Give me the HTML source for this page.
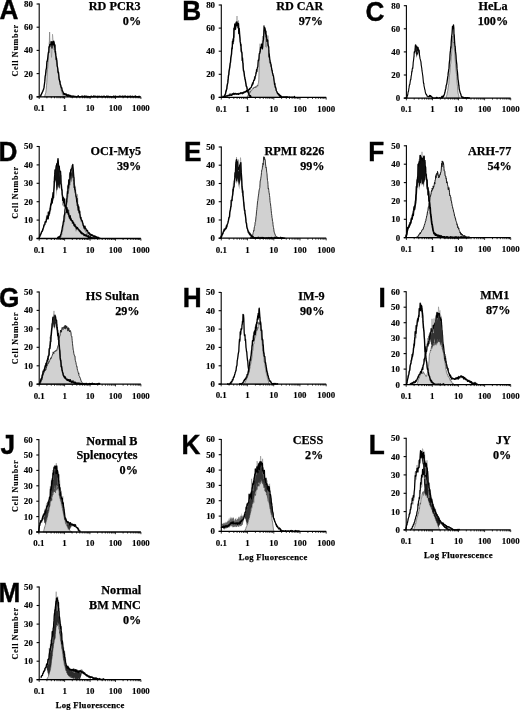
<!DOCTYPE html>
<html><head><meta charset="utf-8"><style>
html,body{margin:0;padding:0;background:#fff;width:520px;height:710px;overflow:hidden}
svg{display:block;will-change:transform;filter:blur(0.3px)}
.t{font-family:"Liberation Serif",serif;font-weight:bold;font-size:8.9px;fill:#000;stroke:#000;stroke-width:0.15px}
.h{font-family:"Liberation Serif",serif;font-weight:bold;font-size:12.2px;fill:#000;stroke:#000;stroke-width:0.25px}
.lf{font-family:"Liberation Serif",serif;font-weight:bold;font-size:8.6px;letter-spacing:0.3px;fill:#000;stroke:#000;stroke-width:0.25px}
.cn{font-family:"Liberation Serif",serif;font-weight:bold;font-size:8.1px;letter-spacing:0.7px;fill:#000;stroke:#000;stroke-width:0.12px}
.L{font-family:"Liberation Sans",sans-serif;font-weight:bold;font-size:27.3px;fill:#000;stroke:#000;stroke-width:0.4px}
</style></head><body>
<svg width="520" height="710" viewBox="0 0 520 710">
<rect width="520" height="710" fill="#fff"/>
<path d="M44 96.8 L44.2 96.3 L44.5 96.2 L44.8 96 L45 95.2 L45.2 94.1 L45.5 93.5 L45.8 92.5 L46 90.8 L46.2 89.6 L46.5 85.6 L46.8 82.5 L47 77.1 L47.2 72.8 L47.5 69.5 L47.8 66.7 L48 62 L48.2 59 L48.5 54.3 L48.8 52.2 L49 48.2 L49.2 46.8 L49.5 45.9 L49.8 44.5 L50 42.3 L50.2 44.6 L50.5 44 L50.8 45.2 L51 45.3 L51.2 43.4 L51.5 46.1 L51.8 43 L52 43.9 L52.2 44 L52.5 42 L52.8 44.4 L53 44.3 L53.2 43.1 L53.5 43.1 L53.8 42.8 L54 46.6 L54.2 49.9 L54.5 47.3 L54.8 52 L55 52.9 L55.2 53.7 L55.5 55.6 L55.8 57.9 L56 58.7 L56.2 60.1 L56.5 62.7 L56.8 64.1 L57 65 L57.2 66.7 L57.5 67.8 L57.8 69.9 L58 71.6 L58.2 73.3 L58.5 75.1 L58.8 76.5 L59 77.9 L59.2 79.8 L59.5 81.1 L59.8 82.2 L60 83.2 L60.2 85.1 L60.5 86.1 L60.8 86.9 L61 88.4 L61.2 89.9 L61.5 91 L61.8 91.9 L62 92.3 L62.2 93.1 L62.5 94.4 L62.8 94.4 L63 95.2 L63.2 95.8 L63.5 96 L63.8 96.2 L64 95.8 L64.2 96.5 L64.5 96.4 L64.8 96.8 L65 96.7 L65 96.8 L44 96.8 Z" fill="#d1d1d1" stroke="#444" stroke-width="0.6"/>
<path d="M40 96.5 L40.5 95.9 L41 94.9 L41.5 94.2 L42 93.3 L42.5 92.7 L43 91.2 L43.5 88.2 L44 87.3 L44.5 81.8 L45 78.4 L45.5 75.8 L46 71.7 L46.5 72.5 L47 60.8 L47.5 61 L48 61.7 L48.5 53.4 L49 45 L49.5 41.5 L50 44.7 L50.5 40.9 L51 48 L51.5 57.4 L52 51.9 L52.5 34.2 L53 39.1 L53.5 44.7 L54 42.9 L54.5 43.2 L55 47 L55.5 53 L56 53.6 L56.5 61.6 L57 60.4 L57.5 66.8 L58 71.4 L58.5 73.8 L59 76.9 L59.5 78.8 L60 82.1 L60.5 84.9 L61 85.9 L61.5 87.9 L62 89.4 L62.5 91.2 L63 91.7 L63.5 94.1 L64 94.2 L64.5 93.7 L65 94.6 L65.5 94.6 L66 94.8 L66.5 95 L67 94.8 L67.5 95.2 L68 95.3 L68.5 96 L69 95.9 L69.5 95.8 L70 96.1 L70.5 95.5 L71 96.3 L71.5 95.9 L72 96.8 L72.5 96.4 L73 96 L73.5 96.3 L74 95.9 L74.5 96.7 L75 96.4 L75.5 96.1 L76 96.8 L76.5 96.5 L77 96.8 L77.5 96.4 L78 96.6 L78.5 96.8 L79 96.5 L79.5 96.8 L80 96.4 L80.5 96.5 L81 96.4 L81.5 96.8 L82 96.8 L82.5 96.6 L83 96.8 L83.5 96.8 L84 96.4 L84.5 96.7 L85 96.8 L85.5 96.7 L86 96.5 L86.5 96.5 L87 95.8 L87.5 96.6 L88 96.8 L88.5 96.7 L89 96.2 L89.5 96.6 L90 96.8 L90.5 96.8 L91 96.8 L91.5 96.8 L92 96.6 L92.5 96.8 L93 96.8 L93.5 96.8 L94 96.7 L94.5 96.8 L95 96.3 L95.5 96.7 L96 96.4 L96.5 96.8 L97 96.8 L97.5 96.8 L98 96.8 L98.5 96.5 L99 96.7 L99.5 96.2 L100 96.8 L100.5 96.4 L101 96 L101.5 96.4 L102 96.6 L102.5 96.8 L103 96.5 L103.5 96.8 L104 96.7 L104.5 96.8 L105 96.2 L105.5 96.8 L106 96.8 L106.5 96.8 L107 96.8 L107.5 96.8 L108 96.8 L108.5 96 L109 96.8 L109.5 96.8 L110 96.7 L110.5 96.8 L111 96.7 L111.5 96.4 L112 96.8 L112.5 96.8 L113 96.8 L113.5 96 L114 96.8 L114.5 96.8 L115 96.8 L115.5 96.3 L116 96.8 L116.5 96.8 L117 96.8 L117.5 96.6 L118 96.8 L118.5 96.6 L119 96.7 L119.5 96.7 L120 96.6 L120.5 96.8 L121 96.8 L121.5 96.8 L122 96.8 L122.5 96.8 L123 96.8 L123.5 96.7 L124 96.8 L124.5 96.8 L125 96.8 L125.5 96.8 L126 96.8 L126.5 96.1 L127 96.8 L127.5 96.8 L128 96.8 L128.5 96.8 L129 96.8 L129.5 96.3 L130 96.8 L130.5 96.8 L131 96.6 L131.5 96.6 L132 96.8 L132.5 96.8 L133 96.7 L133.5 96.6 L134 96.8 L134.5 96.7 L135 96.8 L135.5 96.6 L136 96.4 L136.5 96.8 L137 96.8 L137.5 96.1 L138 96.8 L138.5 96.8 L139 96.8 L139.5 96.7 L140 96.8" fill="none" stroke="#8a8a8a" stroke-width="0.6" stroke-linejoin="round"/>
<path d="M40 96.8 L40.2 96.5 L40.5 95.6 L40.8 96.1 L41 94.7 L41.2 94.6 L41.5 94.1 L41.8 93.2 L42 93.1 L42.2 92.6 L42.5 91.6 L42.8 91.5 L43 90.4 L43.2 89.9 L43.5 89.8 L43.8 88.4 L44 87.7 L44.2 86 L44.5 83.8 L44.8 81.4 L45 78.7 L45.2 75.9 L45.5 75.4 L45.8 72 L46 69.6 L46.2 69.4 L46.5 67.7 L46.8 62.9 L47 61.1 L47.2 61.4 L47.5 59.6 L47.8 57.3 L48 55.3 L48.2 53.7 L48.5 51.9 L48.8 52.4 L49 46.9 L49.2 46.6 L49.5 47 L49.8 44.2 L50 46.1 L50.2 43.1 L50.5 43.1 L50.8 44 L51 44.2 L51.2 41.7 L51.5 43.8 L51.8 42.1 L52 48 L52.2 43.2 L52.5 42.7 L52.8 41.6 L53 44.6 L53.2 42.3 L53.5 44.8 L53.8 41.1 L54 42.5 L54.2 42.6 L54.5 47 L54.8 46.4 L55 44.9 L55.2 52 L55.5 51.4 L55.8 55.4 L56 56 L56.2 59.4 L56.5 58 L56.8 60.5 L57 62.4 L57.2 66 L57.5 66.9 L57.8 68.9 L58 71.8 L58.2 72.7 L58.5 72.1 L58.8 74.7 L59 78 L59.2 79.3 L59.5 80.3 L59.8 81.9 L60 81.2 L60.2 84.3 L60.5 84.5 L60.8 85.4 L61 86.8 L61.2 87.1 L61.5 88.1 L61.8 87.8 L62 89.3 L62.2 90.7 L62.5 90.9 L62.8 91.5 L63 92.3 L63.2 92.8 L63.5 93.9 L63.8 94.2 L64 93.4 L64.2 94.5 L64.5 93.9 L64.8 93.6 L65 94.5 L65.2 94.1 L65.5 94.1 L65.8 94.8 L66 93.9 L66.2 95.7 L66.5 94.7 L66.8 94.4 L67 95.1 L67.2 95 L67.5 95.6 L67.8 96.4 L68 95 L68.2 95.5 L68.5 94.9 L68.8 95.6 L69 96.1 L69.2 96.2 L69.5 95.7 L69.8 95.2 L70 96.4 L70.2 95.3 L70.5 96.6 L70.8 95.8 L71 96.8 L71.2 96.8 L71.5 96.8 L71.8 96.5 L72 95.8 L72.2 96 L72.5 96.6 L72.8 96.8 L73 96.5 L73.2 96.8 L73.5 96.8 L73.8 95.9 L74 96.8 L74.2 96.8 L74.5 96.8 L74.8 96.8 L75 96.3 L75.2 96.4 L75.5 96.8 L75.8 96.8 L76 96.6 L76.2 96.8 L76.5 96.8 L76.8 96.8 L77 96.5 L77.2 96.8 L77.5 96.7 L77.8 96.5 L78 96.6 L78.2 95.7 L78.5 96.5 L78.8 96.8 L79 96.8 L79.2 96.6 L79.5 96.8 L79.8 96.8 L80 96.8 L80.2 96.8 L80.5 96.6 L80.8 96.7 L81 96.7 L81.2 96.8 L81.5 96.6 L81.8 96.5 L82 95.9 L82.2 96.7 L82.5 96.3 L82.8 96.8 L83 96.8 L83.2 96.8 L83.5 96.6 L83.8 96.6 L84 96.8 L84.2 95.9 L84.5 96.5 L84.8 96.8 L85 96.8 L85.2 96.8 L85.5 96.1 L85.8 96.8 L86 96.5 L86.2 96.8 L86.5 96.3 L86.8 96.8 L87 96.5 L87.2 96.8 L87.5 96.5 L87.8 96.7 L88 96.8 L88.2 96.8 L88.5 96.4 L88.8 96.8 L89 96.8 L89.2 96.8 L89.5 96.6 L89.8 96.8 L90 96.8 L90.2 96.5 L90.5 96.8 L90.8 96.5 L91 96.4 L91.2 96.8 L91.5 96.1 L91.8 96.8 L92 96.8 L92.2 96.8 L92.5 96.8 L92.8 96.6 L93 96.5 L93.2 96.7 L93.5 96.3 L93.8 96.8 L94 96 L94.2 96.5 L94.5 96.8 L94.8 96.8 L95 96.4 L95.2 96.7 L95.5 96.5 L95.8 96.1 L96 96.8 L96.2 96.8 L96.5 96.8 L96.8 96.8 L97 96.8 L97.2 96.6 L97.5 96.5 L97.8 96.1 L98 96.8 L98.2 96.8 L98.5 96.8 L98.8 96.4 L99 96.8 L99.2 96.8 L99.5 96.3 L99.8 96.8 L100 96.7 L100.2 96.8 L100.5 96.8 L100.8 96.6 L101 96.7 L101.2 96.3 L101.5 96.8 L101.8 96.8 L102 96.8 L102.2 96.4 L102.5 96.7 L102.8 96.7 L103 96.8 L103.2 96.8 L103.5 96.8 L103.8 96.8 L104 96 L104.2 96.7 L104.5 96.8 L104.8 96.7 L105 96.8 L105.2 96.6 L105.5 96.8 L105.8 96.6 L106 96.8 L106.2 96.8 L106.5 96.2 L106.8 96.7 L107 96.1 L107.2 96.8 L107.5 96.8 L107.8 96.8 L108 96.1 L108.2 96.8 L108.5 96.4 L108.8 96.8 L109 96.8 L109.2 96.8 L109.5 96.6 L109.8 96.7 L110 96.4 L110.2 96.8 L110.5 96.8 L110.8 96.7 L111 96.8 L111.2 96.8 L111.5 96.8 L111.8 96.7 L112 96.8 L112.2 96.8 L112.5 96.8 L112.8 96.8 L113 96.8 L113.2 96.5 L113.5 96.1 L113.8 96.7 L114 96.8 L114.2 96.8 L114.5 96.7 L114.8 96.3 L115 96.8 L115.2 96.2 L115.5 96.8 L115.8 96.2 L116 96.8 L116.2 96.8 L116.5 96.8 L116.8 96.8 L117 96.8 L117.2 96.8 L117.5 96.4 L117.8 96.7 L118 96.6 L118.2 96.8 L118.5 96.5 L118.8 96.5 L119 96.8 L119.2 96.8 L119.5 96.3 L119.8 96.6 L120 95.9 L120.2 96.4 L120.5 96.6 L120.8 96.8 L121 96.5 L121.2 96.5 L121.5 96.6 L121.8 96.7 L122 96.5 L122.2 96.2 L122.5 96.2 L122.8 96.8 L123 96.4 L123.2 96.6 L123.5 96.8 L123.8 96.4 L124 96.2 L124.2 96.8 L124.5 96.8 L124.8 96.1 L125 96.5 L125.2 95.9 L125.5 96.8 L125.8 96.4 L126 96.8 L126.2 96.8 L126.5 96.8 L126.8 96.5 L127 96.8 L127.2 96.8 L127.5 96.3 L127.8 96.6 L128 96.7 L128.2 96.8 L128.5 96.8 L128.8 96.5 L129 96.2 L129.2 96.8 L129.5 96.8 L129.8 96.5 L130 96.8 L130.2 96.8 L130.5 96.1 L130.8 96.6 L131 96.8 L131.2 96.8 L131.5 96.8 L131.8 96.8 L132 96.5 L132.2 96.1 L132.5 96.8 L132.8 96.8 L133 96.8 L133.2 96.5 L133.5 96.8 L133.8 96.8 L134 96.8 L134.2 96.5 L134.5 96.5 L134.8 96.8 L135 96.8 L135.2 96.3 L135.5 95.9 L135.8 96.8 L136 96.3 L136.2 96.8 L136.5 96.6 L136.8 96.8 L137 96.7 L137.2 96.6 L137.5 96.8 L137.8 96.8 L138 96.8 L138.2 96.8 L138.5 96.8 L138.8 96.7 L139 96.1 L139.2 96.5 L139.5 96.8 L139.8 96.8 L140 96.6" fill="none" stroke="#000" stroke-width="1.3" stroke-linejoin="round"/>
<path d="M49.3 44 L49.6 32 L49.9 44" fill="none" stroke="#888" stroke-width="0.9"/>
<line x1="39.2" y1="3.5" x2="39.2" y2="96.8" stroke="#000" stroke-width="1.1"/>
<line x1="36.6" y1="96.8" x2="39.2" y2="96.8" stroke="#000" stroke-width="1.1"/>
<text x="32.9" y="99.7" class="t" text-anchor="end">0</text>
<line x1="36.6" y1="73.6" x2="39.2" y2="73.6" stroke="#000" stroke-width="1.1"/>
<text x="32.9" y="76.5" class="t" text-anchor="end">20</text>
<line x1="36.6" y1="50.4" x2="39.2" y2="50.4" stroke="#000" stroke-width="1.1"/>
<text x="32.9" y="53.3" class="t" text-anchor="end">40</text>
<line x1="36.6" y1="27.2" x2="39.2" y2="27.2" stroke="#000" stroke-width="1.1"/>
<text x="32.9" y="30.1" class="t" text-anchor="end">60</text>
<line x1="36.6" y1="4" x2="39.2" y2="4" stroke="#000" stroke-width="1.1"/>
<text x="32.9" y="6.9" class="t" text-anchor="end">80</text>
<line x1="36.6" y1="96.8" x2="140.9" y2="96.8" stroke="#000" stroke-width="1.3"/>
<path d="M39.2 96.8v2.2M46.9 96.8v1.5M51.3 96.8v1.5M54.5 96.8v1.5M57 96.8v1.5M59 96.8v1.5M60.7 96.8v1.5M62.2 96.8v1.5M63.5 96.8v1.5M64.6 96.8v2.2M72.3 96.8v1.5M76.8 96.8v1.5M79.9 96.8v1.5M82.4 96.8v1.5M84.4 96.8v1.5M86.1 96.8v1.5M87.6 96.8v1.5M88.9 96.8v1.5M90.1 96.8v2.2M97.7 96.8v1.5M102.2 96.8v1.5M105.4 96.8v1.5M107.8 96.8v1.5M109.8 96.8v1.5M111.5 96.8v1.5M113 96.8v1.5M114.3 96.8v1.5M115.5 96.8v2.2M123.1 96.8v1.5M127.6 96.8v1.5M130.8 96.8v1.5M133.2 96.8v1.5M135.3 96.8v1.5M137 96.8v1.5M138.4 96.8v1.5M139.7 96.8v1.5M140.9 96.8v2.2" stroke="#000" stroke-width="0.8"/>
<text x="39.2" y="111.1" class="t" text-anchor="middle">0.1</text>
<text x="64.6" y="111.1" class="t" text-anchor="middle">1</text>
<text x="90.1" y="111.1" class="t" text-anchor="middle">10</text>
<text x="115.5" y="111.1" class="t" text-anchor="middle">100</text>
<text x="140.9" y="111.1" class="t" text-anchor="middle">1000</text>
<text transform="translate(-0.5 18.6) scale(0.96 1)" class="L">A</text>
<text x="140.6" y="9.5" class="h" text-anchor="end">RD PCR3</text>
<text x="141.1" y="24.8" class="h" text-anchor="end">0%</text>
<text transform="translate(17.8 50.4) rotate(-90)" class="cn" text-anchor="middle">Cell Number</text>
<path d="M247 97.2 L247.2 96.8 L247.5 95.9 L247.8 96.3 L248 95.1 L248.2 94.7 L248.5 95 L248.8 93.3 L249 93.8 L249.2 92.7 L249.5 93.1 L249.8 91.5 L250 92.3 L250.2 91.2 L250.5 92.3 L250.8 91.1 L251 90.5 L251.2 90.9 L251.5 90.2 L251.8 89.9 L252 90.1 L252.2 89.3 L252.5 88.9 L252.8 88.8 L253 87.9 L253.2 89 L253.5 88.8 L253.8 87.6 L254 87.1 L254.2 88 L254.5 87 L254.8 86.9 L255 87.6 L255.2 87.4 L255.5 87.8 L255.8 86.3 L256 87.6 L256.2 86.6 L256.5 86.2 L256.8 85.8 L257 86.6 L257.2 85.2 L257.5 85.1 L257.8 86.1 L258 84.3 L258.2 83.5 L258.5 82.6 L258.8 79.9 L259 70.7 L259.2 61.1 L259.5 54.5 L259.8 54.4 L260 51.3 L260.2 49.5 L260.5 48.9 L260.8 47.8 L261 47 L261.2 47.3 L261.5 45.3 L261.8 45.4 L262 43.9 L262.2 43.4 L262.5 45 L262.8 42.3 L263 41.1 L263.2 39 L263.5 37.3 L263.8 34.7 L264 33 L264.2 30 L264.5 30.3 L264.8 32.5 L265 30 L265.2 29.7 L265.5 32 L265.8 37.3 L266 34.4 L266.2 36.7 L266.5 37.4 L266.8 37.3 L267 38.9 L267.2 40.9 L267.5 41.4 L267.8 43.6 L268 44.2 L268.2 44.1 L268.5 49.5 L268.8 50 L269 53.7 L269.2 55.4 L269.5 56.4 L269.8 59.2 L270 60.1 L270.2 61.7 L270.5 63 L270.8 63.6 L271 66.8 L271.2 64.9 L271.5 67.8 L271.8 68.1 L272 69.6 L272.2 69.6 L272.5 72.7 L272.8 72.9 L273 73.5 L273.2 75.6 L273.5 76.4 L273.8 78 L274 79.2 L274.2 80.2 L274.5 82 L274.8 83.8 L275 85.5 L275.2 86.5 L275.5 88 L275.8 87.8 L276 89.1 L276.2 89 L276.5 91.3 L276.8 91.6 L277 92.9 L277.2 93.2 L277.5 93.2 L277.8 93.4 L278 93.2 L278.2 93.4 L278.5 93.2 L278.8 94.1 L279 94.3 L279.2 95 L279.5 95.8 L279.8 95.2 L280 96.2 L280.2 96.3 L280.5 96.3 L280.8 96.9 L281 96.8 L281.2 96.3 L281.5 97 L281.8 97.4 L282 97.4 L282.2 96.5 L282.5 97.4 L282.8 96.7 L283 97.4 L283.2 97.4 L283.5 97 L283.8 97.2 L284 96.9 L284.2 96.7 L284.5 97.4 L284.8 97.4 L285 97.4 L285.2 97.4 L285.5 97.2 L285.8 96.9 L286 96.7 L286.2 97.2 L286.5 96.9 L286.8 97.1 L287 97.4 L287.2 96.9 L287.5 96.5 L287.8 97.4 L288 97.4 L288.2 97.4 L288.5 96.9 L288.8 97.2 L289 97.4 L289.2 97.4 L289.5 97.1 L289.8 97.4 L290 97.3 L290 97.4 L247 97.4 Z" fill="#d1d1d1" stroke="#444" stroke-width="0.6"/>
<path d="M224 97.1 L224.5 96.9 L225 96.4 L225.5 96.3 L226 95.8 L226.5 95.5 L227 95.5 L227.5 95.6 L228 95.2 L228.5 95.2 L229 95 L229.5 93.9 L230 94.4 L230.5 94.1 L231 93.9 L231.5 94.6 L232 94.9 L232.5 93.9 L233 94.4 L233.5 93.9 L234 95.1 L234.5 94.7 L235 93.9 L235.5 93.6 L236 94.2 L236.5 93.4 L237 94.2 L237.5 93.5 L238 93.4 L238.5 93 L239 93.7 L239.5 94.2 L240 93.1 L240.5 92.5 L241 93.3 L241.5 93.6 L242 93.1 L242.5 92.2 L243 92 L243.5 91.9 L244 91.5 L244.5 92.4 L245 91.9 L245.5 92 L246 91.4 L246.5 90.7 L247 90.9 L247.5 90.7 L248 89.7 L248.5 91.2 L249 88.9 L249.5 90.4 L250 89.5 L250.5 87.3 L251 88 L251.5 86.6 L252 83.9 L252.5 84.3 L253 83 L253.5 82.1 L254 79 L254.5 76.9 L255 77.4 L255.5 77.4 L256 73 L256.5 73.3 L257 71.1 L257.5 71.8 L258 64 L258.5 61.8 L259 56.6 L259.5 54.2 L260 43.7 L260.5 50.4 L261 48.5 L261.5 46.7 L262 47.3 L262.5 36.1 L263 47.6 L263.5 37.2 L264 30.6 L264.5 32.5 L265 31.3 L265.5 46.8 L266 36.9 L266.5 47.5 L267 39.2 L267.5 44.3 L268 35.6 L268.5 48.5 L269 56.8 L269.5 63.4 L270 61.2 L270.5 65.2 L271 64 L271.5 72.3 L272 72.7 L272.5 72.6 L273 75.5 L273.5 77.5 L274 80.4 L274.5 81 L275 83.4 L275.5 87.8 L276 90.8 L276.5 90.8 L277 92 L277.5 93.4 L278 93.2 L278.5 94.8 L279 94.1 L279.5 95 L280 95.6 L280.5 96.2 L281 96.8 L281.5 96.8 L282 97.1 L282.5 97.4 L283 97.4 L283.5 97.4 L284 96.8 L284.5 97.4 L285 97.4 L285.5 97.4 L286 97 L286.5 97.2 L287 97.1 L287.5 97.4 L288 97 L288.5 97.1 L289 96.9 L289.5 97.4 L290 97.4 L290.5 97.1 L291 96.9 L291.5 97.4 L292 97.4 L292.5 97.3 L293 97.1 L293.5 97.4 L294 97.4 L294.5 96.7 L295 97.4" fill="none" stroke="#8a8a8a" stroke-width="0.6" stroke-linejoin="round"/>
<path d="M224 97.4 L224.2 97 L224.5 97 L224.8 96.7 L225 96.3 L225.2 97 L225.5 96.1 L225.8 96.2 L226 95.8 L226.2 96.2 L226.5 96 L226.8 96.1 L227 96.3 L227.2 95.4 L227.5 95.9 L227.8 95.8 L228 95.8 L228.2 95.6 L228.5 95.6 L228.8 95.2 L229 95.1 L229.2 95.6 L229.5 95.6 L229.8 94.7 L230 93.9 L230.2 95.1 L230.5 95.1 L230.8 95.4 L231 95.3 L231.2 94.8 L231.5 95.5 L231.8 95.1 L232 94.3 L232.2 93.5 L232.5 94.9 L232.8 94.1 L233 94.4 L233.2 94.4 L233.5 94.3 L233.8 93 L234 93.8 L234.2 94.1 L234.5 94 L234.8 93.7 L235 94.4 L235.2 93.8 L235.5 93.3 L235.8 93.7 L236 93.9 L236.2 94 L236.5 93.8 L236.8 94.4 L237 93.7 L237.2 94 L237.5 94.1 L237.8 93.7 L238 94.2 L238.2 93.8 L238.5 94.5 L238.8 93.6 L239 93.3 L239.2 93.4 L239.5 93.8 L239.8 93.9 L240 93.7 L240.2 93.2 L240.5 93.6 L240.8 93 L241 92.5 L241.2 93 L241.5 93.1 L241.8 93.4 L242 93 L242.2 93.9 L242.5 92.6 L242.8 92.9 L243 93.2 L243.2 92.7 L243.5 92.2 L243.8 93.2 L244 92.3 L244.2 92.5 L244.5 92.3 L244.8 91.6 L245 92.1 L245.2 91.3 L245.5 92.1 L245.8 91.7 L246 91.7 L246.2 91.5 L246.5 90.5 L246.8 91.7 L247 90.5 L247.2 91.5 L247.5 91.7 L247.8 90.8 L248 91.1 L248.2 91.1 L248.5 89.6 L248.8 89.9 L249 89.3 L249.2 89.2 L249.5 88.7 L249.8 89.5 L250 88.4 L250.2 88.3 L250.5 87.8 L250.8 87.8 L251 87.6 L251.2 86.8 L251.5 87 L251.8 84.8 L252 85.5 L252.2 85.4 L252.5 82.8 L252.8 82.9 L253 84.1 L253.2 82.8 L253.5 81.4 L253.8 80 L254 80 L254.2 79.8 L254.5 80.2 L254.8 76.7 L255 78.6 L255.2 76.3 L255.5 76.1 L255.8 74.8 L256 72.3 L256.2 73.5 L256.5 69.7 L256.8 71.4 L257 70 L257.2 68.5 L257.5 67.2 L257.8 66.9 L258 63.4 L258.2 60.2 L258.5 60.9 L258.8 59.9 L259 58.1 L259.2 53.9 L259.5 53.4 L259.8 53.3 L260 51.4 L260.2 51.9 L260.5 47.4 L260.8 48.8 L261 48.1 L261.2 47.1 L261.5 44.1 L261.8 46.4 L262 45.8 L262.2 46.7 L262.5 48.8 L262.8 43.2 L263 42.2 L263.2 40.7 L263.5 39.9 L263.8 33.1 L264 25.8 L264.2 30.7 L264.5 28.4 L264.8 27.5 L265 30.4 L265.2 28.5 L265.5 34 L265.8 32.2 L266 31.2 L266.2 37.1 L266.5 35.1 L266.8 41.3 L267 40.7 L267.2 39.5 L267.5 40.3 L267.8 40.1 L268 45.4 L268.2 44.9 L268.5 46.8 L268.8 46.7 L269 57 L269.2 53.7 L269.5 56 L269.8 60 L270 60.1 L270.2 62.8 L270.5 62.2 L270.8 63.9 L271 64.7 L271.2 66.3 L271.5 67.4 L271.8 70.2 L272 70.5 L272.2 70.4 L272.5 73.2 L272.8 73.9 L273 75.1 L273.2 75.9 L273.5 75.7 L273.8 78.6 L274 80.3 L274.2 82 L274.5 84.3 L274.8 83.4 L275 85.4 L275.2 87.3 L275.5 86.7 L275.8 87.9 L276 88.9 L276.2 90.5 L276.5 91.1 L276.8 91.4 L277 91.9 L277.2 92.5 L277.5 93.6 L277.8 93.6 L278 93.4 L278.2 94.3 L278.5 93.8 L278.8 95.2 L279 94.2 L279.2 94.7 L279.5 96.1 L279.8 94.9 L280 95.7 L280.2 95.9 L280.5 97.1 L280.8 95.7 L281 96.1 L281.2 97.4 L281.5 96.3 L281.8 97.3 L282 97.4 L282.2 97.2 L282.5 97 L282.8 97.4 L283 97.4 L283.2 97.4 L283.5 97.4 L283.8 96.6 L284 97.4 L284.2 97.4 L284.5 97.4 L284.8 97.3 L285 96.8 L285.2 97.3 L285.5 97.4 L285.8 96.9 L286 96.7 L286.2 97.2 L286.5 97.4 L286.8 96.9 L287 97.2 L287.2 97.4 L287.5 97.2 L287.8 96.9 L288 97.3 L288.2 97.4 L288.5 97.4 L288.8 97.3 L289 97.4 L289.2 97 L289.5 97.3 L289.8 97.1 L290 97.4 L290.2 97.4 L290.5 97.4 L290.8 97.4 L291 97.4 L291.2 97.1 L291.5 97.4 L291.8 97.4 L292 97.4 L292.2 97.1 L292.5 97.4 L292.8 97.4 L293 97.4 L293.2 97.1 L293.5 97.4 L293.8 97.4 L294 97.4 L294.2 97.4 L294.5 96.4 L294.8 97.4 L295 97.3" fill="none" stroke="#000" stroke-width="1.2" stroke-linejoin="round"/>
<path d="M222.5 97.4 L223 97.4 L223.5 97.4 L224 97.4 L224.5 96.1 L225 94.9 L225.5 93.6 L226 91.7 L226.5 89.6 L227 86.3 L227.5 82.9 L228 78.6 L228.5 74.6 L229 71.1 L229.5 68.1 L230 67.9 L230.5 62.5 L231 57.2 L231.5 55.6 L232 48.2 L232.5 45.5 L233 38.2 L233.5 37.8 L234 28.2 L234.5 37.7 L235 25.3 L235.5 24.3 L236 26.3 L236.5 23.3 L237 16 L237.5 24.9 L238 24.6 L238.5 20.5 L239 31.4 L239.5 29.8 L240 35.6 L240.5 48.8 L241 51.7 L241.5 48.3 L242 53.9 L242.5 58.8 L243 65.4 L243.5 69.7 L244 73.4 L244.5 77.4 L245 79.6 L245.5 80.7 L246 85.8 L246.5 86 L247 89 L247.5 90.5 L248 91.4 L248.5 93.3 L249 95.4 L249.5 95.9 L250 95.8 L250.5 96.4 L251 97.1 L251.5 97.4 L252 97.4" fill="none" stroke="#8a8a8a" stroke-width="0.6" stroke-linejoin="round"/>
<path d="M222.5 97.4 L222.8 97.4 L223 96.2 L223.2 97.4 L223.5 97.4 L223.8 97.4 L224 96.8 L224.2 96.8 L224.5 95.9 L224.8 95.5 L225 94.8 L225.2 94.3 L225.5 93.8 L225.8 92 L226 90.8 L226.2 91.1 L226.5 89.4 L226.8 88.9 L227 86.5 L227.2 85.4 L227.5 83.9 L227.8 82.9 L228 80.4 L228.2 78.9 L228.5 75.3 L228.8 74.9 L229 71.9 L229.2 70.4 L229.5 68.8 L229.8 66.6 L230 64.9 L230.2 63 L230.5 62.5 L230.8 58.1 L231 56.9 L231.2 55.7 L231.5 54.1 L231.8 49 L232 47.7 L232.2 48.7 L232.5 41.2 L232.8 43.2 L233 43.7 L233.2 38.9 L233.5 41.3 L233.8 34.9 L234 28.3 L234.2 29.8 L234.5 27.7 L234.8 24.1 L235 23.9 L235.2 26.4 L235.5 29.2 L235.8 26.4 L236 24.2 L236.2 22.3 L236.5 25.7 L236.8 25.3 L237 21.9 L237.2 24.1 L237.5 24.5 L237.8 24.5 L238 27.8 L238.2 23.4 L238.5 23.7 L238.8 33.5 L239 29.3 L239.2 28.4 L239.5 33.9 L239.8 36.9 L240 38.7 L240.2 41.9 L240.5 42.9 L240.8 46 L241 44.5 L241.2 49.8 L241.5 52.2 L241.8 52.2 L242 54 L242.2 60.5 L242.5 57.9 L242.8 62.7 L243 63.3 L243.2 67.8 L243.5 70.9 L243.8 70.9 L244 72 L244.2 73.5 L244.5 76.4 L244.8 77.3 L245 79.2 L245.2 79.3 L245.5 81.3 L245.8 83.1 L246 84 L246.2 85.9 L246.5 86.6 L246.8 86.8 L247 87.9 L247.2 89.4 L247.5 90.6 L247.8 91 L248 91.7 L248.2 92.8 L248.5 92.8 L248.8 93.5 L249 94.5 L249.2 95.3 L249.5 95 L249.8 96.2 L250 96.2 L250.2 96.8 L250.5 95.7 L250.8 97.2 L251 97.2 L251.2 97.3 L251.5 97.4 L251.8 97.4 L252 97.4" fill="none" stroke="#000" stroke-width="1.4" stroke-linejoin="round"/>
<line x1="221.3" y1="4.5" x2="221.3" y2="97.4" stroke="#000" stroke-width="1.1"/>
<line x1="218.7" y1="97.4" x2="221.3" y2="97.4" stroke="#000" stroke-width="1.1"/>
<text x="215" y="100.3" class="t" text-anchor="end">0</text>
<line x1="218.7" y1="74.3" x2="221.3" y2="74.3" stroke="#000" stroke-width="1.1"/>
<text x="215" y="77.2" class="t" text-anchor="end">20</text>
<line x1="218.7" y1="51.2" x2="221.3" y2="51.2" stroke="#000" stroke-width="1.1"/>
<text x="215" y="54.1" class="t" text-anchor="end">40</text>
<line x1="218.7" y1="28.1" x2="221.3" y2="28.1" stroke="#000" stroke-width="1.1"/>
<text x="215" y="31" class="t" text-anchor="end">60</text>
<line x1="218.7" y1="5" x2="221.3" y2="5" stroke="#000" stroke-width="1.1"/>
<text x="215" y="7.9" class="t" text-anchor="end">80</text>
<line x1="218.7" y1="97.4" x2="326.2" y2="97.4" stroke="#000" stroke-width="1.3"/>
<path d="M221.3 97.4v2.2M229.2 97.4v1.5M233.8 97.4v1.5M237.1 97.4v1.5M239.6 97.4v1.5M241.7 97.4v1.5M243.5 97.4v1.5M245 97.4v1.5M246.3 97.4v1.5M247.5 97.4v2.2M255.4 97.4v1.5M260 97.4v1.5M263.3 97.4v1.5M265.9 97.4v1.5M267.9 97.4v1.5M269.7 97.4v1.5M271.2 97.4v1.5M272.6 97.4v1.5M273.8 97.4v2.2M281.6 97.4v1.5M286.3 97.4v1.5M289.5 97.4v1.5M292.1 97.4v1.5M294.2 97.4v1.5M295.9 97.4v1.5M297.4 97.4v1.5M298.8 97.4v1.5M300 97.4v2.2M307.9 97.4v1.5M312.5 97.4v1.5M315.8 97.4v1.5M318.3 97.4v1.5M320.4 97.4v1.5M322.1 97.4v1.5M323.7 97.4v1.5M325 97.4v1.5M326.2 97.4v2.2" stroke="#000" stroke-width="0.8"/>
<text x="221.3" y="111.7" class="t" text-anchor="middle">0.1</text>
<text x="247.5" y="111.7" class="t" text-anchor="middle">1</text>
<text x="273.8" y="111.7" class="t" text-anchor="middle">10</text>
<text x="300" y="111.7" class="t" text-anchor="middle">100</text>
<text x="326.2" y="111.7" class="t" text-anchor="middle">1000</text>
<text transform="translate(182.3 19.9) scale(0.96 1)" class="L">B</text>
<text x="323.2" y="10.1" class="h" text-anchor="end">RD CAR</text>
<text x="323" y="24.9" class="h" text-anchor="end">97%</text>
<path d="M405.5 98 L405.8 97.9 L406 98.1 L406.2 98 L406.5 97.7 L406.8 97.5 L407 97.7 L407.2 96.2 L407.5 95.6 L407.8 94.5 L408 92.9 L408.2 91.6 L408.5 91.5 L408.8 89 L409 87.9 L409.2 86.4 L409.5 84.6 L409.8 84.6 L410 83.1 L410.2 81.6 L410.5 79.6 L410.8 79.8 L411 77.6 L411.2 75.8 L411.5 74.9 L411.8 71.4 L412 71.8 L412.2 69.3 L412.5 67.9 L412.8 68.4 L413 65.7 L413.2 62.3 L413.5 60.7 L413.8 58.1 L414 56.3 L414.2 51.9 L414.5 52.5 L414.8 51.3 L415 51.2 L415.2 46.4 L415.5 44.7 L415.8 48.3 L416 46.3 L416.2 46.7 L416.5 46.6 L416.8 46.1 L417 48.3 L417.2 49.5 L417.5 50 L417.8 50.9 L418 47.2 L418.2 48.2 L418.5 49.6 L418.8 50.5 L419 53 L419.2 50 L419.5 54.7 L419.8 56.9 L420 58.4 L420.2 59 L420.5 60.4 L420.8 61 L421 62.4 L421.2 65.1 L421.5 66.7 L421.8 68.3 L422 70.7 L422.2 72 L422.5 74 L422.8 75.8 L423 77.7 L423.2 80.1 L423.5 83.2 L423.8 83.1 L424 85.8 L424.2 86.7 L424.5 88.1 L424.8 89.6 L425 89.9 L425.2 91.6 L425.5 92.8 L425.8 93.8 L426 93.9 L426.2 94.6 L426.5 94.4 L426.8 95.1 L427 96.1 L427.2 95.9 L427.5 96.1 L427.8 96.3 L428 96.7 L428.2 96.8 L428.5 96.7 L428.8 96.7 L429 96.4 L429.2 96.6 L429.5 95.4 L429.8 95.9 L430 96.7 L430.2 95.5 L430.5 96.4 L430.8 95.6 L431 96.3 L431.2 96.2 L431.5 96.7 L431.8 97 L432 97.3 L432.2 97.9 L432.5 97.2 L432.8 97.8 L433 98.1 L433.2 98 L433.5 98.1 L433.8 98.1 L434 98.1 L434.2 98.1 L434.5 98.1 L434.8 98.1 L435 98.1 L435.2 98.1 L435.5 98.1 L435.8 97.8 L436 97.9 L436.2 98.1 L436.5 97.2 L436.8 98.1 L437 97.3 L437.2 98 L437.5 98.1 L437.8 97.8 L438 98.1 L438.2 98 L438.5 98.1 L438.8 98.1 L439 98.1 L439.2 97.9 L439.5 97.7 L439.8 97.5 L440 97.5" fill="none" stroke="#000" stroke-width="1.1" stroke-linejoin="round"/>
<path d="M411 78.5 L411.2 76.5 L411.5 73.6 L411.8 73.1 L412 70.4 L412.2 70.1 L412.5 68.2 L412.8 67.2 L413 64 L413.2 62.4 L413.5 61.8 L413.8 58 L414 55.6 L414.2 56.2 L414.5 53.7 L414.8 48.8 L415 47.9 L415.2 47.4 L415.5 45.3 L415.8 48.1 L416 47 L416.2 45.6 L416.5 43.9 L416.8 50.7 L417 45.9 L417.2 46.8 L417.5 53 L417.8 51.2 L418 47.1 L418.2 53.8 L418.5 51.1 L418.8 47.5 L419 51 L419.2 51.6 L419.5 54.6 L419.8 57 L420 59.3 L420.2 60.1 L420.5 60.7 L420.8 60.3 L421 61.5 L421.2 65.1 L421.5 65.5 L421.8 68.6 L422 71.3 L422.2 73.1 L422.5 74.2 L422.8 76.7 L423 78.6 L423 79.1 L422.8 77.2 L422.5 74.7 L422.2 73.6 L422 71.8 L421.8 69.1 L421.5 67.6 L421.2 65.6 L421 64.1 L420.8 60.8 L420.5 61.2 L420.2 60.6 L420 59.8 L419.8 57.5 L419.5 56.5 L419.2 52.6 L419 51.5 L418.8 52.7 L418.5 51.8 L418.2 54.3 L418 56.8 L417.8 54 L417.5 54.6 L417.2 55 L417 56.1 L416.8 58.1 L416.5 56.3 L416.2 55 L416 53.8 L415.8 53.9 L415.5 51.4 L415.2 51.8 L415 51.2 L414.8 54 L414.5 54.2 L414.2 56.7 L414 56.8 L413.8 59.8 L413.5 62.3 L413.2 62.9 L413 66.4 L412.8 68.2 L412.5 68.7 L412.2 71.1 L412 73.2 L411.8 74.2 L411.5 75.1 L411.2 77 L411 79 Z" fill="#111" stroke="none"/>
<path d="M446 97.8 L446.2 96.9 L446.5 95.7 L446.8 95.5 L447 94.6 L447.2 93.2 L447.5 91.5 L447.8 90.4 L448 88.2 L448.2 87.2 L448.5 85.1 L448.8 83.7 L449 79.3 L449.2 77.6 L449.5 75.4 L449.8 72.8 L450 70.5 L450.2 67.5 L450.5 64.6 L450.8 63.1 L451 59 L451.2 56.8 L451.5 56 L451.8 50.3 L452 49 L452.2 42.6 L452.5 41.9 L452.8 39.1 L453 36 L453.2 42.7 L453.5 42 L453.8 42.7 L454 45 L454.2 47.4 L454.5 50.5 L454.8 51.8 L455 55.8 L455.2 59.7 L455.5 63.7 L455.8 67 L456 68.9 L456.2 71.7 L456.5 74.3 L456.8 76.6 L457 80.4 L457.2 83.7 L457.5 86.3 L457.8 90.8 L458 92.4 L458.2 93.7 L458.5 94.7 L458.8 95.7 L459 97.5 L459.2 98.1 L459.5 98.1 L459.5 98.1 L446 98.1 Z" fill="#d1d1d1" stroke="#444" stroke-width="0.6"/>
<path d="M440 98.1 L440.2 98.1 L440.5 98.1 L440.8 98.1 L441 97.7 L441.2 97.3 L441.5 97.7 L441.8 96.5 L442 97.8 L442.2 96.8 L442.5 97.8 L442.8 97.4 L443 96 L443.2 96.9 L443.5 96.3 L443.8 95.8 L444 95.4 L444.2 94.8 L444.5 94 L444.8 92.5 L445 92.2 L445.2 91.1 L445.5 89.4 L445.8 88.7 L446 87.1 L446.2 85.3 L446.5 84.9 L446.8 83.6 L447 82.5 L447.2 80.7 L447.5 79.1 L447.8 76.7 L448 75.9 L448.2 72.9 L448.5 71.6 L448.8 69 L449 68.4 L449.2 64.3 L449.5 61.4 L449.8 59.5 L450 55 L450.2 52.6 L450.5 50.4 L450.8 46.6 L451 48.1 L451.2 42.2 L451.5 38.5 L451.8 35.1 L452 34.2 L452.2 31.1 L452.5 26.3 L452.8 26.9 L453 26.8 L453.2 28.5 L453.5 24.8 L453.8 27.8 L454 36 L454.2 34.6 L454.5 40.2 L454.8 44.5 L455 46.3 L455.2 47 L455.5 51.4 L455.8 53.6 L456 55.6 L456.2 59.3 L456.5 62 L456.8 64.4 L457 68.4 L457.2 70.5 L457.5 72.7 L457.8 76.3 L458 79.5 L458.2 80 L458.5 82.6 L458.8 85.2 L459 86.6 L459.2 88.8 L459.5 90.2 L459.8 91.1 L460 92.2 L460.2 92.5 L460.5 93.6 L460.8 94.1 L461 94.9 L461.2 96.1 L461.5 96.4 L461.8 97.1 L462 97.5 L462.2 96.8 L462.5 97.7 L462.8 97.4 L463 97.2 L463.2 98.1 L463.5 97.8 L463.8 97.5 L464 97.8 L464.2 98 L464.5 98.1 L464.8 98.1 L465 98.1 L465.2 97.6 L465.5 97.9 L465.8 98.1 L466 97.7 L466.2 98 L466.5 98.1 L466.8 98.1 L467 98.1 L467.2 97.6 L467.5 98.1 L467.8 97.6 L468 98.1 L468.2 97.8 L468.5 98.1 L468.8 98.1 L469 98.1 L469.2 97.9 L469.5 98.1 L469.8 98.1 L470 98.1" fill="none" stroke="#000" stroke-width="1.3" stroke-linejoin="round"/>
<line x1="406.4" y1="5.2" x2="406.4" y2="98.1" stroke="#000" stroke-width="1.1"/>
<line x1="403.8" y1="98.1" x2="406.4" y2="98.1" stroke="#000" stroke-width="1.1"/>
<text x="400.1" y="101" class="t" text-anchor="end">0</text>
<line x1="403.8" y1="75" x2="406.4" y2="75" stroke="#000" stroke-width="1.1"/>
<text x="400.1" y="77.9" class="t" text-anchor="end">20</text>
<line x1="403.8" y1="51.9" x2="406.4" y2="51.9" stroke="#000" stroke-width="1.1"/>
<text x="400.1" y="54.8" class="t" text-anchor="end">40</text>
<line x1="403.8" y1="28.8" x2="406.4" y2="28.8" stroke="#000" stroke-width="1.1"/>
<text x="400.1" y="31.7" class="t" text-anchor="end">60</text>
<line x1="403.8" y1="5.7" x2="406.4" y2="5.7" stroke="#000" stroke-width="1.1"/>
<text x="400.1" y="8.6" class="t" text-anchor="end">80</text>
<line x1="403.8" y1="98.1" x2="510.7" y2="98.1" stroke="#000" stroke-width="1.3"/>
<path d="M406.4 98.1v2.2M414.2 98.1v1.5M418.8 98.1v1.5M422.1 98.1v1.5M424.6 98.1v1.5M426.7 98.1v1.5M428.4 98.1v1.5M429.9 98.1v1.5M431.3 98.1v1.5M432.5 98.1v2.2M440.3 98.1v1.5M444.9 98.1v1.5M448.2 98.1v1.5M450.7 98.1v1.5M452.8 98.1v1.5M454.5 98.1v1.5M456 98.1v1.5M457.4 98.1v1.5M458.5 98.1v2.2M466.4 98.1v1.5M471 98.1v1.5M474.2 98.1v1.5M476.8 98.1v1.5M478.8 98.1v1.5M480.6 98.1v1.5M482.1 98.1v1.5M483.4 98.1v1.5M484.6 98.1v2.2M492.5 98.1v1.5M497.1 98.1v1.5M500.3 98.1v1.5M502.9 98.1v1.5M504.9 98.1v1.5M506.7 98.1v1.5M508.2 98.1v1.5M509.5 98.1v1.5M510.7 98.1v2.2" stroke="#000" stroke-width="0.8"/>
<text x="406.4" y="112.4" class="t" text-anchor="middle">0.1</text>
<text x="432.5" y="112.4" class="t" text-anchor="middle">1</text>
<text x="458.5" y="112.4" class="t" text-anchor="middle">10</text>
<text x="484.6" y="112.4" class="t" text-anchor="middle">100</text>
<text x="510.7" y="112.4" class="t" text-anchor="middle">1000</text>
<text transform="translate(365.6 20.9) scale(0.96 1)" class="L">C</text>
<text x="507.6" y="10.2" class="h" text-anchor="end">HeLa</text>
<text x="508.1" y="25.2" class="h" text-anchor="end">100%</text>
<path d="M60 238.3 L60.2 238.2 L60.5 237.5 L60.8 236.8 L61 237 L61.2 235.1 L61.5 233.9 L61.8 234.5 L62 232.5 L62.2 232.3 L62.5 231 L62.8 229.8 L63 228.5 L63.2 227.6 L63.5 226 L63.8 224 L64 222.9 L64.2 222.2 L64.5 219.2 L64.8 219.3 L65 216.5 L65.2 215.2 L65.5 213.3 L65.8 209.4 L66 207.9 L66.2 206.8 L66.5 205.3 L66.8 204 L67 201.2 L67.2 201.8 L67.5 197.8 L67.8 197.2 L68 194.2 L68.2 193 L68.5 190.8 L68.8 190.8 L69 189.2 L69.2 188.6 L69.5 185.6 L69.8 184.9 L70 185.1 L70.2 183.7 L70.5 182.9 L70.8 180.8 L71 181.3 L71.2 179.2 L71.5 177.5 L71.8 177.5 L72 177.7 L72.2 176.5 L72.5 175 L72.8 174.7 L73 175.9 L73.2 180 L73.5 181.2 L73.8 179.6 L74 184.6 L74.2 183.2 L74.5 184.2 L74.8 185.2 L75 188.8 L75.2 191.1 L75.5 194.1 L75.8 196.4 L76 196.8 L76.2 196.2 L76.5 199.2 L76.8 201.2 L77 201.6 L77.2 205.8 L77.5 205.2 L77.8 207.6 L78 207.1 L78.2 209 L78.5 210.5 L78.8 210.7 L79 211.4 L79.2 212.5 L79.5 213.5 L79.8 214.8 L80 215.2 L80.2 217.4 L80.5 218.3 L80.8 218.9 L81 218.9 L81.2 219.8 L81.5 220.7 L81.8 221.7 L82 221.5 L82.2 222.6 L82.5 224 L82.8 225.3 L83 225.8 L83.2 226 L83.5 226.8 L83.8 227.4 L84 227.5 L84.2 228.3 L84.5 229.6 L84.8 229 L85 230.7 L85.2 230.8 L85.5 230.7 L85.8 231.9 L86 232.4 L86.2 232.5 L86.5 232.9 L86.8 233.3 L87 233 L87.2 234.1 L87.5 234.4 L87.8 234.9 L88 234.5 L88.2 234.9 L88.5 235.4 L88.8 236 L89 236.4 L89.2 236.6 L89.5 235.9 L89.8 237.8 L90 236.8 L90.2 236.8 L90.5 237.6 L90.8 237.9 L91 238.4 L91.2 238.5 L91.5 238.5 L91.8 238.5 L92 238.5 L92 238.5 L60 238.5 Z" fill="#d1d1d1" stroke="#444" stroke-width="0.6"/>
<path d="M57 238.5 L57.5 238.5 L58 238.5 L58.5 238 L59 237.2 L59.5 237.5 L60 236 L60.5 234.5 L61 234.4 L61.5 231.6 L62 229.6 L62.5 225.9 L63 223.9 L63.5 221.6 L64 215.7 L64.5 217.4 L65 207.2 L65.5 208.9 L66 207.2 L66.5 201.3 L67 202.6 L67.5 184.6 L68 190.7 L68.5 179.9 L69 182.6 L69.5 173.6 L70 180.4 L70.5 171.7 L71 168.9 L71.5 165.3 L72 170.3 L72.5 169 L73 176.3 L73.5 173.7 L74 177.6 L74.5 187.2 L75 193.2 L75.5 186.8 L76 193.8 L76.5 198.8 L77 200 L77.5 194.3 L78 204 L78.5 204.5 L79 212.3 L79.5 213.9 L80 210.8 L80.5 213.5 L81 221.8 L81.5 219.3 L82 220.8 L82.5 222.9 L83 223.9 L83.5 225.7 L84 227.6 L84.5 225.7 L85 227.2 L85.5 229.1 L86 230.4 L86.5 228.9 L87 232.3 L87.5 232.2 L88 233.4 L88.5 232.8 L89 233.8 L89.5 235.1 L90 233.7 L90.5 234 L91 234.5 L91.5 235.1 L92 236.1 L92.5 234.6 L93 235.2 L93.5 236.7 L94 235.6 L94.5 236.9 L95 237.8 L95.5 237 L96 237.1 L96.5 237.2 L97 237.9 L97.5 237.3 L98 237.4 L98.5 237.6 L99 238.5 L99.5 238.2 L100 237.8" fill="none" stroke="#8a8a8a" stroke-width="0.6" stroke-linejoin="round"/>
<path d="M57 238.3 L57.2 238.3 L57.5 238.3 L57.8 237.5 L58 237.7 L58.2 237 L58.5 237.6 L58.8 238.2 L59 238.5 L59.2 236.5 L59.5 236.7 L59.8 236.7 L60 237.1 L60.2 235.8 L60.5 235.8 L60.8 234.1 L61 234 L61.2 233.4 L61.5 231.7 L61.8 230.8 L62 229.8 L62.2 228.5 L62.5 226.4 L62.8 225.1 L63 224.9 L63.2 222.8 L63.5 220.8 L63.8 221.7 L64 218.4 L64.2 215.8 L64.5 214.5 L64.8 213.2 L65 209.6 L65.2 210.2 L65.5 206.9 L65.8 207.8 L66 204.7 L66.2 204.6 L66.5 202.4 L66.8 198.8 L67 197.4 L67.2 194.5 L67.5 191.3 L67.8 193.3 L68 186.2 L68.2 185.8 L68.5 188.1 L68.8 179.8 L69 184.9 L69.2 184.5 L69.5 179.6 L69.8 180.3 L70 172.6 L70.2 177.8 L70.5 172.6 L70.8 169.7 L71 170.6 L71.2 169.1 L71.5 170 L71.8 168.3 L72 167.8 L72.2 168.6 L72.5 166.1 L72.8 164.3 L73 167 L73.2 168.9 L73.5 172.9 L73.8 177.8 L74 177.5 L74.2 187.5 L74.5 186 L74.8 189.4 L75 189.7 L75.2 190.1 L75.5 192.8 L75.8 194.5 L76 195.7 L76.2 196.7 L76.5 198.9 L76.8 201.9 L77 198.3 L77.2 202.1 L77.5 205.8 L77.8 205.6 L78 204.8 L78.2 210.2 L78.5 209.1 L78.8 206.8 L79 211.3 L79.2 212.9 L79.5 210.8 L79.8 213.4 L80 214.7 L80.2 216.2 L80.5 218.1 L80.8 217.4 L81 217.4 L81.2 219.7 L81.5 220.1 L81.8 220.7 L82 220.4 L82.2 221 L82.5 222 L82.8 223.3 L83 223.9 L83.2 225.2 L83.5 225.5 L83.8 226.9 L84 226.5 L84.2 228.3 L84.5 227 L84.8 226.5 L85 226.3 L85.2 227.9 L85.5 228.4 L85.8 228.3 L86 229.4 L86.2 229.6 L86.5 230.6 L86.8 230.1 L87 231.2 L87.2 230.5 L87.5 230.5 L87.8 231.4 L88 232.1 L88.2 233 L88.5 232.7 L88.8 232.6 L89 232.7 L89.2 233.9 L89.5 233.2 L89.8 234.1 L90 235.2 L90.2 234.5 L90.5 234.2 L90.8 234.8 L91 235 L91.2 235.4 L91.5 235.5 L91.8 234.5 L92 235.5 L92.2 236 L92.5 235 L92.8 235.8 L93 235.4 L93.2 236.1 L93.5 235.9 L93.8 236.7 L94 237.1 L94.2 236.7 L94.5 235.8 L94.8 236.9 L95 236.7 L95.2 236.1 L95.5 236.8 L95.8 237.4 L96 237 L96.2 236.8 L96.5 237.2 L96.8 237.5 L97 237.1 L97.2 237.9 L97.5 237.8 L97.8 237.6 L98 237.2 L98.2 237.3 L98.5 238.2 L98.8 238.3 L99 238.5 L99.2 238 L99.5 238.1 L99.8 238.5 L100 237.6" fill="none" stroke="#000" stroke-width="1.3" stroke-linejoin="round"/>
<path d="M39 238.5 L39.5 237.3 L40 236.7 L40.5 234 L41 232.7 L41.5 232 L42 231.6 L42.5 229.6 L43 230.6 L43.5 227.6 L44 224.3 L44.5 224.1 L45 224.8 L45.5 223.9 L46 222.1 L46.5 215 L47 217.9 L47.5 211.8 L48 212.9 L48.5 213 L49 215.6 L49.5 207.8 L50 211.6 L50.5 210.6 L51 209.9 L51.5 201.6 L52 202.9 L52.5 202.2 L53 197 L53.5 200.4 L54 181 L54.5 183 L55 172.9 L55.5 173.4 L56 171.1 L56.5 167.1 L57 167.4 L57.5 160 L58 160 L58.5 164.2 L59 168.4 L59.5 172.8 L60 171.5 L60.5 177.5 L61 175.2 L61.5 182.5 L62 186.3 L62.5 205.3 L63 201.8 L63.5 206.4 L64 199.5 L64.5 198 L65 197.8 L65.5 211.9 L66 207.5 L66.5 209.4 L67 208.6 L67.5 210.2 L68 209.9 L68.5 211.7 L69 210 L69.5 214.4 L70 215.8 L70.5 217.8 L71 217.6 L71.5 220.8 L72 223.8 L72.5 220.3 L73 220.5 L73.5 223.9 L74 223.3 L74.5 224.3 L75 225.1 L75.5 224.7 L76 231.3 L76.5 226.8 L77 228.1 L77.5 229.1 L78 230.6 L78.5 230.7 L79 231.4 L79.5 230.6 L80 231.7 L80.5 232.8 L81 231.8 L81.5 232.4 L82 234.1 L82.5 233.9 L83 234.1 L83.5 234.4 L84 234.9 L84.5 233.7 L85 235 L85.5 234.2 L86 235.7 L86.5 235.4 L87 236.4 L87.5 236 L88 236.2 L88.5 237.7 L89 236.5 L89.5 237.6 L90 237.1 L90.5 238.5 L91 238.3 L91.5 238 L92 238.4 L92.5 237.7 L93 238.5 L93.5 238.3 L94 238.4 L94.5 238.4 L95 238.5" fill="none" stroke="#8a8a8a" stroke-width="0.6" stroke-linejoin="round"/>
<path d="M39 238.5 L39.2 238.1 L39.5 236.9 L39.8 236.3 L40 235.8 L40.2 234.5 L40.5 235 L40.8 234 L41 233.8 L41.2 233.4 L41.5 232.1 L41.8 231.5 L42 231.6 L42.2 231.4 L42.5 230.3 L42.8 229.6 L43 228.7 L43.2 228.2 L43.5 227.5 L43.8 226.5 L44 225 L44.2 225 L44.5 225 L44.8 224.2 L45 222.7 L45.2 221.8 L45.5 221.9 L45.8 221.7 L46 222 L46.2 220.9 L46.5 219.1 L46.8 218.9 L47 216.8 L47.2 216.7 L47.5 218.9 L47.8 215.8 L48 215.6 L48.2 218.8 L48.5 212.8 L48.8 215.8 L49 212 L49.2 211.6 L49.5 213.8 L49.8 210.7 L50 210.1 L50.2 209.9 L50.5 205.9 L50.8 204.8 L51 203.3 L51.2 204.7 L51.5 201 L51.8 198.6 L52 200.9 L52.2 203 L52.5 197.1 L52.8 195.6 L53 193.3 L53.2 192.4 L53.5 197.7 L53.8 190.7 L54 188.3 L54.2 185.2 L54.5 177.8 L54.8 174.4 L55 169.9 L55.2 173.5 L55.5 173.5 L55.8 171.6 L56 170.7 L56.2 165.6 L56.5 166.9 L56.8 163.8 L57 168.2 L57.2 163.4 L57.5 163.6 L57.8 161.2 L58 158.6 L58.2 161.1 L58.5 166.3 L58.8 166.9 L59 171.2 L59.2 166.1 L59.5 169.8 L59.8 171.5 L60 171.8 L60.2 172 L60.5 171.4 L60.8 176.7 L61 184.1 L61.2 184.2 L61.5 188.1 L61.8 190.1 L62 189.8 L62.2 194.8 L62.5 195.8 L62.8 200.5 L63 198.9 L63.2 197.3 L63.5 198.9 L63.8 202.7 L64 199.4 L64.2 201 L64.5 199.3 L64.8 205.7 L65 205.4 L65.2 205.1 L65.5 206.9 L65.8 205.6 L66 208.6 L66.2 208.5 L66.5 209.1 L66.8 212.6 L67 207.8 L67.2 211.6 L67.5 211 L67.8 210.2 L68 210.1 L68.2 214.2 L68.5 212.9 L68.8 214.4 L69 216.5 L69.2 216.3 L69.5 218.1 L69.8 217.6 L70 215.9 L70.2 215.8 L70.5 219.9 L70.8 218.3 L71 219.1 L71.2 219.2 L71.5 220.7 L71.8 220.6 L72 220.9 L72.2 220.9 L72.5 220.8 L72.8 222.9 L73 222.2 L73.2 223.4 L73.5 222.4 L73.8 224.2 L74 225.3 L74.2 225.7 L74.5 225.2 L74.8 224.4 L75 226.3 L75.2 226.7 L75.5 226.1 L75.8 226.4 L76 226.7 L76.2 227.3 L76.5 228.9 L76.8 228 L77 228.5 L77.2 228.2 L77.5 227.6 L77.8 228.6 L78 229 L78.2 229.1 L78.5 229.3 L78.8 230.1 L79 229.6 L79.2 230.6 L79.5 230.9 L79.8 231.2 L80 230.7 L80.2 231.3 L80.5 232.4 L80.8 231.6 L81 232.2 L81.2 233.4 L81.5 232.9 L81.8 232.6 L82 233.2 L82.2 234 L82.5 233.5 L82.8 233.6 L83 233.4 L83.2 233.7 L83.5 234.2 L83.8 234.3 L84 235.5 L84.2 234.5 L84.5 234.7 L84.8 235.3 L85 234.8 L85.2 235.5 L85.5 235.4 L85.8 235.9 L86 235.4 L86.2 234.8 L86.5 235.8 L86.8 236 L87 236.3 L87.2 236.7 L87.5 236.3 L87.8 236.3 L88 236.8 L88.2 235.6 L88.5 237.4 L88.8 236.9 L89 237.3 L89.2 237.4 L89.5 237.3 L89.8 236.9 L90 237.6 L90.2 237.1 L90.5 236.8 L90.8 237.9 L91 237.4 L91.2 238.2 L91.5 237.7 L91.8 238.4 L92 238.5 L92.2 238.1 L92.5 238 L92.8 237.8 L93 238 L93.2 238.1 L93.5 238 L93.8 238.2 L94 238.2 L94.2 237.9 L94.5 238.5 L94.8 238.5 L95 238.5" fill="none" stroke="#000" stroke-width="1.4" stroke-linejoin="round"/>
<path d="M51 202.5 L51.2 203.9 L51.5 206.2 L51.8 202 L52 197.6 L52.2 201.2 L52.5 198.8 L52.8 198.1 L53 194.4 L53.2 196.1 L53.5 196.2 L53.8 193.4 L54 185.7 L54.2 181.2 L54.5 175.6 L54.8 173.8 L55 172.8 L55.2 171.3 L55.5 166 L55.8 168 L56 172.3 L56.2 167.7 L56.5 165.8 L56.8 167.4 L57 163.2 L57.2 163.4 L57.5 165.4 L57.8 161.7 L58 163.1 L58.2 165.8 L58.5 167.3 L58.8 169.3 L59 171.2 L59.2 167.7 L59.5 170.4 L59.8 167.7 L60 177.8 L60.2 173.4 L60.5 171.8 L60.8 171.4 L61 179.6 L61.2 186.2 L61.5 190 L61.8 193.5 L62 192.1 L62.2 194.3 L62.5 193.3 L62.8 197.1 L63 197.8 L63.2 199.4 L63.5 199.2 L63.8 202.8 L64 201.1 L64.2 205.5 L64.5 204.5 L64.8 203.7 L65 204.8 L65 206.2 L64.8 204.2 L64.5 207 L64.2 207.1 L64 206.5 L63.8 203.3 L63.5 200.4 L63.2 199.9 L63 199.8 L62.8 198.3 L62.5 197.1 L62.2 199.5 L62 192.6 L61.8 194 L61.5 190.5 L61.2 189.2 L61 185.4 L60.8 183.5 L60.5 184.4 L60.2 184.5 L60 183.3 L59.8 188 L59.5 187.7 L59.2 189.8 L59 187.3 L58.8 184.4 L58.5 188.6 L58.2 186.7 L58 188 L57.8 189.4 L57.5 190.4 L57.2 186.9 L57 184.3 L56.8 196.5 L56.5 190.7 L56.2 190.1 L56 186.3 L55.8 179.6 L55.5 183.1 L55.2 180.3 L55 180.9 L54.8 175.3 L54.5 179.9 L54.2 186.6 L54 191.2 L53.8 194.8 L53.5 196.7 L53.2 198.1 L53 199.2 L52.8 198.6 L52.5 199.3 L52.2 201.7 L52 200.7 L51.8 202.5 L51.5 206.7 L51.2 204.4 L51 205.4 Z" fill="#111" stroke="none"/>
<path d="M66 204.7 L66.2 204.5 L66.5 200.2 L66.8 200.3 L67 196.2 L67.2 193.2 L67.5 196.7 L67.8 190.2 L68 188.8 L68.2 187.7 L68.5 187.7 L68.8 185.9 L69 179.3 L69.2 179.1 L69.5 182.3 L69.8 179.5 L70 177.8 L70.2 177.2 L70.5 178.2 L70.8 175 L71 171.8 L71.2 173.4 L71.5 167.9 L71.8 169.3 L72 169.2 L72.2 167.8 L72.5 167.4 L72.8 169.5 L73 171.2 L73.2 168 L73.5 177.4 L73.8 179.7 L74 181.9 L74.2 182.2 L74.5 184.2 L74.8 188 L75 189.8 L75.2 190.4 L75.5 191.3 L75.8 192.1 L76 196.3 L76.2 197.6 L76.5 197 L76.8 201.3 L77 205 L77.2 204.3 L77.5 203.6 L77.8 206.3 L78 204.2 L78 208.4 L77.8 206.8 L77.5 205.3 L77.2 204.8 L77 205.5 L76.8 201.8 L76.5 199.2 L76.2 199.4 L76 196.8 L75.8 196.2 L75.5 194.8 L75.2 195.9 L75 191.8 L74.8 188.5 L74.5 186.8 L74.2 187.1 L74 182.4 L73.8 180.2 L73.5 177.9 L73.2 178.8 L73 175.3 L72.8 176.4 L72.5 178.3 L72.2 178.5 L72 175.3 L71.8 177.7 L71.5 179.5 L71.2 182.3 L71 176.3 L70.8 179.1 L70.5 178.7 L70.2 180.9 L70 183.1 L69.8 181.8 L69.5 182.8 L69.2 179.6 L69 182.2 L68.8 186.4 L68.5 188.2 L68.2 188.2 L68 192.4 L67.8 190.7 L67.5 197.2 L67.2 197.4 L67 199.1 L66.8 201.3 L66.5 201.7 L66.2 205 L66 207.5 Z" fill="#222" stroke="none"/>
<line x1="39.2" y1="146" x2="39.2" y2="238.5" stroke="#000" stroke-width="1.1"/>
<line x1="36.6" y1="238.5" x2="39.2" y2="238.5" stroke="#000" stroke-width="1.1"/>
<text x="32.9" y="241.4" class="t" text-anchor="end">0</text>
<line x1="36.6" y1="220.1" x2="39.2" y2="220.1" stroke="#000" stroke-width="1.1"/>
<text x="32.9" y="223" class="t" text-anchor="end">10</text>
<line x1="36.6" y1="201.7" x2="39.2" y2="201.7" stroke="#000" stroke-width="1.1"/>
<text x="32.9" y="204.6" class="t" text-anchor="end">20</text>
<line x1="36.6" y1="183.3" x2="39.2" y2="183.3" stroke="#000" stroke-width="1.1"/>
<text x="32.9" y="186.2" class="t" text-anchor="end">30</text>
<line x1="36.6" y1="164.9" x2="39.2" y2="164.9" stroke="#000" stroke-width="1.1"/>
<text x="32.9" y="167.8" class="t" text-anchor="end">40</text>
<line x1="36.6" y1="146.5" x2="39.2" y2="146.5" stroke="#000" stroke-width="1.1"/>
<text x="32.9" y="149.4" class="t" text-anchor="end">50</text>
<line x1="36.6" y1="238.5" x2="140.9" y2="238.5" stroke="#000" stroke-width="1.3"/>
<path d="M39.2 238.5v2.2M46.9 238.5v1.5M51.3 238.5v1.5M54.5 238.5v1.5M57 238.5v1.5M59 238.5v1.5M60.7 238.5v1.5M62.2 238.5v1.5M63.5 238.5v1.5M64.6 238.5v2.2M72.3 238.5v1.5M76.8 238.5v1.5M79.9 238.5v1.5M82.4 238.5v1.5M84.4 238.5v1.5M86.1 238.5v1.5M87.6 238.5v1.5M88.9 238.5v1.5M90.1 238.5v2.2M97.7 238.5v1.5M102.2 238.5v1.5M105.4 238.5v1.5M107.8 238.5v1.5M109.8 238.5v1.5M111.5 238.5v1.5M113 238.5v1.5M114.3 238.5v1.5M115.5 238.5v2.2M123.1 238.5v1.5M127.6 238.5v1.5M130.8 238.5v1.5M133.2 238.5v1.5M135.3 238.5v1.5M137 238.5v1.5M138.4 238.5v1.5M139.7 238.5v1.5M140.9 238.5v2.2" stroke="#000" stroke-width="0.8"/>
<text x="39.2" y="252.8" class="t" text-anchor="middle">0.1</text>
<text x="64.6" y="252.8" class="t" text-anchor="middle">1</text>
<text x="90.1" y="252.8" class="t" text-anchor="middle">10</text>
<text x="115.5" y="252.8" class="t" text-anchor="middle">100</text>
<text x="140.9" y="252.8" class="t" text-anchor="middle">1000</text>
<text transform="translate(-1.6 160.8) scale(0.96 1)" class="L">D</text>
<text x="141.2" y="154.8" class="h" text-anchor="end">OCI-My5</text>
<text x="141.3" y="169.8" class="h" text-anchor="end">39%</text>
<text transform="translate(17.8 192.5) rotate(-90)" class="cn" text-anchor="middle">Cell Number</text>
<path d="M250 237.9 L250.2 237.8 L250.5 237.6 L250.8 238.2 L251 237.7 L251.2 238.1 L251.5 237.7 L251.8 237.1 L252 237 L252.2 235.3 L252.5 235 L252.8 234.8 L253 233.6 L253.2 232.3 L253.5 232 L253.8 230.1 L254 230.5 L254.2 228 L254.5 226.5 L254.8 226 L255 224.2 L255.2 222.2 L255.5 221.8 L255.8 219 L256 216.6 L256.2 215.9 L256.5 211.9 L256.8 209.6 L257 207.3 L257.2 205.8 L257.5 202 L257.8 200.5 L258 198.9 L258.2 197.1 L258.5 195.1 L258.8 193.1 L259 191 L259.2 189.9 L259.5 188.8 L259.8 187.6 L260 183.9 L260.2 180.5 L260.5 180.6 L260.8 178.2 L261 176.8 L261.2 175.8 L261.5 172.5 L261.8 169.9 L262 169.9 L262.2 169.4 L262.5 165.8 L262.8 166.3 L263 163.2 L263.2 164.7 L263.5 159.4 L263.8 156.7 L264 160.1 L264.2 158.5 L264.5 157.3 L264.8 159.6 L265 159.4 L265.2 159.6 L265.5 164 L265.8 166.1 L266 167.9 L266.2 167.4 L266.5 170 L266.8 172.8 L267 173.8 L267.2 177.1 L267.5 180.5 L267.8 181.8 L268 184.6 L268.2 188.8 L268.5 188.2 L268.8 190.4 L269 192.3 L269.2 193 L269.5 195.5 L269.8 197.6 L270 200.6 L270.2 202.5 L270.5 203.9 L270.8 206.7 L271 208.3 L271.2 210.4 L271.5 213.6 L271.8 215.5 L272 217.5 L272.2 218.2 L272.5 221.4 L272.8 221.7 L273 224.5 L273.2 226.1 L273.5 227.5 L273.8 229.2 L274 231 L274.2 232.5 L274.5 232.6 L274.8 233.8 L275 233.9 L275.2 235 L275.5 235.6 L275.8 236 L276 235.9 L276.2 237.4 L276.5 237 L276.8 236.5 L277 237.2 L277.2 237 L277.5 238 L277.8 238 L278 237.8 L278.2 238.1 L278.5 238 L278.8 238 L279 237.7 L279.2 238 L279.5 238.2 L279.8 238.2 L280 238.2 L280.2 238.2 L280.5 237.6 L280.8 238.2 L281 237.5 L281.2 237.9 L281.5 238.2 L281.8 237.9 L282 238.2 L282.2 237.5 L282.5 237.7 L282.8 238.2 L283 237.9 L283 238.2 L250 238.2 Z" fill="#d1d1d1" stroke="#222" stroke-width="0.9"/>
<path d="M220.5 238.2 L221 236.7 L221.5 235.5 L222 234.7 L222.5 234.5 L223 232.8 L223.5 231.4 L224 229.8 L224.5 230.6 L225 229.6 L225.5 226.9 L226 228.3 L226.5 225.2 L227 227.6 L227.5 223.6 L228 222.2 L228.5 219.7 L229 217.9 L229.5 218.1 L230 209.8 L230.5 208.2 L231 206.3 L231.5 204.4 L232 200.7 L232.5 198.4 L233 187.7 L233.5 181 L234 181.3 L234.5 178.4 L235 175.6 L235.5 173.6 L236 169.8 L236.5 157.1 L237 164.4 L237.5 161.9 L238 169.7 L238.5 159.6 L239 167.2 L239.5 172.1 L240 167.7 L240.5 157.6 L241 162.6 L241.5 174.3 L242 189.3 L242.5 187.7 L243 189.7 L243.5 203.4 L244 202.4 L244.5 206.3 L245 213 L245.5 217.6 L246 220.7 L246.5 223.8 L247 228.1 L247.5 228.9 L248 230.9 L248.5 231.3 L249 232.2 L249.5 233.7 L250 233.4 L250.5 234.4 L251 234.9 L251.5 235.8 L252 236.5 L252.5 236.4 L253 236.1 L253.5 237 L254 238.2 L254.5 238.2 L255 238.1 L255.5 238.2 L256 238.2 L256.5 238 L257 238.2 L257.5 238.1 L258 238 L258.5 238.2 L259 237.8 L259.5 238.2 L260 238.2 L260.5 237.9 L261 238 L261.5 237.8 L262 238 L262.5 238.2 L263 238.1 L263.5 238.2 L264 237.9 L264.5 238.2 L265 238.2 L265.5 238.1 L266 238.2 L266.5 237.9 L267 237.7 L267.5 238 L268 238.2 L268.5 238.2 L269 238 L269.5 237.8 L270 237.8 L270.5 238.2 L271 238.2 L271.5 238.2 L272 238.2 L272.5 238.2 L273 237.8 L273.5 237.9 L274 238.2 L274.5 237.8 L275 238.2 L275.5 238.2 L276 238.2 L276.5 237.6 L277 237.7 L277.5 238.2 L278 238 L278.5 238.2 L279 238.1 L279.5 237.9 L280 238.2 L280.5 237.8 L281 238.1 L281.5 237.8 L282 238.2 L282.5 238.1 L283 238.2 L283.5 237.9 L284 238.2 L284.5 238.2 L285 238.1" fill="none" stroke="#8a8a8a" stroke-width="0.6" stroke-linejoin="round"/>
<path d="M220.5 237.8 L220.8 237.9 L221 236.3 L221.2 237 L221.5 236.3 L221.8 236.1 L222 234.8 L222.2 234.2 L222.5 234.7 L222.8 233.1 L223 233.4 L223.2 231.8 L223.5 231.7 L223.8 230.6 L224 230.8 L224.2 229.2 L224.5 230.7 L224.8 229.3 L225 229.7 L225.2 228.7 L225.5 228.9 L225.8 228.1 L226 228.7 L226.2 228.2 L226.5 225.6 L226.8 226.7 L227 225.4 L227.2 224.5 L227.5 223.9 L227.8 223.2 L228 222.4 L228.2 221.4 L228.5 220.4 L228.8 218.3 L229 217.1 L229.2 217.1 L229.5 216.9 L229.8 212.4 L230 211.4 L230.2 210.6 L230.5 209.4 L230.8 206.5 L231 206.7 L231.2 200.5 L231.5 200.1 L231.8 200.5 L232 200.6 L232.2 197.2 L232.5 195.8 L232.8 193.7 L233 189.2 L233.2 191.2 L233.5 187.8 L233.8 186.8 L234 186.9 L234.2 183.7 L234.5 182.1 L234.8 177.9 L235 172.7 L235.2 176 L235.5 171.5 L235.8 164.9 L236 161.7 L236.2 161.2 L236.5 159.6 L236.8 162.9 L237 161.8 L237.2 164.7 L237.5 161.9 L237.8 166.9 L238 168.8 L238.2 169 L238.5 169.5 L238.8 168.4 L239 169 L239.2 167.9 L239.5 166.7 L239.8 165.3 L240 167 L240.2 164.5 L240.5 163.7 L240.8 162.6 L241 168.5 L241.2 172.4 L241.5 175.8 L241.8 181.1 L242 186.7 L242.2 188.4 L242.5 192.7 L242.8 190.9 L243 196.3 L243.2 196.4 L243.5 200.2 L243.8 203.1 L244 205.7 L244.2 207.7 L244.5 210.5 L244.8 210.2 L245 213.5 L245.2 213.9 L245.5 216.1 L245.8 218.5 L246 221.4 L246.2 222.9 L246.5 223.4 L246.8 226.6 L247 227.4 L247.2 228.4 L247.5 228.8 L247.8 230.4 L248 230.4 L248.2 232.1 L248.5 232 L248.8 231.9 L249 233.4 L249.2 233.5 L249.5 234.2 L249.8 233.2 L250 233.9 L250.2 235 L250.5 234.8 L250.8 234.5 L251 235.2 L251.2 236.3 L251.5 235.8 L251.8 236.7 L252 236 L252.2 237.1 L252.5 237.3 L252.8 236.7 L253 236.4 L253.2 237.6 L253.5 238.1 L253.8 238 L254 237.6 L254.2 238.1 L254.5 237.8 L254.8 238.2 L255 237.7 L255.2 237.6 L255.5 237.9 L255.8 238.2 L256 238.2 L256.2 237.6 L256.5 238.2 L256.8 238.2 L257 238.2 L257.2 238.2 L257.5 237.7 L257.8 238.2 L258 238 L258.2 237.2 L258.5 238.2 L258.8 238.2 L259 238.2 L259.2 238.2 L259.5 238.2 L259.8 238.2 L260 237.4 L260.2 238.1 L260.5 238.2 L260.8 238 L261 238.2 L261.2 238.2 L261.5 238.2 L261.8 237.4 L262 238.1 L262.2 238.2 L262.5 237.7 L262.8 237.5 L263 238.2 L263.2 238.1 L263.5 237.8 L263.8 238.2 L264 238.2 L264.2 238.2 L264.5 238.2 L264.8 238.2 L265 238 L265.2 237.9 L265.5 238.2 L265.8 238.2 L266 238.2 L266.2 238.1 L266.5 238.2 L266.8 237.8 L267 237.9 L267.2 238.2 L267.5 238.2 L267.8 238.1 L268 238 L268.2 238 L268.5 238.2 L268.8 238 L269 237.6 L269.2 238.2 L269.5 238.1 L269.8 237.9 L270 238.2 L270.2 238.2 L270.5 238 L270.8 238.2 L271 238.2 L271.2 237.5 L271.5 238.2 L271.8 237.7 L272 237.9 L272.2 238.2 L272.5 238.2 L272.8 237.9 L273 238.2 L273.2 238.2 L273.5 238.2 L273.8 238.2 L274 238 L274.2 238 L274.5 237.4 L274.8 237.5 L275 238 L275.2 238.2 L275.5 238.1 L275.8 237.8 L276 238 L276.2 238 L276.5 237.9 L276.8 237.8 L277 238.1 L277.2 237.8 L277.5 238.2 L277.8 238.2 L278 237.8 L278.2 237.8 L278.5 237.9 L278.8 238.2 L279 238.2 L279.2 238.2 L279.5 238.2 L279.8 238.1 L280 238.2 L280.2 238.2 L280.5 238.2 L280.8 237.3 L281 237.8 L281.2 237.9 L281.5 238.2 L281.8 237.9 L282 238.2 L282.2 238.2 L282.5 238.2 L282.8 237.8 L283 238.2 L283.2 238.2 L283.5 238.2 L283.8 238.2 L284 238.2 L284.2 238.2 L284.5 238.2 L284.8 238.2 L285 237.6" fill="none" stroke="#000" stroke-width="1.4" stroke-linejoin="round"/>
<path d="M231 205.6 L231.2 201.5 L231.5 203.1 L231.8 201.8 L232 200.8 L232.2 196.9 L232.5 196.2 L232.8 193.2 L233 190.5 L233.2 191.3 L233.5 185.9 L233.8 188.2 L234 187 L234.2 184.3 L234.5 182.7 L234.8 181.1 L235 176 L235.2 172.5 L235.5 169.4 L235.8 163.7 L236 164.9 L236.2 162.3 L236.5 164.7 L236.8 158.2 L237 160.1 L237.2 162.9 L237.5 158.8 L237.8 165.1 L238 169.3 L238.2 171.3 L238.5 168.1 L238.8 172 L239 168.7 L239.2 166.7 L239.5 167.7 L239.8 167.2 L240 163.9 L240.2 165.4 L240.5 164.5 L240.8 162.5 L241 166 L241.2 173.6 L241.5 177.4 L241.8 182.7 L242 188.1 L242.2 186.8 L242.5 189.8 L242.8 192.2 L243 194.2 L243.2 200.8 L243.5 200.2 L243.8 202.6 L244 203.7 L244.2 207 L244.5 210.7 L244.8 212.9 L245 213.8 L245.2 216.4 L245.2 216.9 L245 214.3 L244.8 213.4 L244.5 211.2 L244.2 208.3 L244 207 L243.8 205.9 L243.5 201.2 L243.2 201.3 L243 196.3 L242.8 195.6 L242.5 193.9 L242.2 190 L242 190.3 L241.8 184 L241.5 177.9 L241.2 176.4 L241 175.3 L240.8 178 L240.5 181.7 L240.2 179.6 L240 183.9 L239.8 185.1 L239.5 182 L239.2 188.6 L239 189 L238.8 182.4 L238.5 187.3 L238.2 180.4 L238 183.2 L237.8 180.8 L237.5 177.9 L237.2 182.6 L237 181.2 L236.8 180.8 L236.5 181.7 L236.2 184.2 L236 181 L235.8 177.6 L235.5 179 L235.2 177 L235 183.9 L234.8 184.8 L234.5 183.2 L234.2 185.4 L234 188.5 L233.8 188.7 L233.5 188.8 L233.2 191.8 L233 196.2 L232.8 196 L232.5 197.6 L232.2 197.4 L232 201.3 L231.8 203.1 L231.5 205.3 L231.2 205 L231 206.2 Z" fill="#111" stroke="none"/>
<line x1="221.3" y1="146.5" x2="221.3" y2="238.2" stroke="#000" stroke-width="1.1"/>
<line x1="218.7" y1="238.2" x2="221.3" y2="238.2" stroke="#000" stroke-width="1.1"/>
<text x="215" y="241.1" class="t" text-anchor="end">0</text>
<line x1="218.7" y1="220" x2="221.3" y2="220" stroke="#000" stroke-width="1.1"/>
<text x="215" y="222.9" class="t" text-anchor="end">10</text>
<line x1="218.7" y1="201.7" x2="221.3" y2="201.7" stroke="#000" stroke-width="1.1"/>
<text x="215" y="204.6" class="t" text-anchor="end">20</text>
<line x1="218.7" y1="183.5" x2="221.3" y2="183.5" stroke="#000" stroke-width="1.1"/>
<text x="215" y="186.4" class="t" text-anchor="end">30</text>
<line x1="218.7" y1="165.2" x2="221.3" y2="165.2" stroke="#000" stroke-width="1.1"/>
<text x="215" y="168.1" class="t" text-anchor="end">40</text>
<line x1="218.7" y1="147" x2="221.3" y2="147" stroke="#000" stroke-width="1.1"/>
<text x="215" y="149.9" class="t" text-anchor="end">50</text>
<line x1="218.7" y1="238.2" x2="326.2" y2="238.2" stroke="#000" stroke-width="1.3"/>
<path d="M221.3 238.2v2.2M229.2 238.2v1.5M233.8 238.2v1.5M237.1 238.2v1.5M239.6 238.2v1.5M241.7 238.2v1.5M243.5 238.2v1.5M245 238.2v1.5M246.3 238.2v1.5M247.5 238.2v2.2M255.4 238.2v1.5M260 238.2v1.5M263.3 238.2v1.5M265.9 238.2v1.5M267.9 238.2v1.5M269.7 238.2v1.5M271.2 238.2v1.5M272.6 238.2v1.5M273.8 238.2v2.2M281.6 238.2v1.5M286.3 238.2v1.5M289.5 238.2v1.5M292.1 238.2v1.5M294.2 238.2v1.5M295.9 238.2v1.5M297.4 238.2v1.5M298.8 238.2v1.5M300 238.2v2.2M307.9 238.2v1.5M312.5 238.2v1.5M315.8 238.2v1.5M318.3 238.2v1.5M320.4 238.2v1.5M322.1 238.2v1.5M323.7 238.2v1.5M325 238.2v1.5M326.2 238.2v2.2" stroke="#000" stroke-width="0.8"/>
<text x="221.3" y="252.5" class="t" text-anchor="middle">0.1</text>
<text x="247.5" y="252.5" class="t" text-anchor="middle">1</text>
<text x="273.8" y="252.5" class="t" text-anchor="middle">10</text>
<text x="300" y="252.5" class="t" text-anchor="middle">100</text>
<text x="326.2" y="252.5" class="t" text-anchor="middle">1000</text>
<text transform="translate(183.9 161) scale(0.96 1)" class="L">E</text>
<text x="324.4" y="154.5" class="h" text-anchor="end">RPMI 8226</text>
<text x="324.5" y="169.6" class="h" text-anchor="end">99%</text>
<path d="M416 237.5 L416.2 237.7 L416.5 237.7 L416.8 237.2 L417 237.2 L417.2 236.4 L417.5 236.4 L417.8 236.1 L418 236.2 L418.2 236 L418.5 236.3 L418.8 234.6 L419 234.8 L419.2 234.4 L419.5 234.4 L419.8 234.2 L420 232.8 L420.2 233.8 L420.5 232.5 L420.8 232.1 L421 232.3 L421.2 231.9 L421.5 231.8 L421.8 230.4 L422 230.5 L422.2 229.9 L422.5 229.4 L422.8 229.8 L423 229.4 L423.2 229 L423.5 227.2 L423.8 227.3 L424 226.6 L424.2 225.6 L424.5 225 L424.8 223.7 L425 223.5 L425.2 222.6 L425.5 221.1 L425.8 220.8 L426 219.1 L426.2 218.6 L426.5 217.2 L426.8 215.7 L427 215.3 L427.2 213.9 L427.5 211.5 L427.8 211 L428 210.2 L428.2 208 L428.5 206.4 L428.8 205.6 L429 204.2 L429.2 203 L429.5 202.4 L429.8 200.8 L430 196.9 L430.2 196.3 L430.5 196.5 L430.8 194.5 L431 194.5 L431.2 192.6 L431.5 190.5 L431.8 191.2 L432 191.2 L432.2 188.1 L432.5 189.5 L432.8 188.8 L433 189.1 L433.2 185.9 L433.5 187.6 L433.8 187.1 L434 185.7 L434.2 184.8 L434.5 182.3 L434.8 184.1 L435 181.3 L435.2 179.7 L435.5 179.6 L435.8 175.7 L436 177.8 L436.2 174.4 L436.5 174.8 L436.8 175.4 L437 173 L437.2 174.4 L437.5 171.4 L437.8 172.7 L438 173.6 L438.2 174.8 L438.5 176.4 L438.8 178 L439 176.7 L439.2 175.9 L439.5 176.7 L439.8 174.6 L440 175 L440.2 174.9 L440.5 172.5 L440.8 172.7 L441 171.6 L441.2 170.1 L441.5 165.4 L441.8 163.2 L442 166.8 L442.2 160.9 L442.5 162.6 L442.8 163.2 L443 161.7 L443.2 164.5 L443.5 163.2 L443.8 165.8 L444 168.5 L444.2 171.1 L444.5 171 L444.8 171.4 L445 174.1 L445.2 176 L445.5 176.3 L445.8 176.1 L446 178.3 L446.2 178 L446.5 181.3 L446.8 183 L447 181.6 L447.2 182.6 L447.5 184.7 L447.8 185.8 L448 186.4 L448.2 189.5 L448.5 189.9 L448.8 187.5 L449 188.7 L449.2 189.6 L449.5 192.8 L449.8 195.5 L450 195 L450.2 195.8 L450.5 196.8 L450.8 197 L451 200 L451.2 201.1 L451.5 201.2 L451.8 203.6 L452 204.2 L452.2 205.9 L452.5 206.6 L452.8 208.1 L453 209 L453.2 209.4 L453.5 211.1 L453.8 212.3 L454 212.4 L454.2 213.6 L454.5 216 L454.8 216.4 L455 217.1 L455.2 218.4 L455.5 218.2 L455.8 220.3 L456 221 L456.2 221.4 L456.5 222.3 L456.8 223 L457 224.8 L457.2 224.4 L457.5 226.5 L457.8 227.6 L458 226.6 L458.2 227.9 L458.5 228.7 L458.8 228 L459 229.9 L459.2 230.3 L459.5 230.7 L459.8 231.4 L460 232.6 L460.2 232 L460.5 233 L460.8 234.5 L461 233.5 L461.2 233.2 L461.5 234.7 L461.8 234.8 L462 234.1 L462.2 235.4 L462.5 234.6 L462.8 235.4 L463 235.1 L463.2 235.3 L463.5 235.5 L463.8 236.1 L464 236.8 L464.2 236.1 L464.5 235.5 L464.8 236.1 L465 235.8 L465.2 236.9 L465.5 236.6 L465.8 236.6 L466 236.9 L466.2 237.7 L466.5 236.7 L466.8 237.4 L467 237 L467.2 237.2 L467.5 237.2 L467.8 237 L468 237.1 L468.2 237 L468.5 237.6 L468.8 237.7 L469 236.8 L469.2 237.4 L469.2 237.7 L416 237.7 Z" fill="#d1d1d1" stroke="#111" stroke-width="1.0"/>
<path d="M405.5 237.7 L406 236.4 L406.5 235.5 L407 232.2 L407.5 230.6 L408 228.8 L408.5 225.8 L409 227.1 L409.5 227.5 L410 224.7 L410.5 223.3 L411 219.6 L411.5 220.5 L412 217.6 L412.5 217.7 L413 212.2 L413.5 209.6 L414 208.8 L414.5 204.9 L415 208.3 L415.5 201.1 L416 203.4 L416.5 195.1 L417 182.4 L417.5 179.2 L418 170 L418.5 163.8 L419 159.6 L419.5 160.2 L420 159.4 L420.5 161 L421 167 L421.5 158.2 L422 151.8 L422.5 160.5 L423 165.8 L423.5 163.7 L424 155.8 L424.5 167.3 L425 162.1 L425.5 171.3 L426 166.8 L426.5 170.6 L427 186 L427.5 191.3 L428 193.8 L428.5 195.7 L429 199.9 L429.5 201.2 L430 206.3 L430.5 210 L431 218.4 L431.5 220.6 L432 224.5 L432.5 228.8 L433 229.3 L433.5 231.4 L434 233.3 L434.5 234.5 L435 233.4 L435.5 235.1 L436 235.7 L436.5 235.6 L437 235.3 L437.5 235.9 L438 235.8 L438.5 235.6 L439 236 L439.5 236.3 L440 237 L440.5 236.9 L441 236 L441.5 236.5 L442 236.9 L442.5 236.9 L443 236.4 L443.5 236.4 L444 237.1 L444.5 236.4 L445 237.3 L445.5 237.4 L446 237.7 L446.5 236.7 L447 236.9 L447.5 237.7 L448 237.5 L448.5 237.5 L449 237.4 L449.5 237.7 L450 237.6 L450.5 237.7 L451 237.7 L451.5 237.7 L452 237.7 L452.5 237.7 L453 237.7 L453.5 237.7 L454 237.6 L454.5 237.6 L455 237.6 L455.5 237.4 L456 237.7 L456.5 237.7 L457 237 L457.5 237.7 L458 237.7 L458.5 237.3 L459 237.7 L459.5 237.7 L460 237.1 L460.5 237.2 L461 237.7 L461.5 237.7 L462 237.4 L462.5 237.7 L463 237.4 L463.5 237.7 L464 237.2 L464.5 237.7 L465 237.7 L465.5 237.4 L466 237.2 L466.5 237.7 L467 237.7 L467.5 237.5 L468 237.7 L468.5 237 L469 237.5 L469.5 237.4 L470 237.5" fill="none" stroke="#8a8a8a" stroke-width="0.6" stroke-linejoin="round"/>
<path d="M405.5 237.7 L405.8 237.4 L406 237.2 L406.2 235.1 L406.5 235.1 L406.8 234.3 L407 232.7 L407.2 231 L407.5 230.1 L407.8 227.7 L408 228.7 L408.2 227.4 L408.5 227.2 L408.8 227.1 L409 226.7 L409.2 225.1 L409.5 225.7 L409.8 224.2 L410 224.3 L410.2 222.6 L410.5 223.4 L410.8 222.8 L411 221.6 L411.2 220.1 L411.5 218.4 L411.8 218.3 L412 219.2 L412.2 218.1 L412.5 215.2 L412.8 215.7 L413 213.9 L413.2 215.5 L413.5 211.8 L413.8 210.4 L414 208.7 L414.2 206.9 L414.5 209.4 L414.8 206.8 L415 205.7 L415.2 205.1 L415.5 201.6 L415.8 199.8 L416 194.9 L416.2 193.8 L416.5 186.5 L416.8 187.3 L417 184.3 L417.2 179.9 L417.5 180.3 L417.8 176.8 L418 176.7 L418.2 164.4 L418.5 164.7 L418.8 165.8 L419 163.1 L419.2 165.8 L419.5 161.5 L419.8 163.6 L420 162.5 L420.2 155.6 L420.5 163.9 L420.8 156.9 L421 157.7 L421.2 158.8 L421.5 163.1 L421.8 161.5 L422 159.5 L422.2 158.8 L422.5 163.8 L422.8 162.3 L423 160.1 L423.2 159.5 L423.5 157.7 L423.8 160.8 L424 156.4 L424.2 165.8 L424.5 164.5 L424.8 160.5 L425 169.2 L425.2 166.2 L425.5 172.9 L425.8 173.8 L426 174.3 L426.2 177 L426.5 179.4 L426.8 180 L427 180.2 L427.2 186.2 L427.5 188.9 L427.8 187.6 L428 188.7 L428.2 194.9 L428.5 191.2 L428.8 194.2 L429 200.5 L429.2 201.6 L429.5 202.3 L429.8 205.2 L430 209 L430.2 207.5 L430.5 213.6 L430.8 214.5 L431 216.8 L431.2 217.7 L431.5 221.2 L431.8 223.3 L432 224.6 L432.2 224.5 L432.5 227 L432.8 228.3 L433 230.1 L433.2 230.6 L433.5 231.7 L433.8 232.5 L434 233.7 L434.2 233 L434.5 233.6 L434.8 233.8 L435 233.5 L435.2 235 L435.5 235.2 L435.8 235 L436 234.5 L436.2 235.1 L436.5 234.7 L436.8 235.3 L437 235.6 L437.2 235.9 L437.5 235.3 L437.8 235.2 L438 236.1 L438.2 236 L438.5 235.5 L438.8 235.7 L439 235.9 L439.2 236.2 L439.5 236.3 L439.8 235.6 L440 236.2 L440.2 236.8 L440.5 237 L440.8 236.6 L441 236.3 L441.2 236 L441.5 236.3 L441.8 236.8 L442 236.6 L442.2 236.6 L442.5 236.9 L442.8 236.8 L443 237.1 L443.2 236.9 L443.5 237.1 L443.8 237.3 L444 237 L444.2 237.7 L444.5 236.9 L444.8 237.7 L445 237.4 L445.2 237.7 L445.5 237.2 L445.8 237.6 L446 237.7 L446.2 237.4 L446.5 237 L446.8 237.3 L447 237.7 L447.2 237.3 L447.5 237.7 L447.8 237 L448 237.7 L448.2 237.7 L448.5 237.7 L448.8 237.5 L449 237.4 L449.2 237.7 L449.5 237.7 L449.8 237.7 L450 237.7 L450.2 237 L450.5 237.2 L450.8 236.9 L451 237.4 L451.2 237.5 L451.5 237.7 L451.8 237.4 L452 237.7 L452.2 237.6 L452.5 237.6 L452.8 237.1 L453 237.2 L453.2 237.7 L453.5 237.7 L453.8 237.5 L454 237.5 L454.2 237.7 L454.5 237.4 L454.8 237.7 L455 237.7 L455.2 237.1 L455.5 237.2 L455.8 237.6 L456 237.1 L456.2 237.7 L456.5 237.2 L456.8 237.7 L457 237.7 L457.2 237.7 L457.5 237.7 L457.8 237.4 L458 237.1 L458.2 237.7 L458.5 237.7 L458.8 237.2 L459 237.7 L459.2 237.7 L459.5 237.5 L459.8 237.7 L460 237.5 L460.2 237.7 L460.5 237.7 L460.8 237.7 L461 236.9 L461.2 237.4 L461.5 237.7 L461.8 237.5 L462 237.4 L462.2 237.1 L462.5 237.7 L462.8 237.3 L463 237.2 L463.2 237.7 L463.5 237.4 L463.8 237.7 L464 237.7 L464.2 237.5 L464.5 237.4 L464.8 237.5 L465 237.7 L465.2 237.7 L465.5 237.4 L465.8 237.7 L466 237.7 L466.2 237.7 L466.5 237.7 L466.8 237.5 L467 237.6 L467.2 237.7 L467.5 237.7 L467.8 237.7 L468 237.7 L468.2 237.7 L468.5 237.5 L468.8 237.4 L469 237.7 L469.2 237.7 L469.5 237.6 L469.8 237.5 L470 237.4" fill="none" stroke="#000" stroke-width="1.7" stroke-linejoin="round"/>
<path d="M413.5 212.6 L413.8 208.8 L414 209.8 L414.2 209.8 L414.5 207.7 L414.8 206.7 L415 205.2 L415.2 204.5 L415.5 201.1 L415.8 200.2 L416 198.8 L416.2 195.9 L416.5 189.1 L416.8 187.4 L417 182 L417.2 182.8 L417.5 182.5 L417.8 174.6 L418 171.6 L418.2 167.1 L418.5 165.9 L418.8 166.8 L419 163 L419.2 166.2 L419.5 162.7 L419.8 162.7 L420 159.6 L420.2 165.6 L420.5 158.8 L420.8 158.1 L421 154.8 L421.2 159.3 L421.5 159.7 L421.8 160 L422 160.8 L422.2 161.3 L422.5 159 L422.8 158.6 L423 162 L423.2 161.2 L423.5 156.9 L423.8 156.3 L424 159.3 L424.2 157.5 L424.5 157.9 L424.8 161.7 L425 165.6 L425.2 169.7 L425.5 172.9 L425.8 174.1 L426 177.5 L426.2 173.4 L426.5 176.9 L426.8 179.7 L427 181.6 L427.2 189.4 L427.5 185.5 L427.8 187.7 L428 191.9 L428.2 189.3 L428.5 189.4 L428.8 194.4 L429 200.2 L429 200.7 L428.8 194.9 L428.5 191.4 L428.2 189.8 L428 192.4 L427.8 189.2 L427.5 187.7 L427.2 189.9 L427 187.6 L426.8 180.2 L426.5 178.5 L426.2 177 L426 180.6 L425.8 176.5 L425.5 175.7 L425.2 176 L425 181 L424.8 180 L424.5 181.9 L424.2 182.3 L424 187.2 L423.8 187.1 L423.5 182.7 L423.2 186.4 L423 183.3 L422.8 185.1 L422.5 184.2 L422.2 183.4 L422 184.2 L421.8 178.7 L421.5 182.7 L421.2 185.9 L421 182.9 L420.8 183.4 L420.5 182.9 L420.2 183.6 L420 186.1 L419.8 187.3 L419.5 185.3 L419.2 190.8 L419 184.4 L418.8 189.7 L418.5 182.2 L418.2 183.4 L418 182.2 L417.8 181.7 L417.5 185.6 L417.2 188.1 L417 186.6 L416.8 189.3 L416.5 190 L416.2 196.4 L416 199.3 L415.8 200.7 L415.5 202.8 L415.2 205.7 L415 207.4 L414.8 208.6 L414.5 209.5 L414.2 210.3 L414 210.3 L413.8 212.7 L413.5 214 Z" fill="#111" stroke="none"/>
<line x1="406.4" y1="145.3" x2="406.4" y2="237.7" stroke="#000" stroke-width="1.1"/>
<line x1="403.8" y1="237.7" x2="406.4" y2="237.7" stroke="#000" stroke-width="1.1"/>
<text x="400.1" y="240.6" class="t" text-anchor="end">0</text>
<line x1="403.8" y1="219.3" x2="406.4" y2="219.3" stroke="#000" stroke-width="1.1"/>
<text x="400.1" y="222.2" class="t" text-anchor="end">10</text>
<line x1="403.8" y1="200.9" x2="406.4" y2="200.9" stroke="#000" stroke-width="1.1"/>
<text x="400.1" y="203.8" class="t" text-anchor="end">20</text>
<line x1="403.8" y1="182.6" x2="406.4" y2="182.6" stroke="#000" stroke-width="1.1"/>
<text x="400.1" y="185.5" class="t" text-anchor="end">30</text>
<line x1="403.8" y1="164.2" x2="406.4" y2="164.2" stroke="#000" stroke-width="1.1"/>
<text x="400.1" y="167.1" class="t" text-anchor="end">40</text>
<line x1="403.8" y1="145.8" x2="406.4" y2="145.8" stroke="#000" stroke-width="1.1"/>
<text x="400.1" y="148.7" class="t" text-anchor="end">50</text>
<line x1="403.8" y1="237.7" x2="510.7" y2="237.7" stroke="#000" stroke-width="1.3"/>
<path d="M406.4 237.7v2.2M414.2 237.7v1.5M418.8 237.7v1.5M422.1 237.7v1.5M424.6 237.7v1.5M426.7 237.7v1.5M428.4 237.7v1.5M429.9 237.7v1.5M431.3 237.7v1.5M432.5 237.7v2.2M440.3 237.7v1.5M444.9 237.7v1.5M448.2 237.7v1.5M450.7 237.7v1.5M452.8 237.7v1.5M454.5 237.7v1.5M456 237.7v1.5M457.4 237.7v1.5M458.5 237.7v2.2M466.4 237.7v1.5M471 237.7v1.5M474.2 237.7v1.5M476.8 237.7v1.5M478.8 237.7v1.5M480.6 237.7v1.5M482.1 237.7v1.5M483.4 237.7v1.5M484.6 237.7v2.2M492.5 237.7v1.5M497.1 237.7v1.5M500.3 237.7v1.5M502.9 237.7v1.5M504.9 237.7v1.5M506.7 237.7v1.5M508.2 237.7v1.5M509.5 237.7v1.5M510.7 237.7v2.2" stroke="#000" stroke-width="0.8"/>
<text x="406.4" y="252" class="t" text-anchor="middle">0.1</text>
<text x="432.5" y="252" class="t" text-anchor="middle">1</text>
<text x="458.5" y="252" class="t" text-anchor="middle">10</text>
<text x="484.6" y="252" class="t" text-anchor="middle">100</text>
<text x="510.7" y="252" class="t" text-anchor="middle">1000</text>
<text transform="translate(368.3 161) scale(0.96 1)" class="L">F</text>
<text x="511.3" y="154.8" class="h" text-anchor="end">ARH-77</text>
<text x="511.8" y="169.9" class="h" text-anchor="end">54%</text>
<path d="M40 384.2 L40.2 383.3 L40.5 383.1 L40.8 382.2 L41 380.6 L41.2 380.8 L41.5 380.7 L41.8 379.3 L42 379.7 L42.2 378.4 L42.5 376.5 L42.8 376.2 L43 375.3 L43.2 374.3 L43.5 373.1 L43.8 373.3 L44 372.9 L44.2 372.3 L44.5 371.5 L44.8 370.2 L45 370.5 L45.2 370.5 L45.5 369 L45.8 370 L46 367.3 L46.2 368.2 L46.5 366.4 L46.8 365.4 L47 366.2 L47.2 365.1 L47.5 364.3 L47.8 363.4 L48 364.1 L48.2 363.6 L48.5 362.6 L48.8 361.5 L49 362.3 L49.2 361.8 L49.5 360.8 L49.8 360.3 L50 359.6 L50.2 359.1 L50.5 359.1 L50.8 357.8 L51 358.5 L51.2 358.1 L51.5 356.9 L51.8 356.7 L52 356 L52.2 355.3 L52.5 355.1 L52.8 353.6 L53 353.3 L53.2 351.9 L53.5 353.1 L53.8 353.7 L54 351.9 L54.2 351.7 L54.5 351.3 L54.8 351.3 L55 351 L55.2 351.4 L55.5 350.7 L55.8 351.3 L56 350.8 L56.2 350 L56.5 350.1 L56.8 350.4 L57 349.4 L57.2 348.7 L57.5 347.7 L57.8 346.4 L58 346.3 L58.2 345.3 L58.5 344.5 L58.8 342.7 L59 341.1 L59.2 339.8 L59.5 337.1 L59.8 335.6 L60 335.7 L60.2 333.3 L60.5 330 L60.8 332.1 L61 332.4 L61.2 330.4 L61.5 331.9 L61.8 328.7 L62 327.9 L62.2 327.4 L62.5 328.3 L62.8 328.3 L63 329.7 L63.2 327 L63.5 326.9 L63.8 327.1 L64 328.1 L64.2 327.9 L64.5 326.5 L64.8 328.8 L65 325.4 L65.2 327.6 L65.5 325.6 L65.8 329.2 L66 327.3 L66.2 325.8 L66.5 328 L66.8 326.3 L67 327.5 L67.2 328.3 L67.5 328 L67.8 331.1 L68 330.8 L68.2 327.5 L68.5 330.3 L68.8 328.1 L69 328.9 L69.2 330.3 L69.5 332 L69.8 330.4 L70 331.2 L70.2 330.9 L70.5 330.7 L70.8 332.3 L71 332.3 L71.2 335.4 L71.5 336.2 L71.8 336.1 L72 338.3 L72.2 340.6 L72.5 343.7 L72.8 346.2 L73 347.8 L73.2 350 L73.5 350.7 L73.8 353.3 L74 354.1 L74.2 355.3 L74.5 355.3 L74.8 356.3 L75 356.2 L75.2 360.1 L75.5 360.8 L75.8 362.1 L76 362.7 L76.2 364.3 L76.5 365.3 L76.8 366.9 L77 366.7 L77.2 368.5 L77.5 370.2 L77.8 370.8 L78 371.7 L78.2 372.4 L78.5 373.6 L78.8 372.9 L79 375.7 L79.2 376 L79.5 376.4 L79.8 377.4 L80 377.3 L80.2 377.9 L80.5 378.7 L80.8 380.1 L81 380.6 L81.2 381.3 L81.5 381.3 L81.8 381.9 L82 382.1 L82.2 383.6 L82.5 383.3 L82.8 384.2 L83 384.2 L83.2 384.2 L83.5 384.1 L83.8 383.9 L84 384.2 L84.2 384.2 L84.5 384.2 L84.8 383.9 L85 384.2 L85.2 384.2 L85.5 384.1 L85.8 384.2 L86 384.2 L86 384.2 L40 384.2 Z" fill="#d1d1d1" stroke="#222" stroke-width="0.9"/>
<path d="M39 384.2 L39.5 383.3 L40 382.7 L40.5 381.4 L41 379.2 L41.5 378 L42 376.5 L42.5 375.1 L43 371.9 L43.5 372.3 L44 369.7 L44.5 366.9 L45 369.6 L45.5 366.8 L46 363.2 L46.5 362.7 L47 361 L47.5 359.8 L48 356.5 L48.5 354.1 L49 355 L49.5 350.1 L50 336.8 L50.5 339.3 L51 336.8 L51.5 330.8 L52 325.6 L52.5 322.3 L53 320.4 L53.5 316.9 L54 310.9 L54.5 326.1 L55 320.7 L55.5 324.1 L56 322 L56.5 329.5 L57 324.1 L57.5 333.1 L58 330.1 L58.5 340.1 L59 338.2 L59.5 347.8 L60 355.1 L60.5 362.9 L61 364 L61.5 367.2 L62 368.6 L62.5 372.5 L63 374 L63.5 375.2 L64 376.5 L64.5 377.4 L65 376 L65.5 378.2 L66 378.4 L66.5 379.8 L67 378.8 L67.5 379.8 L68 379.5 L68.5 380.5 L69 380.9 L69.5 380.1 L70 380.2 L70.5 380.8 L71 381.2 L71.5 381 L72 382.5 L72.5 382 L73 381.9 L73.5 382.5 L74 382.4 L74.5 382.7 L75 383.2 L75.5 382.7 L76 383.3 L76.5 382.8 L77 383.4 L77.5 383.4 L78 383.7 L78.5 383 L79 383.9 L79.5 383.4 L80 383.6 L80.5 383.3 L81 383.8 L81.5 384.2 L82 384.2 L82.5 384.1 L83 384.2 L83.5 384.2 L84 384.1 L84.5 384.2 L85 384.1 L85.5 383.8 L86 384.1 L86.5 384 L87 383.8 L87.5 384 L88 384.2 L88.5 384.2 L89 384.2 L89.5 383.9 L90 383.8 L90.5 383.8 L91 384.1 L91.5 384 L92 383.7 L92.5 383.8 L93 383.8 L93.5 384.2 L94 384.2 L94.5 383.8 L95 384.2 L95.5 383.6 L96 383.6 L96.5 384.2 L97 383.8 L97.5 383.5 L98 384 L98.5 383.9 L99 383.5 L99.5 384.2 L100 383.9" fill="none" stroke="#8a8a8a" stroke-width="0.6" stroke-linejoin="round"/>
<path d="M39 384.2 L39.2 384.1 L39.5 383.8 L39.8 382.8 L40 382.3 L40.2 381.6 L40.5 381.3 L40.8 379.8 L41 379.6 L41.2 378.8 L41.5 378.5 L41.8 377.9 L42 377.4 L42.2 375.2 L42.5 374.7 L42.8 374.1 L43 372.6 L43.2 371.1 L43.5 371.4 L43.8 370.7 L44 370.3 L44.2 369.6 L44.5 370.6 L44.8 367.7 L45 367.2 L45.2 365.8 L45.5 366.4 L45.8 365.8 L46 363.5 L46.2 365.4 L46.5 362.7 L46.8 362.7 L47 361.8 L47.2 360.4 L47.5 360.1 L47.8 358.2 L48 360 L48.2 356.4 L48.5 356.2 L48.8 355.6 L49 354.9 L49.2 349.4 L49.5 348.2 L49.8 348.7 L50 347.1 L50.2 345.2 L50.5 341.5 L50.8 341.4 L51 335.5 L51.2 335.5 L51.5 331.8 L51.8 328.4 L52 327.8 L52.2 323.8 L52.5 323.7 L52.8 318.8 L53 317.3 L53.2 320.8 L53.5 317.4 L53.8 317.8 L54 318.3 L54.2 319.4 L54.5 316.9 L54.8 320 L55 315.2 L55.2 317.8 L55.5 316.8 L55.8 319.8 L56 320.5 L56.2 320.3 L56.5 320.4 L56.8 326 L57 327.9 L57.2 327.5 L57.5 331.5 L57.8 335.7 L58 335.2 L58.2 333.3 L58.5 339.7 L58.8 340.2 L59 344.7 L59.2 345 L59.5 349 L59.8 350.8 L60 354.5 L60.2 357.9 L60.5 360 L60.8 360.5 L61 362.5 L61.2 366.7 L61.5 366.1 L61.8 367.8 L62 370.1 L62.2 370.3 L62.5 371.9 L62.8 373.2 L63 373.1 L63.2 375.3 L63.5 375.3 L63.8 375.9 L64 376.7 L64.2 376.9 L64.5 377.2 L64.8 376.7 L65 378.2 L65.2 377.2 L65.5 378 L65.8 378.1 L66 378.6 L66.2 379.1 L66.5 379.7 L66.8 379.5 L67 380 L67.2 380.1 L67.5 379.4 L67.8 380 L68 380.5 L68.2 380.4 L68.5 379.8 L68.8 379.8 L69 380.7 L69.2 380.1 L69.5 381.3 L69.8 381.2 L70 381.4 L70.2 379.7 L70.5 380.8 L70.8 381.6 L71 381.8 L71.2 381.2 L71.5 381.6 L71.8 382.4 L72 381.6 L72.2 382 L72.5 382.1 L72.8 381.9 L73 380.9 L73.2 382.3 L73.5 382.5 L73.8 382.8 L74 382.8 L74.2 383 L74.5 382.3 L74.8 382.6 L75 382.1 L75.2 383.6 L75.5 382.5 L75.8 383.5 L76 383.2 L76.2 383.2 L76.5 383.2 L76.8 383.2 L77 383.1 L77.2 383.2 L77.5 383.3 L77.8 383.3 L78 383.7 L78.2 383.1 L78.5 383.2 L78.8 383.2 L79 383.3 L79.2 383.8 L79.5 383.6 L79.8 383.4 L80 383.8 L80.2 383.9 L80.5 383.9 L80.8 383.6 L81 383.6 L81.2 383.7 L81.5 383.8 L81.8 384.2 L82 384.1 L82.2 384 L82.5 384.2 L82.8 383.9 L83 384.1 L83.2 384.2 L83.5 383.6 L83.8 384.2 L84 384.2 L84.2 384.2 L84.5 384.2 L84.8 384.2 L85 383.5 L85.2 384.1 L85.5 384.2 L85.8 384.2 L86 384.2 L86.2 384.2 L86.5 383.5 L86.8 383.8 L87 384.2 L87.2 384.2 L87.5 384.1 L87.8 384.2 L88 384.1 L88.2 384.2 L88.5 384.2 L88.8 383.9 L89 384.2 L89.2 384.2 L89.5 383.9 L89.8 383.5 L90 384 L90.2 384.2 L90.5 383.9 L90.8 383.7 L91 384.2 L91.2 383.8 L91.5 384.2 L91.8 383.9 L92 384.2 L92.2 383.3 L92.5 383.8 L92.8 384 L93 383.6 L93.2 384.2 L93.5 384.2 L93.8 384.1 L94 384.2 L94.2 384.2 L94.5 383.9 L94.8 384.2 L95 384.2 L95.2 384.2 L95.5 384.2 L95.8 384.2 L96 384.1 L96.2 384.2 L96.5 384.2 L96.8 384.2 L97 383.8 L97.2 384.1 L97.5 384.2 L97.8 384.2 L98 383.8 L98.2 383.6 L98.5 383.6 L98.8 383.9 L99 384.2 L99.2 384.2 L99.5 383.4 L99.8 384.1 L100 384.2" fill="none" stroke="#000" stroke-width="1.5" stroke-linejoin="round"/>
<path d="M48.5 354.2 L48.8 354.6 L49 354.7 L49.2 351.6 L49.5 346.2 L49.8 347.2 L50 347.6 L50.2 340.1 L50.5 340.6 L50.8 340.3 L51 340.4 L51.2 335.7 L51.5 332.1 L51.8 330.3 L52 325.3 L52.2 323.5 L52.5 320.1 L52.8 320.8 L53 319.5 L53.2 313.7 L53.5 317.8 L53.8 317.6 L54 316.6 L54.2 317.5 L54.5 316.4 L54.8 314.4 L55 316 L55.2 317.1 L55.5 322 L55.8 320.4 L56 318.6 L56.2 320.5 L56.5 321.6 L56.8 327.5 L57 330.2 L57.2 326.4 L57.5 329.7 L57.8 336.8 L58 334.4 L58.2 336.5 L58.5 341.5 L58.8 339.7 L59 344.1 L59.2 349 L59.5 346.2 L59.8 352 L60 354.1 L60.2 355.6 L60.5 361.2 L60.5 361.7 L60.2 357.7 L60 355.4 L59.8 353.8 L59.5 350.8 L59.2 349.5 L59 345 L58.8 340.5 L58.5 342 L58.2 341.3 L58 334.9 L57.8 337.3 L57.5 330.2 L57.2 328.7 L57 330.7 L56.8 329.5 L56.5 325.1 L56.2 325.5 L56 327.4 L55.8 323.5 L55.5 323.2 L55.2 326.1 L55 328.2 L54.8 327.4 L54.5 327.3 L54.2 330.1 L54 326.7 L53.8 327.6 L53.5 323.6 L53.2 328.6 L53 324.1 L52.8 326.4 L52.5 326.6 L52.2 324.7 L52 327.4 L51.8 330.8 L51.5 332.6 L51.2 336.2 L51 340.9 L50.8 340.8 L50.5 341.4 L50.2 343.4 L50 348.1 L49.8 347.7 L49.5 351.1 L49.2 352.3 L49 356.2 L48.8 355.4 L48.5 357.4 Z" fill="#222" stroke="none"/>
<line x1="39.2" y1="291.5" x2="39.2" y2="384.2" stroke="#000" stroke-width="1.1"/>
<line x1="36.6" y1="384.2" x2="39.2" y2="384.2" stroke="#000" stroke-width="1.1"/>
<text x="32.9" y="387.1" class="t" text-anchor="end">0</text>
<line x1="36.6" y1="365.8" x2="39.2" y2="365.8" stroke="#000" stroke-width="1.1"/>
<text x="32.9" y="368.7" class="t" text-anchor="end">10</text>
<line x1="36.6" y1="347.3" x2="39.2" y2="347.3" stroke="#000" stroke-width="1.1"/>
<text x="32.9" y="350.2" class="t" text-anchor="end">20</text>
<line x1="36.6" y1="328.9" x2="39.2" y2="328.9" stroke="#000" stroke-width="1.1"/>
<text x="32.9" y="331.8" class="t" text-anchor="end">30</text>
<line x1="36.6" y1="310.4" x2="39.2" y2="310.4" stroke="#000" stroke-width="1.1"/>
<text x="32.9" y="313.3" class="t" text-anchor="end">40</text>
<line x1="36.6" y1="292" x2="39.2" y2="292" stroke="#000" stroke-width="1.1"/>
<text x="32.9" y="294.9" class="t" text-anchor="end">50</text>
<line x1="36.6" y1="384.2" x2="140.9" y2="384.2" stroke="#000" stroke-width="1.3"/>
<path d="M39.2 384.2v2.2M46.9 384.2v1.5M51.3 384.2v1.5M54.5 384.2v1.5M57 384.2v1.5M59 384.2v1.5M60.7 384.2v1.5M62.2 384.2v1.5M63.5 384.2v1.5M64.6 384.2v2.2M72.3 384.2v1.5M76.8 384.2v1.5M79.9 384.2v1.5M82.4 384.2v1.5M84.4 384.2v1.5M86.1 384.2v1.5M87.6 384.2v1.5M88.9 384.2v1.5M90.1 384.2v2.2M97.7 384.2v1.5M102.2 384.2v1.5M105.4 384.2v1.5M107.8 384.2v1.5M109.8 384.2v1.5M111.5 384.2v1.5M113 384.2v1.5M114.3 384.2v1.5M115.5 384.2v2.2M123.1 384.2v1.5M127.6 384.2v1.5M130.8 384.2v1.5M133.2 384.2v1.5M135.3 384.2v1.5M137 384.2v1.5M138.4 384.2v1.5M139.7 384.2v1.5M140.9 384.2v2.2" stroke="#000" stroke-width="0.8"/>
<text x="39.2" y="398.5" class="t" text-anchor="middle">0.1</text>
<text x="64.6" y="398.5" class="t" text-anchor="middle">1</text>
<text x="90.1" y="398.5" class="t" text-anchor="middle">10</text>
<text x="115.5" y="398.5" class="t" text-anchor="middle">100</text>
<text x="140.9" y="398.5" class="t" text-anchor="middle">1000</text>
<text transform="translate(-0.9 306.9) scale(0.96 1)" class="L">G</text>
<text x="139" y="299.5" class="h" text-anchor="end">HS Sultan</text>
<text x="139.5" y="314.9" class="h" text-anchor="end">29%</text>
<text transform="translate(17.8 338.1) rotate(-90)" class="cn" text-anchor="middle">Cell Number</text>
<path d="M227 384.1 L227.2 384.1 L227.5 384.1 L227.8 383.7 L228 384.1 L228.2 384.1 L228.5 384.1 L228.8 384.1 L229 384.1 L229.2 384.1 L229.5 384 L229.8 383.7 L230 383.3 L230.2 383.2 L230.5 383.3 L230.8 382.2 L231 383.6 L231.2 382.2 L231.5 381.4 L231.8 381.4 L232 381.9 L232.2 380.3 L232.5 379.6 L232.8 380 L233 380 L233.2 378.6 L233.5 377.1 L233.8 377.5 L234 376.5 L234.2 376.5 L234.5 375.2 L234.8 374.3 L235 373.5 L235.2 372.6 L235.5 371.9 L235.8 370.6 L236 370.8 L236.2 368.9 L236.5 366.3 L236.8 366 L237 364.8 L237.2 360.8 L237.5 359.4 L237.8 357.5 L238 355.9 L238.2 354.2 L238.5 352.6 L238.8 351.3 L239 346.5 L239.2 343.4 L239.5 339.2 L239.8 341.2 L240 339.7 L240.2 332 L240.5 334.9 L240.8 333.4 L241 328.9 L241.2 330.4 L241.5 328.6 L241.8 329 L242 324.7 L242.2 324.8 L242.5 321.1 L242.8 321.6 L243 314.3 L243.2 315.7 L243.5 314.8 L243.8 318.9 L244 325.4 L244.2 332.7 L244.5 335.7 L244.8 334.6 L245 335 L245.2 340.5 L245.5 339.2 L245.8 343.8 L246 347.5 L246.2 348.7 L246.5 351.3 L246.8 352.3 L247 355.2 L247.2 357.5 L247.5 360.2 L247.8 361.2 L248 364.6 L248.2 367 L248.5 368.8 L248.8 369.2 L249 370.4 L249.2 372 L249.5 373.4 L249.8 374.8 L250 374.7 L250.2 375.8 L250.5 376.3 L250.8 377.2 L251 377.6 L251.2 377.8 L251.5 379.7 L251.8 379.9 L252 379.9 L252.2 380.1 L252.5 381 L252.8 380.7 L253 381.3 L253.2 382.5 L253.5 381.5 L253.8 382.7 L254 382.1 L254.2 382.2 L254.5 382.7 L254.8 383.3 L255 383.3 L255.2 383.3 L255.5 383.8 L255.8 383.8 L256 384 L256.2 384.1 L256.5 384.1 L256.8 384.1 L257 383.8 L257.2 384.1 L257.5 384.1 L257.8 384.1 L258 384.1 L258.2 384.1 L258.5 384.1 L258.8 384.1 L259 384.1 L259.2 383.7 L259.5 384.1 L259.8 384 L260 384.1 L260.2 383.8 L260.5 383.5 L260.8 384.1 L261 383.7 L261.2 384.1 L261.5 383.8 L261.8 383.6 L262 384.1" fill="none" stroke="#000" stroke-width="1.3" stroke-linejoin="round"/>
<path d="M244 383.9 L244.2 383.9 L244.5 383.2 L244.8 382.8 L245 382.2 L245.2 381.6 L245.5 381.8 L245.8 381.1 L246 379.4 L246.2 378.6 L246.5 379.1 L246.8 378.4 L247 378.3 L247.2 377.6 L247.5 376.9 L247.8 375.8 L248 374.9 L248.2 375.2 L248.5 373.5 L248.8 373.4 L249 371.7 L249.2 372.2 L249.5 369.9 L249.8 367.9 L250 368.1 L250.2 366.5 L250.5 364.8 L250.8 363.7 L251 362.8 L251.2 361.7 L251.5 359.9 L251.8 358.1 L252 356.8 L252.2 354.2 L252.5 351.5 L252.8 350.5 L253 348.8 L253.2 347.6 L253.5 343.8 L253.8 344 L254 343.7 L254.2 340.5 L254.5 339.2 L254.8 338.2 L255 338 L255.2 337.1 L255.5 336.6 L255.8 335.9 L256 332.9 L256.2 333 L256.5 332.2 L256.8 329.2 L257 328.5 L257.2 330.4 L257.5 328.4 L257.8 327.1 L258 328.5 L258.2 321.9 L258.5 324.3 L258.8 324.1 L259 323.4 L259.2 324.1 L259.5 322.6 L259.8 323.1 L260 323.3 L260.2 324.8 L260.5 326.9 L260.8 330.6 L261 331.4 L261.2 333 L261.5 337.2 L261.8 340.4 L262 341.5 L262.2 343.2 L262.5 347.8 L262.8 350.4 L263 349.8 L263.2 353.4 L263.5 356 L263.8 356 L264 359 L264.2 362.1 L264.5 361.9 L264.8 363.9 L265 364.9 L265.2 367.2 L265.5 368.5 L265.8 369.8 L266 371.8 L266.2 372.8 L266.5 374 L266.8 375 L267 375.8 L267.2 376.6 L267.5 378.7 L267.8 379.2 L268 380.4 L268.2 380.4 L268.5 381.2 L268.8 383.4 L269 383.1 L269.2 383.5 L269.5 383.9 L269.5 384.1 L244 384.1 Z" fill="#d1d1d1" stroke="#444" stroke-width="0.6"/>
<path d="M239 384.1 L239.2 384.1 L239.5 384 L239.8 383.8 L240 384.1 L240.2 383.8 L240.5 384.1 L240.8 384.1 L241 383.8 L241.2 384 L241.5 384.1 L241.8 383.6 L242 384.1 L242.2 383.3 L242.5 383.2 L242.8 382.7 L243 383 L243.2 382.2 L243.5 381.6 L243.8 380.8 L244 381 L244.2 380.8 L244.5 379.7 L244.8 379.5 L245 379.2 L245.2 379.4 L245.5 378.5 L245.8 378.9 L246 378.2 L246.2 377.2 L246.5 377.1 L246.8 377.1 L247 375.6 L247.2 374.4 L247.5 374.8 L247.8 373.8 L248 373.2 L248.2 371.8 L248.5 370.6 L248.8 369 L249 368.3 L249.2 366 L249.5 364.8 L249.8 362.2 L250 361 L250.2 359.2 L250.5 360.1 L250.8 356.7 L251 356.1 L251.2 354.3 L251.5 351 L251.8 349.6 L252 345.6 L252.2 346 L252.5 340.9 L252.8 340.4 L253 341.2 L253.2 340.6 L253.5 335.7 L253.8 340.2 L254 332.6 L254.2 332.9 L254.5 331.1 L254.8 333.5 L255 330.3 L255.2 334.7 L255.5 327 L255.8 330.8 L256 324.8 L256.2 328.4 L256.5 323.8 L256.8 322.1 L257 323.2 L257.2 319.5 L257.5 318.3 L257.8 315.8 L258 319.1 L258.2 313.5 L258.5 317.8 L258.8 314.8 L259 309.6 L259.2 308.3 L259.5 312.3 L259.8 316.5 L260 317.8 L260.2 324.3 L260.5 321.8 L260.8 323.7 L261 326.2 L261.2 330.5 L261.5 329.8 L261.8 330.9 L262 336.1 L262.2 339.7 L262.5 339.2 L262.8 340.4 L263 345.4 L263.2 344.7 L263.5 350.1 L263.8 353.4 L264 352.9 L264.2 355.9 L264.5 356.5 L264.8 356.5 L265 359.1 L265.2 362.1 L265.5 362.4 L265.8 364.3 L266 366 L266.2 366.9 L266.5 368.6 L266.8 371.3 L267 371.1 L267.2 372.7 L267.5 373.2 L267.8 375.5 L268 375.9 L268.2 375.8 L268.5 377.7 L268.8 378.4 L269 379 L269.2 379.7 L269.5 380.5 L269.8 381.1 L270 381.1 L270.2 381.6 L270.5 381.1 L270.8 381.8 L271 382.4 L271.2 382.6 L271.5 383 L271.8 383.5 L272 383.7 L272.2 384 L272.5 384.1 L272.8 383.8 L273 384.1 L273.2 384.1 L273.5 383.6 L273.8 384.1 L274 384.1 L274.2 383.9 L274.5 383.6 L274.8 383.9 L275 384 L275.2 384.1 L275.5 383.7 L275.8 383.5 L276 384.1 L276.2 384.1 L276.5 384.1 L276.8 384.1 L277 383.9 L277.2 384.1 L277.5 383.7 L277.8 384.1 L278 384" fill="none" stroke="#000" stroke-width="1.4" stroke-linejoin="round"/>
<line x1="221.2" y1="291.9" x2="221.2" y2="384.1" stroke="#000" stroke-width="1.1"/>
<line x1="218.6" y1="384.1" x2="221.2" y2="384.1" stroke="#000" stroke-width="1.1"/>
<text x="214.9" y="387" class="t" text-anchor="end">0</text>
<line x1="218.6" y1="365.8" x2="221.2" y2="365.8" stroke="#000" stroke-width="1.1"/>
<text x="214.9" y="368.7" class="t" text-anchor="end">10</text>
<line x1="218.6" y1="347.4" x2="221.2" y2="347.4" stroke="#000" stroke-width="1.1"/>
<text x="214.9" y="350.3" class="t" text-anchor="end">20</text>
<line x1="218.6" y1="329.1" x2="221.2" y2="329.1" stroke="#000" stroke-width="1.1"/>
<text x="214.9" y="332" class="t" text-anchor="end">30</text>
<line x1="218.6" y1="310.7" x2="221.2" y2="310.7" stroke="#000" stroke-width="1.1"/>
<text x="214.9" y="313.6" class="t" text-anchor="end">40</text>
<line x1="218.6" y1="292.4" x2="221.2" y2="292.4" stroke="#000" stroke-width="1.1"/>
<text x="214.9" y="295.3" class="t" text-anchor="end">50</text>
<line x1="218.6" y1="384.1" x2="326.2" y2="384.1" stroke="#000" stroke-width="1.3"/>
<path d="M221.2 384.1v2.2M229.1 384.1v1.5M233.7 384.1v1.5M237 384.1v1.5M239.5 384.1v1.5M241.6 384.1v1.5M243.4 384.1v1.5M244.9 384.1v1.5M246.2 384.1v1.5M247.4 384.1v2.2M255.4 384.1v1.5M260 384.1v1.5M263.3 384.1v1.5M265.8 384.1v1.5M267.9 384.1v1.5M269.6 384.1v1.5M271.2 384.1v1.5M272.5 384.1v1.5M273.7 384.1v2.2M281.6 384.1v1.5M286.2 384.1v1.5M289.5 384.1v1.5M292 384.1v1.5M294.1 384.1v1.5M295.9 384.1v1.5M297.4 384.1v1.5M298.7 384.1v1.5M299.9 384.1v2.2M307.9 384.1v1.5M312.5 384.1v1.5M315.8 384.1v1.5M318.3 384.1v1.5M320.4 384.1v1.5M322.1 384.1v1.5M323.7 384.1v1.5M325 384.1v1.5M326.2 384.1v2.2" stroke="#000" stroke-width="0.8"/>
<text x="221.2" y="398.4" class="t" text-anchor="middle">0.1</text>
<text x="247.4" y="398.4" class="t" text-anchor="middle">1</text>
<text x="273.7" y="398.4" class="t" text-anchor="middle">10</text>
<text x="299.9" y="398.4" class="t" text-anchor="middle">100</text>
<text x="326.2" y="398.4" class="t" text-anchor="middle">1000</text>
<text transform="translate(182.8 307.3) scale(0.96 1)" class="L">H</text>
<text x="324.6" y="299.5" class="h" text-anchor="end">IM-9</text>
<text x="324.4" y="314.6" class="h" text-anchor="end">90%</text>
<path d="M417 384.6 L417.2 383.4 L417.5 382.4 L417.8 382.2 L418 380.8 L418.2 380.3 L418.5 379.2 L418.8 379 L419 377.9 L419.2 377.1 L419.5 377.4 L419.8 375.8 L420 375.9 L420.2 374.6 L420.5 373.9 L420.8 373.6 L421 373.5 L421.2 373.7 L421.5 372.6 L421.8 373 L422 372.8 L422.2 373.4 L422.5 373.2 L422.8 373.8 L423 372.5 L423.2 371.6 L423.5 372.9 L423.8 373.1 L424 372.8 L424.2 373.2 L424.5 374.2 L424.8 374.2 L425 374.5 L425.2 375.1 L425.5 375.3 L425.8 376.1 L426 375.7 L426.2 376.5 L426.5 376 L426.8 375.3 L427 375 L427.2 373.4 L427.5 372.8 L427.8 371.4 L428 371.3 L428.2 368.8 L428.5 366.4 L428.8 363 L429 360.9 L429.2 356.4 L429.5 353.7 L429.8 353.1 L430 352.8 L430.2 351.7 L430.5 350 L430.8 350.8 L431 348.4 L431.2 348.1 L431.5 345.7 L431.8 348.6 L432 348 L432.2 346.2 L432.5 346.4 L432.8 344.7 L433 345.1 L433.2 344.1 L433.5 344.4 L433.8 345.6 L434 343.8 L434.2 343.4 L434.5 342.4 L434.8 342.9 L435 345 L435.2 341.3 L435.5 343.4 L435.8 343.6 L436 339.8 L436.2 343.4 L436.5 341.4 L436.8 342 L437 342.1 L437.2 341.2 L437.5 342.6 L437.8 339.6 L438 340.9 L438.2 341 L438.5 341.1 L438.8 341.5 L439 340.4 L439.2 342 L439.5 341 L439.8 340.6 L440 341.8 L440.2 340.2 L440.5 341.8 L440.8 342.6 L441 342.4 L441.2 344.4 L441.5 344 L441.8 346.6 L442 346.1 L442.2 348.6 L442.5 348 L442.8 350.2 L443 349.2 L443.2 351.7 L443.5 352.8 L443.8 353.9 L444 355.8 L444.2 357.9 L444.5 359.3 L444.8 360.4 L445 361.8 L445.2 364 L445.5 366.1 L445.8 369.4 L446 369.9 L446.2 370.2 L446.5 372.6 L446.8 372.9 L447 373.8 L447.2 374.4 L447.5 374.2 L447.8 375.5 L448 376.3 L448.2 376 L448.5 376.4 L448.8 377.2 L449 377.6 L449.2 378 L449.5 378 L449.8 379.5 L450 379.8 L450.2 380.4 L450.5 379.5 L450.8 380.7 L451 380.6 L451.2 381.7 L451.5 381.6 L451.8 381.6 L452 382.5 L452.2 383 L452.5 383.6 L452.8 383.1 L453 383.8 L453.2 383.4 L453.5 384.6 L453.8 384.3 L454 384.3 L454 384.6 L417 384.6 Z" fill="#d1d1d1" stroke="#444" stroke-width="0.6"/>
<path d="M410 384.6 L410.5 383.8 L411 383.3 L411.5 383.9 L412 382.6 L412.5 382.5 L413 382.8 L413.5 382.1 L414 382.2 L414.5 383.1 L415 382.2 L415.5 381.9 L416 381.6 L416.5 380.7 L417 380.1 L417.5 378.9 L418 376 L418.5 376.1 L419 376.7 L419.5 374.7 L420 372.8 L420.5 372.1 L421 373.2 L421.5 370.9 L422 370.7 L422.5 367.5 L423 365.6 L423.5 366.4 L424 358.8 L424.5 361.8 L425 352.2 L425.5 349.6 L426 352.2 L426.5 351.8 L427 346.4 L427.5 338.2 L428 342.2 L428.5 339.9 L429 334.5 L429.5 336.8 L430 332.6 L430.5 334.5 L431 335.4 L431.5 328 L432 318.8 L432.5 325.7 L433 326.8 L433.5 329.3 L434 318.5 L434.5 333.5 L435 323.7 L435.5 316.5 L436 315.9 L436.5 313.4 L437 321.1 L437.5 313.5 L438 321.7 L438.5 306.8 L439 311.2 L439.5 311.7 L440 310.5 L440.5 319.2 L441 315.8 L441.5 325.5 L442 325.2 L442.5 341.4 L443 342.1 L443.5 348.1 L444 350.1 L444.5 356.1 L445 357.2 L445.5 354.1 L446 361.3 L446.5 365.5 L447 366.8 L447.5 368.4 L448 369.6 L448.5 371.1 L449 373.9 L449.5 375.2 L450 376 L450.5 376.3 L451 376.4 L451.5 376.6 L452 379.1 L452.5 378.2 L453 377.9 L453.5 379.2 L454 378.5 L454.5 379.5 L455 378.3 L455.5 378.6 L456 378.2 L456.5 378.6 L457 377.8 L457.5 378.2 L458 377.5 L458.5 377.4 L459 377.3 L459.5 377.5 L460 377.8 L460.5 376 L461 375.1 L461.5 375.9 L462 375.6 L462.5 376.2 L463 377 L463.5 376.6 L464 377.6 L464.5 377.8 L465 378.4 L465.5 378.5 L466 379.1 L466.5 380.1 L467 379.5 L467.5 380.1 L468 380.4 L468.5 381.6 L469 381.1 L469.5 381.4 L470 382.3 L470.5 381.8 L471 381.4 L471.5 381.9 L472 382.8 L472.5 383.7 L473 383.2 L473.5 383.6 L474 383.4 L474.5 383.3 L475 383.7 L475.5 383.4 L476 384.6 L476.5 383.1 L477 384.3 L477.5 383.8" fill="none" stroke="#8a8a8a" stroke-width="0.6" stroke-linejoin="round"/>
<path d="M410 384.6 L410.2 384 L410.5 383.7 L410.8 383.5 L411 383.9 L411.2 384.1 L411.5 383.2 L411.8 383.3 L412 382.9 L412.2 383.4 L412.5 383 L412.8 383.2 L413 382.3 L413.2 383 L413.5 382.9 L413.8 382.8 L414 381.5 L414.2 381.8 L414.5 382.2 L414.8 382.7 L415 382 L415.2 382.5 L415.5 381.9 L415.8 380.4 L416 381.6 L416.2 381.1 L416.5 380.5 L416.8 379.9 L417 379.7 L417.2 378.8 L417.5 378.3 L417.8 377.8 L418 376.9 L418.2 377.3 L418.5 375.9 L418.8 375.3 L419 374.7 L419.2 374.8 L419.5 374.4 L419.8 374.3 L420 374 L420.2 373.1 L420.5 372 L420.8 371.4 L421 371.8 L421.2 371.3 L421.5 372.8 L421.8 369.2 L422 369.9 L422.2 369.1 L422.5 367.3 L422.8 369.4 L423 366.8 L423.2 364.9 L423.5 364.9 L423.8 363.6 L424 362.6 L424.2 359.3 L424.5 359 L424.8 357.8 L425 357.6 L425.2 354.5 L425.5 352.6 L425.8 353.9 L426 351.2 L426.2 350.2 L426.5 351.7 L426.8 349.7 L427 346.5 L427.2 345.9 L427.5 343.9 L427.8 345.7 L428 346 L428.2 342.1 L428.5 341.5 L428.8 343.8 L429 342.8 L429.2 336.3 L429.5 339.6 L429.8 335 L430 338.3 L430.2 332.8 L430.5 338.6 L430.8 331.8 L431 331.6 L431.2 328.6 L431.5 331.1 L431.8 330.3 L432 331.1 L432.2 331 L432.5 331.7 L432.8 331.3 L433 328.3 L433.2 325.5 L433.5 325.4 L433.8 327.5 L434 326.1 L434.2 328.3 L434.5 324 L434.8 328.3 L435 322.9 L435.2 323.1 L435.5 322.9 L435.8 321.5 L436 320.5 L436.2 318.5 L436.5 315.2 L436.8 314.4 L437 312.4 L437.2 313.8 L437.5 317.4 L437.8 316.1 L438 313.2 L438.2 316.1 L438.5 313.9 L438.8 314.1 L439 315.5 L439.2 313.2 L439.5 314.4 L439.8 320.2 L440 320.3 L440.2 320.3 L440.5 319.6 L440.8 317.8 L441 322.7 L441.2 319.4 L441.5 323 L441.8 330.1 L442 330.4 L442.2 333.1 L442.5 335 L442.8 340.8 L443 344.9 L443.2 344.2 L443.5 345.8 L443.8 348.9 L444 352.1 L444.2 351.9 L444.5 355.4 L444.8 358.9 L445 356.1 L445.2 360.6 L445.5 358.2 L445.8 362.5 L446 361.2 L446.2 363 L446.5 365.4 L446.8 364.9 L447 368.3 L447.2 366.9 L447.5 368.2 L447.8 369.8 L448 368.3 L448.2 370.8 L448.5 372.7 L448.8 372.8 L449 373.3 L449.2 373.4 L449.5 375.3 L449.8 374.9 L450 375 L450.2 376.8 L450.5 375.2 L450.8 377.7 L451 376.6 L451.2 377.5 L451.5 378.2 L451.8 379.2 L452 378.1 L452.2 377.9 L452.5 378.5 L452.8 378.7 L453 378.8 L453.2 378.6 L453.5 378.7 L453.8 378.5 L454 378.9 L454.2 379 L454.5 379.3 L454.8 379.1 L455 378.7 L455.2 379.4 L455.5 378.2 L455.8 378.8 L456 377.9 L456.2 378.9 L456.5 378.3 L456.8 378.8 L457 377.7 L457.2 378.7 L457.5 377.5 L457.8 378.9 L458 378.2 L458.2 378.3 L458.5 379 L458.8 376.4 L459 377.5 L459.2 377.3 L459.5 377.7 L459.8 377.9 L460 376.9 L460.2 376.8 L460.5 376.8 L460.8 376.1 L461 375.9 L461.2 376.1 L461.5 376.2 L461.8 377.1 L462 377.5 L462.2 376.8 L462.5 376.5 L462.8 376.7 L463 376.6 L463.2 376.6 L463.5 378.8 L463.8 377.6 L464 378.8 L464.2 377.4 L464.5 378.7 L464.8 377.7 L465 378.8 L465.2 378.4 L465.5 379.6 L465.8 379.1 L466 379.6 L466.2 379 L466.5 379.7 L466.8 379.5 L467 380.4 L467.2 379.8 L467.5 381.4 L467.8 380.3 L468 380.3 L468.2 380.3 L468.5 381 L468.8 381.3 L469 380.5 L469.2 380.9 L469.5 381.2 L469.8 382.1 L470 381.1 L470.2 382.6 L470.5 381.5 L470.8 381.9 L471 381.9 L471.2 381.6 L471.5 383.2 L471.8 382.2 L472 383.3 L472.2 383.2 L472.5 383.1 L472.8 383 L473 383.6 L473.2 383 L473.5 383.7 L473.8 383.5 L474 383.7 L474.2 383.2 L474.5 384 L474.8 384.2 L475 382.5 L475.2 383.9 L475.5 384.1 L475.8 383.5 L476 383.2 L476.2 384.1 L476.5 384 L476.8 384.1 L477 384.1 L477.2 384.6 L477.5 384.3 L477.8 384.6" fill="none" stroke="#000" stroke-width="1.3" stroke-linejoin="round"/>
<path d="M406.5 384.6 L407 381.5 L407.5 379.3 L408 377 L408.5 374.7 L409 372.4 L409.5 370.7 L410 367.9 L410.5 364.9 L411 362 L411.5 360.8 L412 360.5 L412.5 355.7 L413 354.8 L413.5 352 L414 340.4 L414.5 339.4 L415 337.8 L415.5 325.3 L416 338.3 L416.5 328.7 L417 329 L417.5 318 L418 319.6 L418.5 317.1 L419 312 L419.5 310.1 L420 309.6 L420.5 307.9 L421 303.7 L421.5 308.1 L422 317.8 L422.5 308.2 L423 328.1 L423.5 326.8 L424 332.6 L424.5 340.9 L425 349.1 L425.5 351.9 L426 359.9 L426.5 363.9 L427 366.5 L427.5 367.9 L428 371.5 L428.5 373.1 L429 375.2 L429.5 377.1 L430 378.1 L430.5 378.7 L431 380.3 L431.5 381 L432 382.1 L432.5 383.4 L433 382.6 L433.5 383.2 L434 383.7 L434.5 383.7 L435 384.5 L435.5 384.6 L436 384.3 L436.5 384.5 L437 384.2 L437.5 384.6 L438 384.5 L438.5 384.1 L439 384.6 L439.5 384.6 L440 384.6 L440.5 384.6 L441 384.2 L441.5 384.6 L442 384.5 L442.5 384.3 L443 384.6 L443.5 384.6 L444 384.6 L444.5 384.6 L445 384.6" fill="none" stroke="#8a8a8a" stroke-width="0.6" stroke-linejoin="round"/>
<path d="M406.5 384.6 L406.8 382.9 L407 382.9 L407.2 381 L407.5 379.6 L407.8 378.4 L408 377.5 L408.2 376.4 L408.5 375.3 L408.8 374.4 L409 373.2 L409.2 371.5 L409.5 370.7 L409.8 370 L410 367.1 L410.2 365.4 L410.5 364.6 L410.8 363.8 L411 362.9 L411.2 360.5 L411.5 360.1 L411.8 357.6 L412 357.9 L412.2 354.5 L412.5 356.4 L412.8 354.5 L413 352.9 L413.2 352.3 L413.5 348.1 L413.8 347.6 L414 344 L414.2 345.8 L414.5 343.3 L414.8 337.9 L415 336.9 L415.2 331.7 L415.5 333.4 L415.8 333.2 L416 333.3 L416.2 329.5 L416.5 325.4 L416.8 326.1 L417 324.6 L417.2 322.4 L417.5 319.8 L417.8 321.7 L418 318.3 L418.2 320.2 L418.5 317.2 L418.8 315.1 L419 316.6 L419.2 308.6 L419.5 309.8 L419.8 310.5 L420 307.3 L420.2 303.1 L420.5 310.5 L420.8 306 L421 307.7 L421.2 305.5 L421.5 305.6 L421.8 306.6 L422 311.6 L422.2 310.2 L422.5 313.7 L422.8 316.1 L423 321.9 L423.2 323.8 L423.5 327.4 L423.8 330.7 L424 331.8 L424.2 336.3 L424.5 339.4 L424.8 347.5 L425 351.9 L425.2 346.6 L425.5 353.7 L425.8 355.9 L426 358.7 L426.2 360.3 L426.5 361.3 L426.8 362.8 L427 365.1 L427.2 367.6 L427.5 369.5 L427.8 368.7 L428 370 L428.2 371.9 L428.5 373 L428.8 375.1 L429 375.5 L429.2 375.8 L429.5 376.2 L429.8 377.8 L430 378.1 L430.2 379.7 L430.5 380.6 L430.8 379.9 L431 380.3 L431.2 381.8 L431.5 380.7 L431.8 381.3 L432 382.6 L432.2 382.6 L432.5 382.7 L432.8 382.4 L433 383.1 L433.2 383.1 L433.5 384.1 L433.8 383.5 L434 383.5 L434.2 384.3 L434.5 384.1 L434.8 384.2 L435 384.6 L435.2 384.2 L435.5 384.1 L435.8 384.5 L436 384.6 L436.2 384.6 L436.5 384.2 L436.8 384.6 L437 384.6 L437.2 384.6 L437.5 384.5 L437.8 384.3 L438 384.1 L438.2 384.6 L438.5 384.5 L438.8 384.6 L439 384.6 L439.2 384.2 L439.5 384.6 L439.8 384.6 L440 384.6 L440.2 384.4 L440.5 384.1 L440.8 384.6 L441 384.5 L441.2 384.6 L441.5 384.6 L441.8 384.6 L442 384.6 L442.2 384.6 L442.5 384.6 L442.8 384.6 L443 384.5 L443.2 383.7 L443.5 384.6 L443.8 384.6 L444 384.6 L444.2 384.6 L444.5 384.5 L444.8 384.6 L445 384.6" fill="none" stroke="#000" stroke-width="1.4" stroke-linejoin="round"/>
<path d="M426.5 347.7 L426.8 349.5 L427 345.5 L427.2 346.4 L427.5 343.7 L427.8 347.1 L428 345.7 L428.2 341.7 L428.5 342.6 L428.8 340.8 L429 338 L429.2 341.2 L429.5 341.4 L429.8 337.8 L430 335.6 L430.2 339.3 L430.5 335.4 L430.8 334.7 L431 331.7 L431.2 332.6 L431.5 335 L431.8 327.6 L432 329.1 L432.2 329.1 L432.5 328.3 L432.8 330.9 L433 333.3 L433.2 332.2 L433.5 333.6 L433.8 329 L434 325.3 L434.2 326.5 L434.5 325.7 L434.8 323.6 L435 322.7 L435.2 317.3 L435.5 320.4 L435.8 321.1 L436 318 L436.2 316.4 L436.5 319.2 L436.8 322 L437 317.8 L437.2 318.1 L437.5 317.6 L437.8 320.7 L438 317.9 L438.2 314 L438.5 316.4 L438.8 315 L439 313.5 L439.2 314.9 L439.5 318.3 L439.8 318.3 L440 319 L440.2 320.2 L440.5 321.9 L440.8 322.6 L441 317.6 L441.2 323.6 L441.5 329.1 L441.8 324.9 L442 332.3 L442.2 332.6 L442.5 332.6 L442.8 337.1 L443 344.3 L443.2 350.1 L443.5 348.1 L443.8 348.7 L444 354.3 L444.2 354.4 L444.5 352.2 L444.8 355.1 L445 355.8 L445.2 358.4 L445.5 359.3 L445.8 362.6 L446 361 L446.2 362.4 L446.5 365.2 L446.8 365.3 L447 367.6 L447.2 367.3 L447.5 367.2 L447.8 369.3 L448 370.1 L448.2 371 L448.5 371.5 L448.8 373.3 L449 372.1 L449.2 374.9 L449.2 375.4 L449 372.6 L448.8 373.8 L448.5 372 L448.2 371.5 L448 370.6 L447.8 369.8 L447.5 369.2 L447.2 367.8 L447 368.6 L446.8 365.8 L446.5 365.7 L446.2 365.1 L446 361.5 L445.8 363.1 L445.5 360.8 L445.2 361.3 L445 359.5 L444.8 357.7 L444.5 358.3 L444.2 357.4 L444 355.1 L443.8 351.3 L443.5 351.7 L443.2 351.8 L443 353.3 L442.8 351.1 L442.5 345.4 L442.2 349.5 L442 347.9 L441.8 341.9 L441.5 344.3 L441.2 343.6 L441 346.6 L440.8 343.7 L440.5 346.2 L440.2 341.8 L440 346.7 L439.8 340 L439.5 342.9 L439.2 339 L439 343.5 L438.8 340.3 L438.5 342.1 L438.2 341.4 L438 340.6 L437.8 342.4 L437.5 344.7 L437.2 338.5 L437 340.2 L436.8 341.4 L436.5 344.9 L436.2 345.7 L436 341.8 L435.8 346 L435.5 342.7 L435.2 343.6 L435 342.5 L434.8 338.3 L434.5 341.2 L434.2 343.2 L434 347.8 L433.8 342.9 L433.5 344.8 L433.2 343.2 L433 346.6 L432.8 347 L432.5 345.3 L432.2 347.9 L432 344.5 L431.8 349.4 L431.5 344.1 L431.2 345 L431 344.7 L430.8 341.8 L430.5 341.9 L430.2 339.8 L430 336.7 L429.8 338.3 L429.5 341.9 L429.2 341.7 L429 339 L428.8 341.3 L428.5 343.1 L428.2 342.2 L428 346.2 L427.8 347.6 L427.5 347.1 L427.2 346.9 L427 346 L426.8 350 L426.5 348.2 Z" fill="#333" stroke="none"/>
<line x1="406.2" y1="291.2" x2="406.2" y2="384.6" stroke="#000" stroke-width="1.1"/>
<line x1="403.6" y1="384.6" x2="406.2" y2="384.6" stroke="#000" stroke-width="1.1"/>
<text x="399.9" y="387.5" class="t" text-anchor="end">0</text>
<line x1="403.6" y1="369.1" x2="406.2" y2="369.1" stroke="#000" stroke-width="1.1"/>
<text x="399.9" y="372" class="t" text-anchor="end">10</text>
<line x1="403.6" y1="353.6" x2="406.2" y2="353.6" stroke="#000" stroke-width="1.1"/>
<text x="399.9" y="356.5" class="t" text-anchor="end">20</text>
<line x1="403.6" y1="338.1" x2="406.2" y2="338.1" stroke="#000" stroke-width="1.1"/>
<text x="399.9" y="341" class="t" text-anchor="end">30</text>
<line x1="403.6" y1="322.7" x2="406.2" y2="322.7" stroke="#000" stroke-width="1.1"/>
<text x="399.9" y="325.6" class="t" text-anchor="end">40</text>
<line x1="403.6" y1="307.2" x2="406.2" y2="307.2" stroke="#000" stroke-width="1.1"/>
<text x="399.9" y="310.1" class="t" text-anchor="end">50</text>
<line x1="403.6" y1="291.7" x2="406.2" y2="291.7" stroke="#000" stroke-width="1.1"/>
<text x="399.9" y="294.6" class="t" text-anchor="end">60</text>
<line x1="403.6" y1="384.6" x2="510.7" y2="384.6" stroke="#000" stroke-width="1.3"/>
<path d="M406.2 384.6v2.2M414.1 384.6v1.5M418.7 384.6v1.5M421.9 384.6v1.5M424.5 384.6v1.5M426.5 384.6v1.5M428.3 384.6v1.5M429.8 384.6v1.5M431.1 384.6v1.5M432.3 384.6v2.2M440.2 384.6v1.5M444.8 384.6v1.5M448.1 384.6v1.5M450.6 384.6v1.5M452.7 384.6v1.5M454.4 384.6v1.5M455.9 384.6v1.5M457.3 384.6v1.5M458.4 384.6v2.2M466.3 384.6v1.5M470.9 384.6v1.5M474.2 384.6v1.5M476.7 384.6v1.5M478.8 384.6v1.5M480.5 384.6v1.5M482 384.6v1.5M483.4 384.6v1.5M484.6 384.6v2.2M492.4 384.6v1.5M497 384.6v1.5M500.3 384.6v1.5M502.8 384.6v1.5M504.9 384.6v1.5M506.7 384.6v1.5M508.2 384.6v1.5M509.5 384.6v1.5M510.7 384.6v2.2" stroke="#000" stroke-width="0.8"/>
<text x="406.2" y="398.9" class="t" text-anchor="middle">0.1</text>
<text x="432.3" y="398.9" class="t" text-anchor="middle">1</text>
<text x="458.4" y="398.9" class="t" text-anchor="middle">10</text>
<text x="484.6" y="398.9" class="t" text-anchor="middle">100</text>
<text x="510.7" y="398.9" class="t" text-anchor="middle">1000</text>
<text transform="translate(378.5 307) scale(0.96 1)" class="L">I</text>
<text x="509.3" y="299.1" class="h" text-anchor="end">MM1</text>
<text x="510.4" y="313.8" class="h" text-anchor="end">87%</text>
<path d="M43 532 L43.2 531.7 L43.5 531.2 L43.8 530.5 L44 529.2 L44.2 529.1 L44.5 527.2 L44.8 527.3 L45 525.9 L45.2 525.2 L45.5 525 L45.8 522.7 L46 522.3 L46.2 521.5 L46.5 520.3 L46.8 519.8 L47 517.5 L47.2 517.6 L47.5 516.3 L47.8 515.5 L48 514 L48.2 513.7 L48.5 512.7 L48.8 511.5 L49 509.4 L49.2 508.1 L49.5 506.8 L49.8 506.3 L50 505.3 L50.2 503.4 L50.5 502.2 L50.8 499.7 L51 501.2 L51.2 498.3 L51.5 498.3 L51.8 500.4 L52 495.3 L52.2 496.5 L52.5 494 L52.8 495.1 L53 494.9 L53.2 491.7 L53.5 488.3 L53.8 488.3 L54 491.9 L54.2 489.1 L54.5 491.8 L54.8 489.1 L55 485.3 L55.2 487.9 L55.5 492.8 L55.8 485.6 L56 487.5 L56.2 488.5 L56.5 488.7 L56.8 490.2 L57 490.3 L57.2 487.6 L57.5 489 L57.8 488.3 L58 487 L58.2 488.2 L58.5 486.3 L58.8 489.8 L59 492 L59.2 495.3 L59.5 493.5 L59.8 496.1 L60 497.7 L60.2 498.5 L60.5 497.7 L60.8 499.9 L61 500.9 L61.2 502.1 L61.5 506 L61.8 506.4 L62 506.7 L62.2 508.3 L62.5 508.6 L62.8 510.2 L63 510.9 L63.2 512.4 L63.5 514.1 L63.8 516 L64 517.1 L64.2 517.4 L64.5 519.1 L64.8 520 L65 520.7 L65.2 520.6 L65.5 523.6 L65.8 523.6 L66 523.6 L66.2 524.2 L66.5 524.6 L66.8 525.7 L67 526.3 L67.2 526.3 L67.5 527.4 L67.8 526.8 L68 527.6 L68.2 529.2 L68.5 528.3 L68.8 528.7 L69 529.1 L69.2 530.1 L69.5 530 L69.8 530.3 L70 530.6 L70.2 530.8 L70.5 531 L70.8 531.7 L71 531.4 L71.2 531.5 L71.5 531.8 L71.8 531.6 L72 531.9 L72 532 L43 532 Z" fill="#d1d1d1" stroke="#444" stroke-width="0.6"/>
<path d="M40 524.1 L40.2 523.2 L40.5 523.3 L40.8 522 L41 521.8 L41.2 522.2 L41.5 520.4 L41.8 520 L42 519.6 L42.2 519.4 L42.5 517.7 L42.8 517.6 L43 516.6 L43.2 517.4 L43.5 517.9 L43.8 514.9 L44 514.5 L44.2 515.9 L44.5 514.5 L44.8 513.4 L45 512.3 L45.2 511.5 L45.5 510.1 L45.8 512.5 L46 509.7 L46.2 508 L46.5 508.4 L46.8 506.2 L47 507.9 L47.2 505 L47.5 505.6 L47.8 502.3 L48 503.5 L48.2 503 L48.5 500.7 L48.8 497.9 L49 501.4 L49.2 497.1 L49.5 502 L49.8 498.5 L50 495.4 L50.2 491.4 L50.5 496.7 L50.8 488.6 L51 487.5 L51.2 490.4 L51.5 483.6 L51.8 481.8 L52 480.2 L52.2 480.5 L52.5 477.2 L52.8 475.9 L53 472.2 L53.2 473 L53.5 467 L53.8 470.2 L54 467.7 L54.2 469.9 L54.5 470.9 L54.8 467.5 L55 468.7 L55.2 471.7 L55.5 470.2 L55.8 466 L56 470.7 L56.2 468.5 L56.5 469.9 L56.8 469.1 L57 474.3 L57.2 475.6 L57.5 472.2 L57.8 469.9 L58 475.4 L58.2 473.4 L58.5 477.6 L58.8 480.2 L59 484.6 L59.2 482 L59.5 485.3 L59.8 484 L60 491.6 L60.2 492.7 L60.5 495.1 L60.8 495.5 L61 498.2 L61.2 496.7 L61.5 495.7 L61.8 496.6 L62 500.7 L62.2 500.6 L62.5 502.6 L62.8 501.7 L63 503.9 L63.2 502.4 L63.5 504.2 L63.8 508.3 L64 510.1 L64.2 511.6 L64.5 514.3 L64.8 514.8 L65 517.3 L65.2 518.6 L65.5 519.2 L65.8 519.7 L66 520.7 L66.2 520.9 L66.5 520.9 L66.8 522.4 L67 523.1 L67.2 521.6 L67.5 522.1 L67.8 522 L68 523 L68.2 522.5 L68.5 524.1 L68.8 524.4 L69 523.4 L69.2 522.6 L69.5 522.4 L69.8 523 L70 522.9 L70.2 523.6 L70.5 523.8 L70.8 524.3 L71 523.8 L71.2 524.5 L71.5 524 L71.8 523.7 L72 525 L72.2 523.9 L72.5 524.4 L72.8 526.4 L73 524.2 L73.2 524.9 L73.5 524.5 L73.8 524.9 L74 525.5 L74.2 524.9 L74.5 526.2 L74.8 526.6 L75 524.9 L75 526.9 L74.8 527.1 L74.5 526.7 L74.2 526.1 L74 526 L73.8 526.3 L73.5 525.2 L73.2 525.4 L73 526.2 L72.8 526.9 L72.5 525.1 L72.2 524.4 L72 525.5 L71.8 525.1 L71.5 526.4 L71.2 527.1 L71 527.8 L70.8 526.9 L70.5 528 L70.2 528.8 L70 529 L69.8 530 L69.5 530.1 L69.2 529.8 L69 528.2 L68.8 529.4 L68.5 529.4 L68.2 528 L68 528.5 L67.8 526.5 L67.5 527 L67.2 526.4 L67 526.1 L66.8 525.6 L66.5 525.3 L66.2 524.5 L66 524.2 L65.8 523.3 L65.5 522.6 L65.2 522.2 L65 519.9 L64.8 519.5 L64.5 520.1 L64.2 519.1 L64 516.3 L63.8 515.5 L63.5 514.2 L63.2 513.2 L63 510.7 L62.8 511.5 L62.5 508 L62.2 507.4 L62 504.4 L61.8 505.3 L61.5 503.5 L61.2 503.3 L61 501.6 L60.8 502 L60.5 500 L60.2 496.3 L60 502.2 L59.8 495.5 L59.5 499 L59.2 492 L59 488.3 L58.8 491.9 L58.5 487.5 L58.2 485.5 L58 488.2 L57.8 488.1 L57.5 486.1 L57.2 486.5 L57 491.2 L56.8 489.2 L56.5 486.9 L56.2 485.1 L56 485.6 L55.8 491.5 L55.5 488.3 L55.2 485.6 L55 486.2 L54.8 485.2 L54.5 491.8 L54.2 487.9 L54 488.2 L53.8 489.6 L53.5 492.6 L53.2 494.2 L53 490.7 L52.8 493.7 L52.5 493.8 L52.2 495.3 L52 495.4 L51.8 495.9 L51.5 500.4 L51.2 500.3 L51 501.1 L50.8 501.4 L50.5 500.7 L50.2 502.4 L50 506.7 L49.8 507.1 L49.5 506.8 L49.2 508.7 L49 510.9 L48.8 510.4 L48.5 513.1 L48.2 512.6 L48 513.7 L47.8 515.5 L47.5 517.7 L47.2 516.8 L47 517.9 L46.8 519.1 L46.5 520.2 L46.2 521.8 L46 521.9 L45.8 523 L45.5 524.5 L45.2 524 L45 522.8 L44.8 523 L44.5 523.3 L44.2 522.1 L44 519.6 L43.8 520.2 L43.5 518.4 L43.2 518.7 L43 517.1 L42.8 519 L42.5 519.5 L42.2 519.9 L42 520.1 L41.8 520.5 L41.5 522.1 L41.2 522.7 L41 523.4 L40.8 523.8 L40.5 523.8 L40.2 524.3 L40 524.7 Z" fill="#333" stroke="none"/>
<path d="M38.8 532 L39.3 527.3 L39.8 523 L40.3 524.2 L40.8 522.2 L41.3 521.9 L41.8 522.7 L42.3 521.7 L42.8 517.6 L43.3 515.7 L43.8 512.9 L44.3 516.9 L44.8 509.1 L45.3 509.3 L45.8 512.6 L46.3 504.7 L46.8 503.2 L47.3 508.3 L47.8 509.7 L48.3 500.9 L48.8 500.8 L49.3 499.8 L49.8 493.4 L50.3 486.3 L50.8 485.4 L51.3 480.7 L51.8 481.2 L52.3 480.2 L52.8 470 L53.3 479.7 L53.8 468.8 L54.3 468.7 L54.8 471.6 L55.3 467.7 L55.8 467.3 L56.3 463.2 L56.8 468.4 L57.3 472 L57.8 481.9 L58.3 486.9 L58.8 481.5 L59.3 474.4 L59.8 483.3 L60.3 491.3 L60.8 497.8 L61.3 490.8 L61.8 499.3 L62.3 502.9 L62.8 496.2 L63.3 505.7 L63.8 507.1 L64.3 512.2 L64.8 517.9 L65.3 519.6 L65.8 522.4 L66.3 525.1 L66.8 521.8 L67.3 523.2 L67.8 524.3 L68.3 524.2 L68.8 523.7 L69.3 524.4 L69.8 523.1 L70.3 524 L70.8 522.4 L71.3 524.2 L71.8 523.1 L72.3 525.5 L72.8 524.9 L73.3 525.5 L73.8 524.9 L74.3 525.3 L74.8 526.2 L75.3 525 L75.8 526.3 L76.3 526.7 L76.8 527.2 L77.3 528.7 L77.8 528.6 L78.3 529.2 L78.8 529.7 L79.3 531.7 L79.8 531.3 L80.3 532" fill="none" stroke="#8a8a8a" stroke-width="0.6" stroke-linejoin="round"/>
<path d="M38.8 532 L39 529.1 L39.3 527.3 L39.5 525.4 L39.8 525.4 L40 522.9 L40.3 522.8 L40.5 522.7 L40.8 520.7 L41 521.8 L41.3 520.4 L41.5 521.2 L41.8 519.8 L42 520.3 L42.3 517.8 L42.5 519.1 L42.8 516.4 L43 516.3 L43.3 514.9 L43.5 516.2 L43.8 515.2 L44 515.3 L44.3 513.7 L44.5 513.2 L44.8 514.2 L45 511.1 L45.3 510.9 L45.5 510.9 L45.8 512.6 L46 508.8 L46.3 509.1 L46.5 508.4 L46.8 506.4 L47 505.8 L47.3 506.4 L47.5 505.6 L47.8 505.4 L48 502.2 L48.3 504.4 L48.5 502.4 L48.8 502.4 L49 500 L49.3 499.5 L49.5 497.1 L49.8 498.7 L50 498.2 L50.3 495.5 L50.5 489.1 L50.8 490.5 L51 486.7 L51.3 489.5 L51.5 487.2 L51.8 480.7 L52 484.2 L52.3 478.7 L52.5 480.7 L52.8 477.8 L53 473.2 L53.3 474.6 L53.5 472.5 L53.8 471.5 L54 467.2 L54.3 467.4 L54.5 467.3 L54.8 466.5 L55 465.8 L55.3 468.3 L55.5 468 L55.8 466.6 L56 473.6 L56.3 468.6 L56.5 471.4 L56.8 466 L57 470.4 L57.3 473.6 L57.5 470.5 L57.8 472.1 L58 477.2 L58.3 474.1 L58.5 481.2 L58.8 480.8 L59 486.4 L59.3 484.3 L59.5 488.8 L59.8 490.2 L60 487.6 L60.3 495.3 L60.5 492.4 L60.8 494.4 L61 497.2 L61.3 497 L61.5 498.8 L61.8 498.4 L62 499.2 L62.3 498.1 L62.5 503.4 L62.8 502.2 L63 502.5 L63.3 503.4 L63.5 506.3 L63.8 508.2 L64 508.7 L64.3 511.8 L64.5 512.8 L64.8 515.7 L65 517.5 L65.3 519 L65.5 518.2 L65.8 518.7 L66 520.6 L66.3 519.9 L66.5 521.6 L66.8 521.7 L67 521.4 L67.3 522.5 L67.5 522.2 L67.8 522.4 L68 521.6 L68.3 522.8 L68.5 522.7 L68.8 522.4 L69 523 L69.3 523.7 L69.5 524.8 L69.8 523.6 L70 524 L70.3 522.7 L70.5 523.3 L70.8 523.9 L71 524 L71.3 524.8 L71.5 524.1 L71.8 524.3 L72 524 L72.3 524.2 L72.5 525.1 L72.8 525.1 L73 524.4 L73.3 524.8 L73.5 525.6 L73.8 525.2 L74 525.1 L74.3 524.5 L74.5 526.3 L74.8 525.4 L75 526 L75.3 525.2 L75.5 524.8 L75.8 526.2 L76 526.7 L76.3 527.4 L76.5 527.1 L76.8 527.5 L77 527.6 L77.3 528 L77.5 528.4 L77.8 527.8 L78 528.9 L78.3 530.2 L78.5 528.9 L78.8 530.2 L79 530.7 L79.3 530.6 L79.5 531 L79.8 531.2 L80 531 L80.3 531.7" fill="none" stroke="#000" stroke-width="1.3" stroke-linejoin="round"/>
<line x1="38.9" y1="439.1" x2="38.9" y2="532" stroke="#000" stroke-width="1.1"/>
<line x1="36.3" y1="532" x2="38.9" y2="532" stroke="#000" stroke-width="1.1"/>
<text x="32.6" y="534.9" class="t" text-anchor="end">0</text>
<line x1="36.3" y1="516.6" x2="38.9" y2="516.6" stroke="#000" stroke-width="1.1"/>
<text x="32.6" y="519.5" class="t" text-anchor="end">10</text>
<line x1="36.3" y1="501.2" x2="38.9" y2="501.2" stroke="#000" stroke-width="1.1"/>
<text x="32.6" y="504.1" class="t" text-anchor="end">20</text>
<line x1="36.3" y1="485.8" x2="38.9" y2="485.8" stroke="#000" stroke-width="1.1"/>
<text x="32.6" y="488.7" class="t" text-anchor="end">30</text>
<line x1="36.3" y1="470.4" x2="38.9" y2="470.4" stroke="#000" stroke-width="1.1"/>
<text x="32.6" y="473.3" class="t" text-anchor="end">40</text>
<line x1="36.3" y1="455" x2="38.9" y2="455" stroke="#000" stroke-width="1.1"/>
<text x="32.6" y="457.9" class="t" text-anchor="end">50</text>
<line x1="36.3" y1="439.6" x2="38.9" y2="439.6" stroke="#000" stroke-width="1.1"/>
<text x="32.6" y="442.5" class="t" text-anchor="end">60</text>
<line x1="36.3" y1="532" x2="140.9" y2="532" stroke="#000" stroke-width="1.3"/>
<path d="M38.9 532v2.2M46.6 532v1.5M51.1 532v1.5M54.3 532v1.5M56.7 532v1.5M58.7 532v1.5M60.5 532v1.5M61.9 532v1.5M63.2 532v1.5M64.4 532v2.2M72.1 532v1.5M76.6 532v1.5M79.8 532v1.5M82.2 532v1.5M84.2 532v1.5M86 532v1.5M87.4 532v1.5M88.7 532v1.5M89.9 532v2.2M97.6 532v1.5M102.1 532v1.5M105.3 532v1.5M107.7 532v1.5M109.7 532v1.5M111.5 532v1.5M112.9 532v1.5M114.2 532v1.5M115.4 532v2.2M123.1 532v1.5M127.6 532v1.5M130.8 532v1.5M133.2 532v1.5M135.2 532v1.5M137 532v1.5M138.4 532v1.5M139.7 532v1.5M140.9 532v2.2" stroke="#000" stroke-width="0.8"/>
<text x="38.9" y="546.3" class="t" text-anchor="middle">0.1</text>
<text x="64.4" y="546.3" class="t" text-anchor="middle">1</text>
<text x="89.9" y="546.3" class="t" text-anchor="middle">10</text>
<text x="115.4" y="546.3" class="t" text-anchor="middle">100</text>
<text x="140.9" y="546.3" class="t" text-anchor="middle">1000</text>
<text transform="translate(0.4 454) scale(0.96 1)" class="L">J</text>
<text x="137.4" y="444.5" class="h" text-anchor="end">Normal B</text>
<text x="137.4" y="458.9" class="h" text-anchor="end">Splenocytes</text>
<text x="137.9" y="473.7" class="h" text-anchor="end">0%</text>
<text transform="translate(17.8 485.8) rotate(-90)" class="cn" text-anchor="middle">Cell Number</text>
<path d="M244.5 531.4 L244.8 530.8 L245 530.1 L245.2 529.6 L245.5 529.6 L245.8 528.6 L246 527.8 L246.2 526.8 L246.5 526.7 L246.8 526.5 L247 525.5 L247.2 524.6 L247.5 524.5 L247.8 523.9 L248 522.3 L248.2 522.2 L248.5 520.2 L248.8 520 L249 519.3 L249.2 518.1 L249.5 517.4 L249.8 515.1 L250 515.2 L250.2 514.8 L250.5 513.1 L250.8 510.7 L251 511.1 L251.2 509.8 L251.5 508.7 L251.8 508.2 L252 507.2 L252.2 503.8 L252.5 502.8 L252.8 503.7 L253 499.4 L253.2 500.4 L253.5 501.2 L253.8 502.5 L254 497.3 L254.2 495.5 L254.5 495 L254.8 492.3 L255 495.2 L255.2 494.4 L255.5 495.5 L255.8 493 L256 489.4 L256.2 489.6 L256.5 487.9 L256.8 486.9 L257 489.4 L257.2 489.5 L257.5 484.4 L257.8 486.3 L258 484.9 L258.2 483.9 L258.5 485.8 L258.8 483.8 L259 486.3 L259.2 479.5 L259.5 481.6 L259.8 482.9 L260 481.1 L260.2 484.2 L260.5 480.3 L260.8 481.7 L261 481 L261.2 479.3 L261.5 480 L261.8 480.7 L262 482.8 L262.2 483 L262.5 483.5 L262.8 481.9 L263 481.4 L263.2 482.6 L263.5 485 L263.8 485.3 L264 487.9 L264.2 485.8 L264.5 487.1 L264.8 484.6 L265 491.1 L265.2 488.9 L265.5 491.4 L265.8 487.7 L266 492.1 L266.2 491.2 L266.5 495 L266.8 494.8 L267 494.2 L267.2 496.4 L267.5 496.6 L267.8 496.7 L268 497.6 L268.2 501.1 L268.5 500.8 L268.8 501.3 L269 502.7 L269.2 503.3 L269.5 504.9 L269.8 505.4 L270 508.2 L270.2 508 L270.5 510.9 L270.8 512.4 L271 512.9 L271.2 514.2 L271.5 515.4 L271.8 517.5 L272 518.3 L272.2 521.3 L272.5 521.2 L272.8 524.1 L273 526 L273.2 527 L273.5 530 L273.8 530.8 L273.8 531.4 L244.5 531.4 Z" fill="#d1d1d1" stroke="#444" stroke-width="0.6"/>
<path d="M221.3 523.4 L221.6 523.7 L221.8 524.2 L222.1 523.7 L222.3 523.5 L222.6 524 L222.8 523.6 L223.1 523.9 L223.3 522.5 L223.6 523.2 L223.8 523.5 L224.1 522 L224.3 523 L224.6 523.6 L224.8 523 L225.1 523.9 L225.3 522.3 L225.6 522.9 L225.8 521.8 L226.1 521.7 L226.3 523 L226.6 522.5 L226.8 522.2 L227.1 521.2 L227.3 519.9 L227.6 521.9 L227.8 521.8 L228.1 520.8 L228.3 521.2 L228.6 520.2 L228.8 518.9 L229.1 517.5 L229.3 521 L229.6 517.4 L229.8 521.1 L230.1 518.5 L230.3 519.2 L230.6 516.3 L230.8 517.9 L231.1 517.2 L231.3 517.7 L231.6 519.8 L231.8 516.9 L232.1 518.7 L232.3 516.7 L232.6 518.6 L232.8 518.8 L233.1 517 L233.3 518.1 L233.6 517.5 L233.8 517.6 L234.1 519.9 L234.3 520.6 L234.6 521 L234.8 518.7 L235.1 519.4 L235.3 517.9 L235.6 518.9 L235.8 518.2 L236.1 520 L236.3 520.1 L236.6 520.5 L236.8 517.5 L237.1 518.9 L237.3 519.3 L237.6 519 L237.8 518.3 L238.1 519 L238.3 517.6 L238.6 517.3 L238.8 516.2 L239.1 517.8 L239.3 516.1 L239.6 519.8 L239.8 516.9 L240.1 516.2 L240.3 515.6 L240.6 518.8 L240.8 515.1 L241.1 516.5 L241.3 516 L241.6 515.6 L241.8 512.7 L242.1 515.6 L242.3 516.7 L242.6 516.7 L242.8 515.1 L243.1 516.9 L243.3 518.5 L243.6 515.8 L243.8 515.3 L244.1 511.9 L244.3 516.4 L244.6 512.9 L244.8 513 L244.8 513.5 L244.6 514.4 L244.3 516.9 L244.1 516.6 L243.8 518.6 L243.6 521.3 L243.3 521.5 L243.1 522.9 L242.8 523.9 L242.6 525 L242.3 525.1 L242.1 524.9 L241.8 526 L241.6 525.1 L241.3 526 L241.1 526.6 L240.8 526.3 L240.6 525.7 L240.3 526.4 L240.1 525.7 L239.8 525.3 L239.6 526 L239.3 526.5 L239.1 527.2 L238.8 526.6 L238.6 527.1 L238.3 526.4 L238.1 526.9 L237.8 526.5 L237.6 525.7 L237.3 526.4 L237.1 526.6 L236.8 527.2 L236.6 527 L236.3 526.9 L236.1 526.7 L235.8 526.7 L235.6 526 L235.3 527.6 L235.1 526.8 L234.8 527.3 L234.6 527.1 L234.3 526.3 L234.1 526.9 L233.8 526.9 L233.6 526.9 L233.3 527.5 L233.1 527 L232.8 526.4 L232.6 527 L232.3 527.7 L232.1 526.1 L231.8 526.6 L231.6 525.9 L231.3 526.5 L231.1 526.2 L230.8 526.2 L230.6 527.1 L230.3 525.8 L230.1 526.1 L229.8 526.5 L229.6 526.2 L229.3 527.9 L229.1 527.4 L228.8 527.5 L228.6 526.3 L228.3 526.8 L228.1 527.6 L227.8 527.4 L227.6 527.9 L227.3 527.6 L227.1 528.2 L226.8 528.1 L226.6 528.3 L226.3 528.6 L226.1 528.6 L225.8 527.9 L225.6 529 L225.3 528 L225.1 529.1 L224.8 529.1 L224.6 528.9 L224.3 529.9 L224.1 529.2 L223.8 529.2 L223.6 528.5 L223.3 528.3 L223.1 527.8 L222.8 526.6 L222.6 527 L222.3 526.3 L222.1 526.4 L221.8 525.1 L221.6 524.7 L221.3 524.1 Z" fill="#666" stroke="none"/>
<path d="M241.5 521.9 L241.8 521.6 L242 519.5 L242.2 521 L242.5 518.6 L242.8 519.8 L243 519.4 L243.2 518.8 L243.5 519 L243.8 517.6 L244 518.1 L244.2 516.2 L244.5 515.7 L244.8 514.9 L245 514.5 L245.2 514.1 L245.5 512.5 L245.8 512.1 L246 510.4 L246.2 510.1 L246.5 508.4 L246.8 508.1 L247 506.6 L247.2 505.7 L247.5 506.7 L247.8 505.3 L248 503.8 L248.2 502.7 L248.5 500.4 L248.8 499.7 L249 504.5 L249.2 499.4 L249.5 498.4 L249.8 497.4 L250 497.2 L250.2 495 L250.5 493.2 L250.8 490.4 L251 495.1 L251.2 496.3 L251.5 492.1 L251.8 489.9 L252 491.2 L252.2 489.9 L252.5 485.1 L252.8 488.7 L253 485.1 L253.2 480.7 L253.5 483.8 L253.8 480 L254 476.2 L254.2 479.5 L254.5 475.4 L254.8 477 L255 477 L255.2 472.6 L255.5 475.8 L255.8 470.9 L256 472.1 L256.2 472.5 L256.5 475.1 L256.8 468.5 L257 468.8 L257.2 470.1 L257.5 465.4 L257.8 466.7 L258 469.3 L258.2 463.2 L258.5 469.9 L258.8 469.8 L259 464.2 L259.2 462.5 L259.5 465.9 L259.8 463.7 L260 466.5 L260.2 462.9 L260.5 463.6 L260.8 465.3 L261 464.2 L261.2 463.1 L261.5 463.3 L261.8 465.1 L262 463.5 L262.2 466.2 L262.5 468 L262.8 468.1 L263 469.2 L263.2 469.9 L263.5 475 L263.8 472 L264 477.4 L264.2 475.9 L264.5 474.4 L264.8 474.9 L265 480.6 L265.2 481.8 L265.5 480.7 L265.8 480.1 L266 484.9 L266.2 483.9 L266.5 482.7 L266.8 481.3 L267 484 L267.2 485.1 L267.5 484.7 L267.8 483 L268 489.3 L268.2 487.1 L268.5 488.5 L268.8 486.4 L269 490.8 L269.2 492 L269.5 494 L269.8 493.3 L270 493.2 L270.2 494.4 L270.5 495.7 L270.8 496.1 L271 497.5 L271.2 498.5 L271.5 504.9 L271.8 505.8 L272 507.2 L272.2 507.9 L272.5 512 L272.8 511.8 L273 512.9 L273.2 514.1 L273.5 517.4 L273.8 518.5 L274 518.8 L274.2 519.9 L274.5 519.7 L274.8 521.2 L275 521.2 L275.2 522.5 L275.5 521.7 L275.8 524.4 L276 523.6 L276.2 524.4 L276.5 525.4 L276.8 526.1 L276.8 526.6 L276.5 526.2 L276.2 524.9 L276 524.3 L275.8 525.2 L275.5 523.3 L275.2 523 L275 523.1 L274.8 521.8 L274.5 520.8 L274.2 520.8 L274 519.3 L273.8 519.1 L273.5 517.9 L273.2 518.6 L273 517.9 L272.8 516.4 L272.5 516.8 L272.2 517 L272 515.6 L271.8 515 L271.5 515.3 L271.2 513.8 L271 513 L270.8 512.8 L270.5 510.1 L270.2 508.8 L270 509.4 L269.8 507.5 L269.5 505.9 L269.2 504.1 L269 503.1 L268.8 502.1 L268.5 500.9 L268.2 500.4 L268 499.2 L267.8 499.6 L267.5 497.6 L267.2 498.1 L267 495.6 L266.8 493.1 L266.5 491.9 L266.2 495.6 L266 491.4 L265.8 491.6 L265.5 491.6 L265.2 488.4 L265 486.4 L264.8 488.2 L264.5 488.7 L264.2 485.4 L264 485.7 L263.8 486.4 L263.5 485.8 L263.2 482.1 L263 486 L262.8 480.7 L262.5 484.8 L262.2 481.6 L262 484.5 L261.8 479.8 L261.5 480.8 L261.2 481.3 L261 478.3 L260.8 481.4 L260.5 482.1 L260.2 481 L260 483.1 L259.8 481.2 L259.5 483.7 L259.2 480.3 L259 485 L258.8 483.8 L258.5 483.1 L258.2 482.1 L258 485.4 L257.8 485.7 L257.5 487 L257.2 486.5 L257 482.2 L256.8 486.4 L256.5 490.5 L256.2 490.2 L256 491 L255.8 491.3 L255.5 492.6 L255.2 491.4 L255 493.7 L254.8 492.8 L254.5 495.4 L254.2 496.8 L254 498.2 L253.8 500.3 L253.5 500.9 L253.2 497.9 L253 501.9 L252.8 502.8 L252.5 503.6 L252.2 504.2 L252 506.4 L251.8 507.9 L251.5 507.3 L251.2 509.8 L251 507.7 L250.8 510.8 L250.5 513 L250.2 513.2 L250 514.9 L249.8 515.5 L249.5 518.4 L249.2 517.4 L249 518.5 L248.8 519.4 L248.5 520 L248.2 521.2 L248 522.6 L247.8 523 L247.5 523.5 L247.2 524.6 L247 525.4 L246.8 525 L246.5 523.4 L246.2 521.2 L246 522.1 L245.8 520.3 L245.5 519 L245.2 518.2 L245 519.1 L244.8 517.2 L244.5 516.2 L244.2 517.4 L244 518.6 L243.8 518.5 L243.5 519.5 L243.2 519.8 L243 520.6 L242.8 520.3 L242.5 521 L242.2 521.5 L242 521.1 L241.8 522.1 L241.5 522.4 Z" fill="#333" stroke="none"/>
<path d="M221.1 527.3 L221.6 526.3 L222.1 525.6 L222.6 525.5 L223.1 526.6 L223.6 527.7 L224.1 525.6 L224.6 526.6 L225.1 526.4 L225.6 526.8 L226.1 526.1 L226.6 526.8 L227.1 526.3 L227.6 526 L228.1 527.6 L228.6 525.5 L229.1 525.2 L229.6 524.8 L230.1 525.9 L230.6 523.6 L231.1 525.9 L231.6 522.6 L232.1 521.6 L232.6 523.9 L233.1 521.1 L233.6 522.5 L234.1 523.6 L234.6 523.6 L235.1 524.3 L235.6 523.4 L236.1 522.4 L236.6 524.2 L237.1 524.1 L237.6 523.6 L238.1 522.6 L238.6 523.8 L239.1 523.5 L239.6 523.8 L240.1 523.2 L240.6 521.9 L241.1 522.4 L241.6 520.7 L242.1 520.8 L242.6 520.9 L243.1 518 L243.6 518.1 L244.1 518.5 L244.6 516.5 L245.1 511.6 L245.6 512.2 L246.1 511.3 L246.6 510.3 L247.1 507.1 L247.6 506.7 L248.1 502.9 L248.6 503.2 L249.1 499.6 L249.6 500.1 L250.1 499.3 L250.6 493 L251.1 499.1 L251.6 478.8 L252.1 488.7 L252.6 488.9 L253.1 490.7 L253.6 478.2 L254.1 478.3 L254.6 480.7 L255.1 475.7 L255.6 474.4 L256.1 475.1 L256.6 471.7 L257.1 461.1 L257.6 464.1 L258.1 465 L258.6 470.7 L259.1 464.4 L259.6 468.5 L260.1 465.6 L260.6 456.1 L261.1 462.1 L261.6 463.8 L262.1 467.4 L262.6 458.8 L263.1 474.3 L263.6 469.8 L264.1 478.9 L264.6 474.8 L265.1 478.9 L265.6 483.8 L266.1 477.5 L266.6 483.2 L267.1 480.5 L267.6 489.6 L268.1 501.5 L268.6 484.8 L269.1 484.9 L269.6 483.8 L270.1 496.2 L270.6 494.5 L271.1 500.4 L271.6 503 L272.1 507 L272.6 517.2 L273.1 512.5 L273.6 519.9 L274.1 518.3 L274.6 521.6 L275.1 520.7 L275.6 524 L276.1 523.6 L276.6 525.8 L277.1 526.3 L277.6 526.9 L278.1 526.3 L278.6 527.7 L279.1 528.8 L279.6 528.9 L280.1 529.7 L280.6 530.1 L281.1 530.5 L281.6 530.4 L282.1 531 L282.6 531.4 L283.1 531.3 L283.6 531.4 L284.1 531.4 L284.6 531.4 L285.1 531 L285.6 531.2 L286.1 531.1 L286.6 531.4 L287.1 531.4 L287.6 530.6 L288.1 530.6 L288.6 530.8 L289.1 531.2 L289.6 530.7 L290.1 531.4 L290.6 531 L291.1 531.1 L291.6 531.4 L292.1 531.4 L292.6 531.4 L293.1 531.2 L293.6 531.4 L294.1 531.3 L294.6 531.4 L295.1 531.4 L295.6 531.4 L296.1 531.4 L296.6 531.4 L297.1 531.1 L297.6 531.4 L298.1 530.7 L298.6 531.4 L299.1 531.3 L299.6 531.4" fill="none" stroke="#8a8a8a" stroke-width="0.6" stroke-linejoin="round"/>
<path d="M221.1 527.1 L221.3 527.3 L221.6 527.4 L221.8 527.1 L222.1 527.4 L222.3 526.5 L222.6 527.4 L222.8 526.9 L223.1 527.1 L223.3 527.2 L223.6 527.7 L223.8 526 L224.1 527.2 L224.3 527.4 L224.6 527.4 L224.8 526.2 L225.1 526.5 L225.3 525.8 L225.6 526.9 L225.8 526.8 L226.1 525.6 L226.3 526.5 L226.6 526.1 L226.8 526 L227.1 526.8 L227.3 525.9 L227.6 526.4 L227.8 526.5 L228.1 525.4 L228.3 525.5 L228.6 524.9 L228.8 526.1 L229.1 525 L229.3 524.8 L229.6 525.1 L229.8 524.1 L230.1 524.5 L230.3 523.1 L230.6 522.9 L230.8 523.4 L231.1 523.8 L231.3 523.8 L231.6 523 L231.8 522.2 L232.1 522.7 L232.3 522.8 L232.6 523.7 L232.8 523.1 L233.1 521.7 L233.3 523.4 L233.6 522.8 L233.8 523.9 L234.1 523.5 L234.3 523.3 L234.6 523.1 L234.8 523.5 L235.1 523.4 L235.3 523.8 L235.6 523.3 L235.8 522.9 L236.1 523.6 L236.3 523.9 L236.6 523.5 L236.8 523.3 L237.1 522.6 L237.3 523.5 L237.6 524.3 L237.8 523.5 L238.1 523.3 L238.3 523.1 L238.6 522.9 L238.8 523.1 L239.1 524.2 L239.3 523.5 L239.6 523.3 L239.8 522 L240.1 523 L240.3 523.3 L240.6 521.3 L240.8 521.6 L241.1 521.5 L241.3 520.5 L241.6 521.7 L241.8 520.9 L242.1 520 L242.3 520.2 L242.6 519.9 L242.8 519.6 L243.1 519.7 L243.3 518.5 L243.6 518.1 L243.8 518.2 L244.1 515.9 L244.3 516.6 L244.6 514.3 L244.8 514.9 L245.1 512.3 L245.3 512.4 L245.6 511.7 L245.8 510.9 L246.1 507.2 L246.3 507.8 L246.6 508.8 L246.8 506 L247.1 503.8 L247.3 505 L247.6 505.2 L247.8 503.2 L248.1 503.2 L248.3 502.7 L248.6 502.1 L248.8 502.9 L249.1 494.2 L249.3 499.2 L249.6 497.9 L249.8 497 L250.1 495.2 L250.3 494.8 L250.6 496.6 L250.8 495.2 L251.1 492.9 L251.3 498.9 L251.6 492.6 L251.8 490.9 L252.1 487.7 L252.3 488.4 L252.6 485.2 L252.8 483.7 L253.1 482.9 L253.3 484.5 L253.6 480.9 L253.8 483.2 L254.1 480.2 L254.3 477.8 L254.6 475.8 L254.8 473.9 L255.1 475.1 L255.3 468.9 L255.6 473.4 L255.8 470.1 L256.1 471.3 L256.4 472 L256.6 471.8 L256.9 466.9 L257.1 471.4 L257.4 471.1 L257.6 470 L257.9 472.5 L258.1 465.6 L258.4 464.6 L258.6 468.1 L258.9 463.5 L259.1 467.4 L259.4 469.6 L259.6 464.9 L259.9 461.8 L260.1 466.8 L260.4 463.5 L260.6 463.5 L260.9 461.6 L261.1 462 L261.4 464.2 L261.6 462.7 L261.9 465.1 L262.1 465.9 L262.4 463.4 L262.6 470.4 L262.9 467.7 L263.1 471.6 L263.4 471.1 L263.6 473.6 L263.9 473.5 L264.1 471 L264.4 470.4 L264.6 477.4 L264.9 479.6 L265.1 479 L265.4 481.1 L265.6 482.7 L265.9 478.6 L266.1 484.3 L266.4 483.3 L266.6 483.4 L266.9 483.8 L267.1 484.8 L267.4 487.5 L267.6 489.1 L267.9 486.3 L268.1 488.2 L268.4 490.8 L268.6 489.7 L268.9 488.1 L269.1 486.5 L269.4 488.2 L269.6 491.7 L269.9 490.8 L270.1 495.1 L270.4 494.3 L270.6 495.3 L270.9 497.6 L271.1 499.1 L271.4 503.6 L271.6 502.9 L271.9 505.9 L272.1 506.7 L272.4 510.3 L272.6 511.6 L272.9 512.6 L273.1 513.8 L273.4 517.2 L273.6 517.9 L273.9 518.8 L274.1 518.7 L274.4 520.1 L274.6 521.2 L274.9 521.8 L275.1 521.8 L275.4 522.8 L275.6 523.2 L275.9 523.9 L276.1 524.8 L276.4 524.5 L276.6 526.2 L276.9 526 L277.1 526.7 L277.4 526 L277.6 527.2 L277.9 527.7 L278.1 528 L278.4 528.2 L278.6 528.1 L278.9 529 L279.1 527.8 L279.4 528.1 L279.6 528.4 L279.9 528.3 L280.1 528.7 L280.4 530.4 L280.6 529.9 L280.9 529.5 L281.1 530.6 L281.4 530.5 L281.6 530.9 L281.9 530.8 L282.1 531 L282.4 530.7 L282.6 531 L282.9 531.4 L283.1 531.4 L283.4 530.8 L283.6 531.4 L283.9 531.4 L284.1 531.4 L284.4 531.4 L284.6 531 L284.9 531 L285.1 531.4 L285.4 530.6 L285.6 531.2 L285.9 531.4 L286.1 531.4 L286.4 531.4 L286.6 531 L286.9 531.4 L287.1 531.3 L287.4 531.4 L287.6 531.4 L287.9 531 L288.1 531.4 L288.4 531.4 L288.6 531.1 L288.9 531.4 L289.1 531.1 L289.4 531.4 L289.6 531.4 L289.9 531.4 L290.1 531.4 L290.4 530.8 L290.6 531.4 L290.9 531.3 L291.1 530.4 L291.4 531.4 L291.6 531.4 L291.9 531.4 L292.1 531.3 L292.4 530.7 L292.6 531.3 L292.9 531.4 L293.1 531.4 L293.4 531.4 L293.6 531.4 L293.9 531.2 L294.1 531.2 L294.4 531.2 L294.6 531.4 L294.9 531.4 L295.1 531.4 L295.4 530.5 L295.6 531.4 L295.9 531.1 L296.1 531.4 L296.4 531 L296.6 531 L296.9 531.3 L297.1 531.1 L297.4 531.4 L297.6 531.4 L297.9 531.1 L298.1 530.8 L298.4 531.4 L298.6 531.3 L298.9 531.4 L299.1 531.4 L299.4 531.2 L299.6 531.3 L299.9 531.4" fill="none" stroke="#000" stroke-width="1.3" stroke-linejoin="round"/>
<line x1="221.3" y1="438.9" x2="221.3" y2="531.4" stroke="#000" stroke-width="1.1"/>
<line x1="218.7" y1="531.4" x2="221.3" y2="531.4" stroke="#000" stroke-width="1.1"/>
<text x="215" y="534.3" class="t" text-anchor="end">0</text>
<line x1="218.7" y1="516.1" x2="221.3" y2="516.1" stroke="#000" stroke-width="1.1"/>
<text x="215" y="519" class="t" text-anchor="end">10</text>
<line x1="218.7" y1="500.7" x2="221.3" y2="500.7" stroke="#000" stroke-width="1.1"/>
<text x="215" y="503.6" class="t" text-anchor="end">20</text>
<line x1="218.7" y1="485.4" x2="221.3" y2="485.4" stroke="#000" stroke-width="1.1"/>
<text x="215" y="488.3" class="t" text-anchor="end">30</text>
<line x1="218.7" y1="470.1" x2="221.3" y2="470.1" stroke="#000" stroke-width="1.1"/>
<text x="215" y="473" class="t" text-anchor="end">40</text>
<line x1="218.7" y1="454.7" x2="221.3" y2="454.7" stroke="#000" stroke-width="1.1"/>
<text x="215" y="457.6" class="t" text-anchor="end">50</text>
<line x1="218.7" y1="439.4" x2="221.3" y2="439.4" stroke="#000" stroke-width="1.1"/>
<text x="215" y="442.3" class="t" text-anchor="end">60</text>
<line x1="218.7" y1="531.4" x2="326.2" y2="531.4" stroke="#000" stroke-width="1.3"/>
<path d="M221.3 531.4v2.2M229.2 531.4v1.5M233.8 531.4v1.5M237.1 531.4v1.5M239.6 531.4v1.5M241.7 531.4v1.5M243.5 531.4v1.5M245 531.4v1.5M246.3 531.4v1.5M247.5 531.4v2.2M255.4 531.4v1.5M260 531.4v1.5M263.3 531.4v1.5M265.9 531.4v1.5M267.9 531.4v1.5M269.7 531.4v1.5M271.2 531.4v1.5M272.6 531.4v1.5M273.8 531.4v2.2M281.6 531.4v1.5M286.3 531.4v1.5M289.5 531.4v1.5M292.1 531.4v1.5M294.2 531.4v1.5M295.9 531.4v1.5M297.4 531.4v1.5M298.8 531.4v1.5M300 531.4v2.2M307.9 531.4v1.5M312.5 531.4v1.5M315.8 531.4v1.5M318.3 531.4v1.5M320.4 531.4v1.5M322.1 531.4v1.5M323.7 531.4v1.5M325 531.4v1.5M326.2 531.4v2.2" stroke="#000" stroke-width="0.8"/>
<text x="221.3" y="545.7" class="t" text-anchor="middle">0.1</text>
<text x="247.5" y="545.7" class="t" text-anchor="middle">1</text>
<text x="273.8" y="545.7" class="t" text-anchor="middle">10</text>
<text x="300" y="545.7" class="t" text-anchor="middle">100</text>
<text x="326.2" y="545.7" class="t" text-anchor="middle">1000</text>
<text transform="translate(181.5 454) scale(0.96 1)" class="L">K</text>
<text x="323.2" y="444.1" class="h" text-anchor="end">CESS</text>
<text x="323.2" y="458.8" class="h" text-anchor="end">2%</text>
<text x="238.7" y="559.7" class="lf">Log Fluorescence</text>
<path d="M413.5 529.7 L413.8 529.3 L414 528.5 L414.2 527.9 L414.5 527.2 L414.8 526.4 L415 526.2 L415.2 524.6 L415.5 523.6 L415.8 523.8 L416 522.4 L416.2 521.6 L416.5 520.4 L416.8 518.3 L417 518.2 L417.2 515.9 L417.5 516.1 L417.8 515.9 L418 513.5 L418.2 512.7 L418.5 513.4 L418.8 511.2 L419 511.1 L419.2 507.7 L419.5 508.6 L419.8 505.2 L420 504.5 L420.2 502.9 L420.5 504.2 L420.8 501.4 L421 499 L421.2 498 L421.5 497.9 L421.8 497.3 L422 494.4 L422.2 493.5 L422.5 493.7 L422.8 491.9 L423 491.8 L423.2 495 L423.5 495.4 L423.8 495 L424 491.1 L424.2 493.5 L424.5 489.6 L424.8 491.5 L425 492.4 L425.2 491.5 L425.5 492.6 L425.8 494.3 L426 493.4 L426.2 494.5 L426.5 493.4 L426.8 494.8 L427 496.3 L427.2 497.9 L427.5 497.4 L427.8 497.4 L428 497.9 L428.2 499.1 L428.5 500.9 L428.8 499.4 L429 502.4 L429.2 502.9 L429.5 504.5 L429.8 504.7 L430 504 L430.2 505.8 L430.5 506.9 L430.8 506.9 L431 507.4 L431.2 507.7 L431.5 509.4 L431.8 509 L432 509.2 L432.2 509.9 L432.5 511.7 L432.8 510.4 L433 512 L433.2 514 L433.5 513 L433.8 514.6 L434 515.8 L434.2 516.1 L434.5 516 L434.8 515.5 L435 517.3 L435.2 518.8 L435.5 518.3 L435.8 520.4 L436 520.1 L436.2 520 L436.5 522.1 L436.8 521.6 L437 522.9 L437.2 523.3 L437.5 524.3 L437.8 524.6 L438 526.1 L438.2 526.6 L438.5 526.3 L438.8 527 L439 528.3 L439.2 528.6 L439.5 529 L439.8 529.4 L440 529.9 L440 529.9 L413.5 529.9 Z" fill="#d1d1d1" stroke="#444" stroke-width="0.6"/>
<path d="M418.5 469.2 L418.8 466.2 L419 463 L419.2 464.9 L419.5 461.6 L419.8 459.9 L420 464.1 L420.2 458.4 L420.5 456.8 L420.8 449.7 L421 453.5 L421.2 454.5 L421.5 454.8 L421.8 456.4 L422 451.4 L422.2 453.3 L422.5 453.2 L422.8 453.3 L423 458.3 L423.2 454.4 L423.5 457.2 L423.8 454.2 L424 457.9 L424.2 461.6 L424.5 461.2 L424.8 463.4 L425 465.4 L425.2 465.4 L425.5 468.8 L425.8 463.2 L426 464 L426.2 469.6 L426.5 465.4 L426.8 465.3 L427 466.5 L427.2 470 L427.5 475.1 L427.8 476.4 L428 482.1 L428.2 481.7 L428.5 484.4 L428.8 483.6 L429 485.5 L429.2 490.9 L429.5 492.2 L429.8 492.4 L430 494 L430.2 492.6 L430.5 494.8 L430.8 499.7 L431 499.2 L431.2 500.7 L431.5 505.4 L431.8 505 L432 502.6 L432.2 503.5 L432.5 503.9 L432.8 507 L433 506 L433.2 506.9 L433.5 509.1 L433.8 507.8 L434 507.7 L434.2 509.5 L434.5 510.2 L434.8 511.4 L435 510.8 L435.2 510.8 L435.5 512.3 L435.8 513.5 L436 513.3 L436.2 513.6 L436.5 513 L436.8 515.9 L437 514.5 L437.2 515.7 L437.5 515.9 L437.8 515.3 L438 518.1 L438.2 517.5 L438.5 518.3 L438.8 518.2 L439 518 L439.2 518.6 L439.5 518.8 L439.8 520.7 L440 520.3 L440.2 520 L440.5 521.2 L440.8 521.7 L441 522.7 L441.2 523.8 L441.5 522.7 L441.8 522.9 L442 522.6 L442.2 523.5 L442.5 523.5 L442.8 523.8 L443 523.2 L443.2 524.5 L443.5 524.4 L443.8 523.7 L444 524.7 L444 525.2 L443.8 525.8 L443.5 524.9 L443.2 525 L443 525.1 L442.8 524.3 L442.5 524.5 L442.2 524 L442 523.1 L441.8 524.5 L441.5 523.2 L441.2 524.3 L441 523.2 L440.8 523.1 L440.5 523.8 L440.2 523.8 L440 523.8 L439.8 524.8 L439.5 525.2 L439.2 525.8 L439 526.2 L438.8 527.1 L438.5 527 L438.2 525.6 L438 525.8 L437.8 525.2 L437.5 524 L437.2 523.2 L437 522.8 L436.8 523.1 L436.5 520.9 L436.2 520.7 L436 520.7 L435.8 520 L435.5 518.7 L435.2 518.3 L435 517.8 L434.8 517 L434.5 516.7 L434.2 516 L434 516.4 L433.8 513.4 L433.5 513.6 L433.2 513.9 L433 512.9 L432.8 512.3 L432.5 512.9 L432.2 511.3 L432 509.2 L431.8 508.7 L431.5 509.2 L431.2 507.2 L431 506.3 L430.8 507.4 L430.5 506.6 L430.2 505.3 L430 506.6 L429.8 503.4 L429.5 503.4 L429.2 502.8 L429 502 L428.8 502 L428.5 499.7 L428.2 500.2 L428 497.5 L427.8 498 L427.5 497.6 L427.2 497.4 L427 494.9 L426.8 495.7 L426.5 494.3 L426.2 497.1 L426 492.6 L425.8 496.1 L425.5 496.3 L425.2 493.7 L425 493.7 L424.8 490.9 L424.5 489.8 L424.2 485.7 L424 483.7 L423.8 475 L423.5 474.8 L423.2 469.6 L423 464.8 L422.8 463.3 L422.5 465.1 L422.2 460.3 L422 462.4 L421.8 456.9 L421.5 455.3 L421.2 455 L421 455.1 L420.8 457.4 L420.5 457.3 L420.2 458.9 L420 464.6 L419.8 463 L419.5 463.2 L419.2 465.4 L419 465.7 L418.8 466.7 L418.5 469.7 Z" fill="#1a1a1a" stroke="none"/>
<path d="M410 529.1 L410.5 529.6 L411 529.4 L411.5 528.2 L412 529 L412.5 527.2 L413 526.2 L413.5 524.7 L414 522.8 L414.5 523.5 L415 521.7 L415.5 517.5 L416 517.4 L416.5 514.5 L417 510.7 L417.5 510.7 L418 504 L418.5 503.4 L419 505.4 L419.5 490.2 L420 493.9 L420.5 491.4 L421 478.2 L421.5 487.5 L422 486.2 L422.5 469.4 L423 474.7 L423.5 475 L424 477.7 L424.5 478 L425 479 L425.5 476.6 L426 483.8 L426.5 477.1 L427 480.4 L427.5 483.9 L428 471 L428.5 497.9 L429 482.2 L429.5 484.2 L430 495.3 L430.5 491.5 L431 497.3 L431.5 500.7 L432 501.9 L432.5 504.3 L433 506 L433.5 507 L434 510.4 L434.5 509.5 L435 512.6 L435.5 514.6 L436 515.7 L436.5 514 L437 517.4 L437.5 518 L438 515.6 L438.5 519.5 L439 517.6 L439.5 520.3 L440 519.6 L440.5 522 L441 522.6 L441.5 522 L442 524.4 L442.5 524.4 L443 524.5 L443.5 526.3 L444 526.3 L444.5 527.7 L445 527.3 L445.5 527.5 L446 527.4 L446.5 528 L447 529.2 L447.5 528.4 L448 528.9 L448.5 529.4 L449 529.6 L449.5 529.3 L450 529.9" fill="none" stroke="#8a8a8a" stroke-width="0.6" stroke-linejoin="round"/>
<path d="M410 529.8 L410.2 529.9 L410.5 529.9 L410.8 529.6 L411 529.5 L411.2 528.6 L411.5 528.7 L411.8 528.2 L412 528.4 L412.2 527.6 L412.5 526.2 L412.8 526.5 L413 526 L413.2 525 L413.5 524.2 L413.8 524.8 L414 523 L414.2 522.8 L414.5 521.9 L414.8 521.3 L415 519.9 L415.2 519 L415.5 518.9 L415.8 516.7 L416 516.2 L416.2 515.6 L416.5 515.6 L416.8 513.6 L417 511.8 L417.2 511.5 L417.5 510.4 L417.8 508.3 L418 503.9 L418.2 505.7 L418.5 501 L418.8 500.4 L419 499.4 L419.2 497.4 L419.5 498.6 L419.8 497.3 L420 490.2 L420.2 491.2 L420.5 483.1 L420.8 482.3 L421 484.4 L421.2 483.3 L421.5 475 L421.8 475.7 L422 476.7 L422.2 477.1 L422.5 469.2 L422.8 474.4 L423 473 L423.2 471.7 L423.5 473.9 L423.8 474.6 L424 468.5 L424.2 468.9 L424.5 472.7 L424.8 472.4 L425 469.6 L425.2 470.9 L425.5 469.7 L425.8 474.2 L426 476.6 L426.2 473.3 L426.5 473.9 L426.8 479.2 L427 477.2 L427.2 479.9 L427.5 481.5 L427.8 482.5 L428 484.3 L428.2 486.3 L428.5 487.2 L428.8 487.4 L429 489 L429.2 490.2 L429.5 493.6 L429.8 490.3 L430 495.9 L430.2 496.5 L430.5 499 L430.8 497.2 L431 499.9 L431.2 499.5 L431.5 499.4 L431.8 500.3 L432 502 L432.2 502.6 L432.5 502.4 L432.8 504.5 L433 505.5 L433.2 507.1 L433.5 506.9 L433.8 506.7 L434 507.3 L434.2 508 L434.5 511 L434.8 509.1 L435 511.5 L435.2 511.1 L435.5 511.3 L435.8 513.8 L436 512.8 L436.2 513.2 L436.5 514.6 L436.8 515.1 L437 515.1 L437.2 515 L437.5 515.9 L437.8 516.9 L438 517.6 L438.2 517.9 L438.5 517 L438.8 518.7 L439 520 L439.2 520.6 L439.5 520.1 L439.8 520.9 L440 521.8 L440.2 522.2 L440.5 521.7 L440.8 521.4 L441 523.2 L441.2 522.5 L441.5 523.6 L441.8 523.6 L442 523.7 L442.2 524.4 L442.5 525 L442.8 524.3 L443 524.7 L443.2 525.3 L443.5 526 L443.8 526.1 L444 526.5 L444.2 526.3 L444.5 527.3 L444.8 526.5 L445 527.4 L445.2 527.2 L445.5 528 L445.8 527.4 L446 528.1 L446.2 527.7 L446.5 527.5 L446.8 528.6 L447 529.4 L447.2 528.9 L447.5 528.7 L447.8 529.3 L448 529.1 L448.2 529.2 L448.5 529.1 L448.8 529.9 L449 529.4 L449.2 529.7 L449.5 529.8 L449.8 529.9 L450 529.9" fill="none" stroke="#000" stroke-width="1.1" stroke-linejoin="round"/>
<path d="M405.5 529.9 L406 528 L406.5 526.3 L407 522.4 L407.5 521.1 L408 518.9 L408.5 518 L409 516.7 L409.5 515.7 L410 513.6 L410.5 506.6 L411 507.9 L411.5 506 L412 504.5 L412.5 502.3 L413 504.4 L413.5 500.8 L414 499.4 L414.5 494.7 L415 472.7 L415.5 471.2 L416 479.6 L416.5 475.6 L417 465 L417.5 469.6 L418 467.7 L418.5 460.2 L419 467.3 L419.5 467.2 L420 458.7 L420.5 452.6 L421 456.5 L421.5 452.7 L422 455 L422.5 448.6 L423 450 L423.5 462.6 L424 455.2 L424.5 451.7 L425 462.9 L425.5 475 L426 468 L426.5 466.6 L427 460.3 L427.5 471.5 L428 481 L428.5 490 L429 485.2 L429.5 491.4 L430 497.9 L430.5 494.8 L431 495.9 L431.5 501.2 L432 503.6 L432.5 506.4 L433 507 L433.5 508 L434 509.2 L434.5 508.1 L435 512.7 L435.5 508.8 L436 512.5 L436.5 513.6 L437 514.1 L437.5 515.9 L438 516.6 L438.5 518.4 L439 517.5 L439.5 520.8 L440 520.9 L440.5 521.1 L441 524.3 L441.5 522.5 L442 522.1 L442.5 524.5 L443 524.3 L443.5 524.4 L444 525 L444.5 524.1 L445 524.8 L445.5 525.8 L446 526.7 L446.5 525.5 L447 526.7 L447.5 526.9 L448 527 L448.5 527 L449 527.1 L449.5 528 L450 528.2 L450.5 528.2 L451 528.7 L451.5 528.3 L452 528.8 L452.5 529.6 L453 529.5 L453.5 529.1 L454 529.5 L454.5 529.5 L455 529.8 L455.5 529.5 L456 529.6 L456.5 529.9 L457 529.5 L457.5 529.9 L458 529.9 L458.5 529.7 L459 529.7 L459.5 529.6 L460 529.6" fill="none" stroke="#8a8a8a" stroke-width="0.6" stroke-linejoin="round"/>
<path d="M405.5 529.9 L405.8 529.2 L406 527.5 L406.2 527.5 L406.5 524.9 L406.8 524.6 L407 524.9 L407.2 523 L407.5 522.6 L407.8 521.1 L408 520.2 L408.2 518.9 L408.5 517.9 L408.8 516.8 L409 516.4 L409.2 514.1 L409.5 514.2 L409.8 512.7 L410 513.1 L410.2 509.6 L410.5 509.8 L410.8 509 L411 507.7 L411.2 503.8 L411.5 503.4 L411.8 503.8 L412 501.4 L412.2 498.2 L412.5 498.8 L412.8 498.1 L413 500.3 L413.2 495.5 L413.5 496.6 L413.8 497.2 L414 493.6 L414.2 491.4 L414.5 489.3 L414.8 483.1 L415 480.4 L415.2 475.6 L415.5 476.5 L415.8 476.2 L416 475.5 L416.2 471.4 L416.5 471.7 L416.8 472.3 L417 468.3 L417.2 471 L417.5 468.8 L417.8 470.8 L418 472 L418.2 467.3 L418.5 468.4 L418.8 467.4 L419 467.6 L419.2 464.2 L419.5 459.6 L419.8 462.9 L420 458.6 L420.2 454.7 L420.5 450.5 L420.8 456 L421 452.4 L421.2 458 L421.5 456.5 L421.8 451.4 L422 455.7 L422.2 454 L422.5 456.2 L422.8 457.8 L423 453 L423.2 457.4 L423.5 452.4 L423.8 457.8 L424 458.1 L424.2 455.1 L424.5 464 L424.8 460.9 L425 464.6 L425.2 466.5 L425.5 464.5 L425.8 463.1 L426 463.1 L426.2 466.2 L426.5 463.7 L426.8 468.2 L427 467.9 L427.2 467.8 L427.5 471.7 L427.8 475.5 L428 477.9 L428.2 483.8 L428.5 484.8 L428.8 483.3 L429 487.6 L429.2 487.8 L429.5 490.8 L429.8 489.3 L430 494.4 L430.2 493.4 L430.5 494.8 L430.8 498.1 L431 500.5 L431.2 502 L431.5 500 L431.8 499.1 L432 502.4 L432.2 505 L432.5 505.4 L432.8 506.6 L433 504.4 L433.2 506.6 L433.5 508.8 L433.8 510.1 L434 511 L434.2 508.7 L434.5 510.2 L434.8 510.4 L435 509.8 L435.2 511.3 L435.5 511.5 L435.8 513.4 L436 513 L436.2 515.2 L436.5 514 L436.8 514.3 L437 514.6 L437.2 515.9 L437.5 516.2 L437.8 516.3 L438 516.8 L438.2 517.8 L438.5 518 L438.8 519.7 L439 518.3 L439.2 519.3 L439.5 520.3 L439.8 520.9 L440 520.8 L440.2 520.7 L440.5 520.9 L440.8 521.9 L441 522.1 L441.2 522.8 L441.5 522.8 L441.8 523.4 L442 523.5 L442.2 522.6 L442.5 523.4 L442.8 524.3 L443 523.8 L443.2 524.8 L443.5 523.1 L443.8 525.2 L444 524 L444.2 525.2 L444.5 524.7 L444.8 524.6 L445 524.6 L445.2 525.6 L445.5 525.1 L445.8 525.5 L446 526.3 L446.2 526.3 L446.5 525.7 L446.8 526.1 L447 526.7 L447.2 527 L447.5 527.1 L447.8 526.6 L448 527.2 L448.2 526.8 L448.5 526.8 L448.8 527.1 L449 526.5 L449.2 527.5 L449.5 527.5 L449.8 528.1 L450 527.9 L450.2 528 L450.5 528 L450.8 527.6 L451 528.5 L451.2 528.4 L451.5 529.3 L451.8 528.8 L452 528.6 L452.2 529.3 L452.5 529 L452.8 529.9 L453 529.5 L453.2 529.5 L453.5 529.6 L453.8 529.5 L454 529.8 L454.2 529.8 L454.5 529.9 L454.8 529.9 L455 529.9 L455.2 529.9 L455.5 529.9 L455.8 529.9 L456 529.9 L456.2 529.9 L456.5 529.9 L456.8 529.9 L457 529.6 L457.2 529.6 L457.5 529.9 L457.8 529.4 L458 529.9 L458.2 529.9 L458.5 529.4 L458.8 529.9 L459 529.8 L459.2 529.3 L459.5 529.7 L459.8 529.7 L460 529.6" fill="none" stroke="#000" stroke-width="1.2" stroke-linejoin="round"/>
<line x1="406.2" y1="437.8" x2="406.2" y2="529.9" stroke="#000" stroke-width="1.1"/>
<line x1="403.6" y1="529.9" x2="406.2" y2="529.9" stroke="#000" stroke-width="1.1"/>
<text x="399.9" y="532.8" class="t" text-anchor="end">0</text>
<line x1="403.6" y1="511.6" x2="406.2" y2="511.6" stroke="#000" stroke-width="1.1"/>
<text x="399.9" y="514.5" class="t" text-anchor="end">10</text>
<line x1="403.6" y1="493.3" x2="406.2" y2="493.3" stroke="#000" stroke-width="1.1"/>
<text x="399.9" y="496.2" class="t" text-anchor="end">20</text>
<line x1="403.6" y1="474.9" x2="406.2" y2="474.9" stroke="#000" stroke-width="1.1"/>
<text x="399.9" y="477.8" class="t" text-anchor="end">30</text>
<line x1="403.6" y1="456.6" x2="406.2" y2="456.6" stroke="#000" stroke-width="1.1"/>
<text x="399.9" y="459.5" class="t" text-anchor="end">40</text>
<line x1="403.6" y1="438.3" x2="406.2" y2="438.3" stroke="#000" stroke-width="1.1"/>
<text x="399.9" y="441.2" class="t" text-anchor="end">50</text>
<line x1="403.6" y1="529.9" x2="510.7" y2="529.9" stroke="#000" stroke-width="1.3"/>
<path d="M406.2 529.9v2.2M414.1 529.9v1.5M418.7 529.9v1.5M421.9 529.9v1.5M424.5 529.9v1.5M426.5 529.9v1.5M428.3 529.9v1.5M429.8 529.9v1.5M431.1 529.9v1.5M432.3 529.9v2.2M440.2 529.9v1.5M444.8 529.9v1.5M448.1 529.9v1.5M450.6 529.9v1.5M452.7 529.9v1.5M454.4 529.9v1.5M455.9 529.9v1.5M457.3 529.9v1.5M458.4 529.9v2.2M466.3 529.9v1.5M470.9 529.9v1.5M474.2 529.9v1.5M476.7 529.9v1.5M478.8 529.9v1.5M480.5 529.9v1.5M482 529.9v1.5M483.4 529.9v1.5M484.6 529.9v2.2M492.4 529.9v1.5M497 529.9v1.5M500.3 529.9v1.5M502.8 529.9v1.5M504.9 529.9v1.5M506.7 529.9v1.5M508.2 529.9v1.5M509.5 529.9v1.5M510.7 529.9v2.2" stroke="#000" stroke-width="0.8"/>
<text x="406.2" y="544.2" class="t" text-anchor="middle">0.1</text>
<text x="432.3" y="544.2" class="t" text-anchor="middle">1</text>
<text x="458.4" y="544.2" class="t" text-anchor="middle">10</text>
<text x="484.6" y="544.2" class="t" text-anchor="middle">100</text>
<text x="510.7" y="544.2" class="t" text-anchor="middle">1000</text>
<text transform="translate(368.8 453.8) scale(0.96 1)" class="L">L</text>
<text x="511" y="443.9" class="h" text-anchor="end">JY</text>
<text x="511.3" y="458.8" class="h" text-anchor="end">0%</text>
<text x="424" y="557.8" class="lf">Log Fluorescence</text>
<path d="M46.1 679.7 L46.4 679.6 L46.6 679.7 L46.9 678.8 L47.1 679.7 L47.4 678.4 L47.6 677.6 L47.9 677.6 L48.1 677.2 L48.4 676.5 L48.6 674.8 L48.9 675.1 L49.1 674.2 L49.4 673.1 L49.6 671.9 L49.9 671.7 L50.1 670.4 L50.4 669.7 L50.6 668.6 L50.9 666.8 L51.1 665.5 L51.4 663.4 L51.6 659.4 L51.9 659.4 L52.1 655.4 L52.4 655.9 L52.6 652.5 L52.9 649.9 L53.1 649.4 L53.4 646.7 L53.6 644.3 L53.9 643 L54.1 641.1 L54.4 637.3 L54.6 639.5 L54.9 638 L55.1 633.2 L55.4 633.6 L55.6 631.5 L55.9 628.7 L56.1 626.8 L56.4 625.7 L56.6 626.5 L56.9 625.3 L57.1 624.2 L57.4 625.6 L57.6 622.3 L57.9 621.2 L58.1 620.4 L58.4 624.4 L58.6 624.1 L58.9 623.8 L59.1 629.3 L59.4 628.4 L59.6 633.2 L59.9 631.8 L60.1 635.3 L60.4 639.3 L60.6 640 L60.9 641.1 L61.1 642.5 L61.4 645.4 L61.6 646 L61.9 646.8 L62.1 649.8 L62.4 651.3 L62.6 653 L62.9 654.3 L63.1 657 L63.4 658.5 L63.6 660.8 L63.9 662.4 L64.1 662.8 L64.3 664.8 L64.6 666.1 L64.8 666.4 L65.1 667.3 L65.3 668 L65.6 669.8 L65.8 670.2 L66.1 670.4 L66.3 670.6 L66.6 672.5 L66.8 672.2 L67.1 673 L67.3 673.4 L67.6 674.5 L67.8 674.5 L68.1 675 L68.3 675.4 L68.6 675.6 L68.8 676.1 L69.1 675.9 L69.3 675.8 L69.6 676.7 L69.8 676.9 L70.1 676.7 L70.3 677 L70.6 677.2 L70.8 677.5 L71.1 676.6 L71.3 677.6 L71.6 677.3 L71.8 677 L72.1 678.1 L72.3 677.5 L72.6 677.5 L72.8 678 L73.1 678.5 L73.3 678.2 L73.6 678.7 L73.8 678.6 L74.1 678.5 L74.3 678.2 L74.6 678.5 L74.8 678.7 L75.1 678.4 L75.3 679.2 L75.6 678.6 L75.8 679.3 L76.1 679.3 L76.3 677.9 L76.6 679 L76.8 679.1 L77.1 679.7 L77.3 679.4 L77.6 679.2 L77.8 679.4 L78.1 679.7 L78.3 679.6 L78.6 679.7 L78.8 679.7 L79.1 678.9 L79.3 679.3 L79.6 679.7 L79.8 679.3 L80.1 679.3 L80.3 679.7 L80.6 679.7 L80.8 679.5 L81.1 679.2 L81.3 679.3 L81.6 679.2 L81.8 679.3 L82.1 679.6 L82.3 679.1 L82.3 679.7 L46.1 679.7 Z" fill="#d1d1d1" stroke="#444" stroke-width="0.6"/>
<path d="M43.1 672.6 L43.4 672.2 L43.6 671.6 L43.9 671.5 L44.1 670 L44.4 669.9 L44.6 668.9 L44.9 667.9 L45.1 668.9 L45.4 669.5 L45.6 668.1 L45.9 665.6 L46.1 665.5 L46.4 665.2 L46.6 664.7 L46.9 664.2 L47.1 663.3 L47.4 663.7 L47.6 661.4 L47.9 660.8 L48.1 660 L48.4 658.4 L48.6 658.5 L48.9 658.8 L49.1 655.8 L49.4 653.6 L49.6 652.6 L49.9 651.3 L50.1 653.6 L50.4 648.6 L50.6 647.6 L50.9 646.7 L51.1 642.7 L51.4 643.7 L51.6 639 L51.9 639.3 L52.1 636.7 L52.4 634.7 L52.6 633.9 L52.9 629.7 L53.1 630.6 L53.4 628.5 L53.6 624.5 L53.9 621.1 L54.1 615.4 L54.4 611.5 L54.6 608.9 L54.9 605.1 L55.1 612.4 L55.4 606.1 L55.6 607.1 L55.9 599.3 L56.1 605 L56.4 603.4 L56.6 602.7 L56.9 605.4 L57.1 598.9 L57.4 599.3 L57.6 597.6 L57.9 600 L58.1 601.1 L58.4 603 L58.6 606.8 L58.9 614 L59.1 612.3 L59.4 617.7 L59.6 619.7 L59.9 617.1 L60.1 620.6 L60.4 624.7 L60.6 625.3 L60.9 628.5 L61.1 626.4 L61.4 634 L61.6 636 L61.9 641.1 L62.1 640.1 L62.4 641.3 L62.6 645 L62.9 646.1 L63.1 650.7 L63.4 647 L63.6 649 L63.9 651.9 L64.1 653.1 L64.3 653.8 L64.6 655.4 L64.8 656.8 L65.1 658.4 L65.3 660.4 L65.6 662.6 L65.8 665.1 L66.1 664.5 L66.3 664.6 L66.6 665.9 L66.8 666.3 L67.1 666 L67.3 668.1 L67.6 667.6 L67.8 667 L68.1 669.4 L68.3 668 L68.6 669.2 L68.8 667 L69.1 668.8 L69.3 668.9 L69.6 669.9 L69.8 669.9 L70.1 669.3 L70.3 669.2 L70.6 669.2 L70.8 669.2 L71.1 671.1 L71.3 669.9 L71.6 669.5 L71.8 670.5 L72.1 670.7 L72.3 670.1 L72.6 670.1 L72.8 670.1 L73.1 669.3 L73.3 670.2 L73.6 670.1 L73.8 671.7 L74.1 670.6 L74.3 670.4 L74.6 671.1 L74.8 670.6 L75.1 671 L75.3 671 L75.6 672.2 L75.8 671 L76.1 671.2 L76.3 670.9 L76.6 671.3 L76.8 671.7 L77.1 670.1 L77.3 671.3 L77.6 670.4 L77.8 671.9 L78.1 671.1 L78.3 670.9 L78.6 671.8 L78.8 670.9 L79.1 671.6 L79.3 671.6 L79.6 671.2 L79.8 671.8 L80.1 672.1 L80.3 672.5 L80.6 671.6 L80.8 672.4 L81.1 671.4 L81.3 672.4 L81.6 672.3 L81.8 672 L82.1 672.2 L82.3 672.2 L82.6 671.5 L82.8 673 L83.1 673.2 L83.3 671.5 L83.6 672.4 L83.8 673.2 L84.1 672.8 L84.3 672.5 L84.6 673.5 L84.8 673.7 L85.1 673.3 L85.3 673.9 L85.3 675.3 L85.1 674.3 L84.8 674.2 L84.6 674.7 L84.3 673.2 L84.1 673.5 L83.8 673.7 L83.6 674 L83.3 673.5 L83.1 673.7 L82.8 673.5 L82.6 672.5 L82.3 673 L82.1 674 L81.8 673.8 L81.6 673.9 L81.3 675.6 L81.1 676 L80.8 677 L80.6 677.6 L80.3 678.6 L80.1 678.7 L79.8 679.7 L79.6 678.8 L79.3 679.4 L79.1 679.5 L78.8 678.7 L78.6 679.2 L78.3 678.5 L78.1 678.6 L77.8 679.1 L77.6 679 L77.3 679.3 L77.1 679 L76.8 679.1 L76.6 678.4 L76.3 678.8 L76.1 678.7 L75.8 678.9 L75.6 678.5 L75.3 678.9 L75.1 678.9 L74.8 677.4 L74.6 678.4 L74.3 677.4 L74.1 678.3 L73.8 678.9 L73.6 678.1 L73.3 678.4 L73.1 677.8 L72.8 677.7 L72.6 677.8 L72.3 677.8 L72.1 678 L71.8 677.7 L71.6 678.2 L71.3 676.7 L71.1 676.7 L70.8 676.7 L70.6 677.6 L70.3 676.9 L70.1 676.5 L69.8 676.3 L69.6 676.5 L69.3 676.6 L69.1 676.1 L68.8 675.9 L68.6 675.5 L68.3 675.7 L68.1 674.9 L67.8 674.8 L67.6 674.4 L67.3 673.7 L67.1 673.2 L66.8 672.7 L66.6 671.3 L66.3 671.1 L66.1 670.8 L65.8 671 L65.6 669.2 L65.3 668.1 L65.1 667.2 L64.8 665.8 L64.6 664.8 L64.3 664.6 L64.1 662.1 L63.9 660.4 L63.6 660.4 L63.4 660 L63.1 657.1 L62.9 654.9 L62.6 652.4 L62.4 652.1 L62.1 650.3 L61.9 648.9 L61.6 648.3 L61.4 643.3 L61.1 644.2 L60.9 641.3 L60.6 641.3 L60.4 637.6 L60.1 635.5 L59.9 634.8 L59.6 633 L59.4 626.6 L59.1 628 L58.9 629.5 L58.6 623.6 L58.4 623.2 L58.1 624.5 L57.9 621.3 L57.6 623.2 L57.4 623.4 L57.1 625.7 L56.9 624.8 L56.6 625.7 L56.4 624.9 L56.1 626.1 L55.9 633.7 L55.6 629.7 L55.4 637.6 L55.1 638.7 L54.9 639.7 L54.6 638.3 L54.4 639.8 L54.1 643.1 L53.9 643.7 L53.6 644.6 L53.4 647.4 L53.1 648 L52.9 651.1 L52.6 652.5 L52.4 654.4 L52.1 657.4 L51.9 658.9 L51.6 661 L51.4 663.1 L51.1 665.1 L50.9 666.8 L50.6 668.1 L50.4 669.7 L50.1 671.3 L49.9 671.7 L49.6 672.5 L49.4 672.9 L49.1 674.6 L48.9 674.7 L48.6 676 L48.4 673.9 L48.1 673.5 L47.9 673.4 L47.6 672.6 L47.4 671.1 L47.1 670.1 L46.9 669.3 L46.6 667.7 L46.4 667.1 L46.1 667.2 L45.9 668.5 L45.6 668.6 L45.4 670 L45.1 669.4 L44.9 669.7 L44.6 671 L44.4 670.8 L44.1 671.3 L43.9 672 L43.6 672.1 L43.4 673.2 L43.1 673.7 Z" fill="#2b2b2b" stroke="none"/>
<path d="M40.7 677.3 L41.2 677.3 L41.7 675.8 L42.2 675.5 L42.7 673.4 L43.2 672.5 L43.7 672.2 L44.2 672.2 L44.7 669.6 L45.2 670.3 L45.7 669.2 L46.2 667 L46.7 665.2 L47.2 665.5 L47.7 659.1 L48.2 660.4 L48.7 664.3 L49.2 648.1 L49.7 651.6 L50.2 647.5 L50.7 639.8 L51.2 650.4 L51.7 636.7 L52.2 639.2 L52.7 643.1 L53.2 630.6 L53.7 626 L54.2 623.1 L54.7 613.5 L55.2 609.6 L55.7 602.5 L56.2 591.7 L56.7 604.3 L57.2 610.8 L57.7 596.5 L58.2 606.3 L58.7 616.4 L59.2 608.2 L59.7 622.9 L60.2 630.5 L60.7 626.5 L61.2 634.2 L61.7 633.5 L62.2 641.7 L62.7 649.8 L63.2 652.7 L63.7 647.5 L64.2 655.6 L64.7 651.6 L65.2 662.1 L65.7 659.3 L66.2 666 L66.7 666.4 L67.2 666.9 L67.7 667.1 L68.2 667.8 L68.7 668.3 L69.2 669.3 L69.7 667.9 L70.2 669 L70.7 671.1 L71.2 669.7 L71.7 669.9 L72.2 669 L72.7 671.3 L73.2 670.6 L73.7 668 L74.2 673 L74.7 670 L75.2 671.3 L75.7 672.4 L76.2 671.8 L76.7 669 L77.2 670.1 L77.7 670.9 L78.2 671.3 L78.7 671.7 L79.2 672.3 L79.7 671.2 L80.2 672.9 L80.7 672.4 L81.2 673.6 L81.7 669.1 L82.2 673.1 L82.7 672.1 L83.2 672.8 L83.7 673.7 L84.2 672.2 L84.7 674.9 L85.2 674.8 L85.7 675 L86.2 675.8 L86.7 675.7 L87.2 675.5 L87.7 676.4 L88.2 676 L88.7 675.5 L89.2 677.3 L89.7 677.6 L90.2 676.5 L90.7 677.7 L91.2 677.1 L91.7 677.3 L92.2 677.5 L92.7 677.2 L93.2 678.2 L93.7 678.3 L94.2 678.4 L94.7 677.5 L95.2 678.5 L95.7 678.5 L96.2 677.7 L96.7 678.2 L97.2 678.8 L97.7 678.7 L98.2 679.3 L98.7 678.8 L99.2 679.5 L99.7 679.3 L100.2 679.2 L100.7 679.4 L101.2 679.7 L101.7 679.7 L102.2 679.7 L102.7 679.7 L103.2 679.7 L103.7 679.3 L104.2 679.7 L104.7 679.7" fill="none" stroke="#8a8a8a" stroke-width="0.6" stroke-linejoin="round"/>
<path d="M40.7 677.6 L41 677.6 L41.2 677.1 L41.5 675.9 L41.7 675.8 L42 675.8 L42.2 675.3 L42.5 675.3 L42.7 673.7 L43 673.4 L43.2 673.3 L43.5 671.9 L43.7 671.2 L44 671.7 L44.2 670.7 L44.5 670.4 L44.7 670.5 L45 668.3 L45.2 668.2 L45.5 667.7 L45.7 667.5 L46 667.4 L46.2 667 L46.5 664.5 L46.7 664.9 L47 664.1 L47.2 663.5 L47.5 664.3 L47.7 662.2 L48 660.2 L48.2 659.2 L48.5 659.2 L48.7 659.3 L49 657.4 L49.2 655.1 L49.5 653.1 L49.7 652 L50 648.8 L50.2 650.8 L50.5 647.9 L50.7 647 L51 644.1 L51.2 644.7 L51.5 645 L51.7 639.4 L52 637.7 L52.2 631.6 L52.5 635.6 L52.7 636.4 L53 634.8 L53.2 628.1 L53.5 627.6 L53.7 624.1 L54 620.9 L54.2 616 L54.5 613.2 L54.7 615 L55 609.9 L55.2 611 L55.5 608.9 L55.7 604.2 L56 601.2 L56.2 604.2 L56.5 598.2 L56.7 600.1 L57 600.5 L57.2 597.9 L57.5 600 L57.7 600.1 L58 602.6 L58.2 606 L58.5 602.4 L58.7 610.9 L59 611.2 L59.2 616.2 L59.5 616.9 L59.7 618.5 L60 621.5 L60.2 624 L60.5 624.5 L60.7 628.6 L61 626.5 L61.2 630.9 L61.5 632.4 L61.7 633.8 L62 643.9 L62.2 640.7 L62.5 641.8 L62.7 643.5 L63 646.8 L63.2 649.2 L63.5 650.2 L63.7 652.7 L64 651.1 L64.2 654.8 L64.5 653.9 L64.7 657.6 L65 657.5 L65.2 660.1 L65.5 662.4 L65.7 663 L66 664.2 L66.2 665.4 L66.5 665.6 L66.7 665.7 L67 668 L67.2 667.5 L67.5 666.9 L67.7 666.9 L68 666.4 L68.2 668.7 L68.5 668.2 L68.7 667.6 L69 669 L69.2 668.8 L69.5 669.7 L69.7 669.6 L70 669 L70.2 669.9 L70.5 670.1 L70.7 669.5 L71 670.4 L71.2 669.6 L71.5 670 L71.7 670 L72 669.3 L72.2 670.3 L72.5 669.9 L72.7 670 L73 669.5 L73.2 669.5 L73.5 670.8 L73.7 670.7 L74 669.4 L74.2 669.7 L74.5 670.7 L74.7 671.2 L75 671.1 L75.2 670.4 L75.5 669.7 L75.7 671.8 L76 671.1 L76.2 671.2 L76.5 671.3 L76.7 670.1 L77 671.8 L77.2 672 L77.5 672.1 L77.7 671.1 L78 671.7 L78.2 671 L78.5 671.5 L78.7 672.6 L79 671 L79.2 671.6 L79.5 671.5 L79.7 671.6 L80 671.6 L80.2 670.4 L80.5 671.1 L80.7 671 L81 671.7 L81.2 671.4 L81.5 672.2 L81.7 672.4 L82 671 L82.2 672.5 L82.5 672.2 L82.7 672.5 L83 672.8 L83.2 672 L83.5 672.2 L83.7 673.6 L84 673 L84.2 673.7 L84.5 674.1 L84.7 672.9 L85 673.7 L85.2 673.9 L85.5 674 L85.7 674.8 L86 674.4 L86.2 675.5 L86.5 675.1 L86.7 675.3 L87 674.8 L87.2 676.2 L87.5 676.1 L87.7 675.7 L88 676.1 L88.2 676.2 L88.5 677 L88.7 676.9 L89 675.8 L89.2 676.6 L89.5 677 L89.7 676.6 L90 676.9 L90.2 677.9 L90.5 677.2 L90.7 676.6 L91 677.4 L91.2 677.1 L91.5 677.2 L91.7 677.4 L92 676.8 L92.2 677.2 L92.5 677.8 L92.7 677.8 L93 678.5 L93.2 677.6 L93.5 678 L93.7 678.2 L94 678.4 L94.2 678.3 L94.5 678.2 L94.7 678 L95 678.2 L95.2 678.6 L95.5 678.9 L95.7 677.9 L96 677.9 L96.2 678.8 L96.5 678.3 L96.7 678.6 L97 678.4 L97.2 678.6 L97.5 678.7 L97.7 678.8 L98 679.3 L98.2 678.8 L98.5 678.8 L98.7 679.3 L99 679.3 L99.2 679.3 L99.5 678.5 L99.7 679 L100 679.5 L100.2 679 L100.5 679.2 L100.7 679.5 L101 679.4 L101.2 679.6 L101.5 679.3 L101.7 679.3 L102 679.4 L102.2 679.7 L102.5 679.3 L102.7 679.1 L103 679.2 L103.2 678.7 L103.5 679.3 L103.7 679.7 L104 679.6 L104.2 679.7 L104.5 679.4 L104.7 679.4 L105 679.5" fill="none" stroke="#000" stroke-width="1.3" stroke-linejoin="round"/>
<line x1="39.2" y1="586.5" x2="39.2" y2="679.7" stroke="#000" stroke-width="1.1"/>
<line x1="36.6" y1="679.7" x2="39.2" y2="679.7" stroke="#000" stroke-width="1.1"/>
<text x="32.9" y="682.6" class="t" text-anchor="end">0</text>
<line x1="36.6" y1="661.2" x2="39.2" y2="661.2" stroke="#000" stroke-width="1.1"/>
<text x="32.9" y="664.1" class="t" text-anchor="end">10</text>
<line x1="36.6" y1="642.6" x2="39.2" y2="642.6" stroke="#000" stroke-width="1.1"/>
<text x="32.9" y="645.5" class="t" text-anchor="end">20</text>
<line x1="36.6" y1="624.1" x2="39.2" y2="624.1" stroke="#000" stroke-width="1.1"/>
<text x="32.9" y="627" class="t" text-anchor="end">30</text>
<line x1="36.6" y1="605.5" x2="39.2" y2="605.5" stroke="#000" stroke-width="1.1"/>
<text x="32.9" y="608.4" class="t" text-anchor="end">40</text>
<line x1="36.6" y1="587" x2="39.2" y2="587" stroke="#000" stroke-width="1.1"/>
<text x="32.9" y="589.9" class="t" text-anchor="end">50</text>
<line x1="36.6" y1="679.7" x2="140.9" y2="679.7" stroke="#000" stroke-width="1.3"/>
<path d="M39.2 679.7v2.2M46.9 679.7v1.5M51.3 679.7v1.5M54.5 679.7v1.5M57 679.7v1.5M59 679.7v1.5M60.7 679.7v1.5M62.2 679.7v1.5M63.5 679.7v1.5M64.6 679.7v2.2M72.3 679.7v1.5M76.8 679.7v1.5M79.9 679.7v1.5M82.4 679.7v1.5M84.4 679.7v1.5M86.1 679.7v1.5M87.6 679.7v1.5M88.9 679.7v1.5M90.1 679.7v2.2M97.7 679.7v1.5M102.2 679.7v1.5M105.4 679.7v1.5M107.8 679.7v1.5M109.8 679.7v1.5M111.5 679.7v1.5M113 679.7v1.5M114.3 679.7v1.5M115.5 679.7v2.2M123.1 679.7v1.5M127.6 679.7v1.5M130.8 679.7v1.5M133.2 679.7v1.5M135.3 679.7v1.5M137 679.7v1.5M138.4 679.7v1.5M139.7 679.7v1.5M140.9 679.7v2.2" stroke="#000" stroke-width="0.8"/>
<text x="39.2" y="694" class="t" text-anchor="middle">0.1</text>
<text x="64.6" y="694" class="t" text-anchor="middle">1</text>
<text x="90.1" y="694" class="t" text-anchor="middle">10</text>
<text x="115.5" y="694" class="t" text-anchor="middle">100</text>
<text x="140.9" y="694" class="t" text-anchor="middle">1000</text>
<text transform="translate(-1.6 601.9) scale(0.96 1)" class="L">M</text>
<text x="141.2" y="594.4" class="h" text-anchor="end">Normal</text>
<text x="140.8" y="609.4" class="h" text-anchor="end">BM MNC</text>
<text x="141.3" y="624.4" class="h" text-anchor="end">0%</text>
<text x="55.7" y="707.7" class="lf">Log Fluorescence</text>
<text transform="translate(17.8 633.4) rotate(-90)" class="cn" text-anchor="middle">Cell Number</text>
</svg>
</body></html>
